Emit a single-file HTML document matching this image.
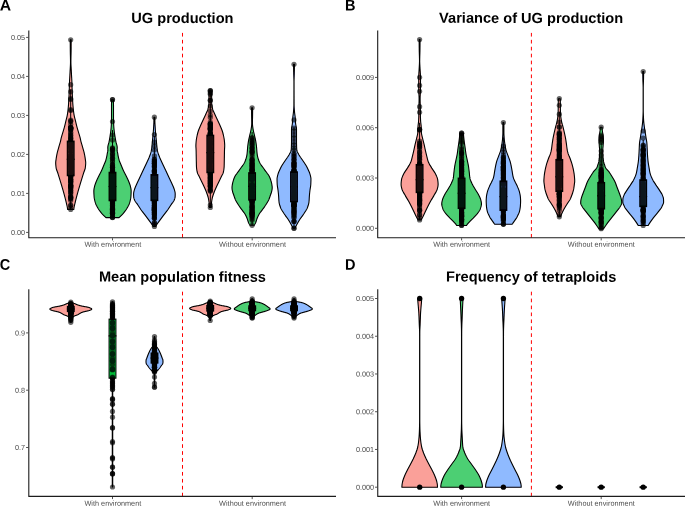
<!DOCTYPE html>
<html lang="en">
<head>
<meta charset="utf-8">
<title>Figure</title>
<style>
html,body{margin:0;padding:0;background:#fff;}
body{width:685px;height:506px;overflow:hidden;}
svg{display:block;}
.lab{font-family:"Liberation Sans",Arial,Helvetica,sans-serif;font-weight:bold;font-size:15.3px;fill:#000;}
.ttl{font-family:"Liberation Sans",Arial,Helvetica,sans-serif;font-weight:bold;font-size:14.6px;fill:#000;}
.xl{font-family:"Liberation Sans",Arial,Helvetica,sans-serif;font-size:7.3px;fill:#4D4D4D;}
.tk{font-family:"Liberation Sans",Arial,Helvetica,sans-serif;font-size:7.25px;fill:#4D4D4D;}
</style>
</head>
<body>
<svg width="685" height="506" viewBox="0 0 685 506">
<defs><filter id="soft" x="-5%" y="-5%" width="110%" height="110%"><feGaussianBlur stdDeviation="0.32"/></filter></defs>
<rect width="685" height="506" fill="#fff"/>
<g filter="url(#soft)">
<line x1="182.5" x2="182.5" y1="32.9" y2="237.7" stroke="#FF0000" stroke-width="1" stroke-dasharray="3.67,3.263" />
<path d="M70.25,39.8 L70.25,40.3 L70.25,40.8 L70.25,41.3 L70.25,41.8 L70.25,42.3 L70.26,42.8 L70.26,43.3 L70.26,43.8 L70.26,44.3 L70.26,44.8 L70.27,45.3 L70.27,45.8 L70.27,46.3 L70.28,46.8 L70.28,47.3 L70.28,47.8 L70.29,48.3 L70.29,48.8 L70.29,49.3 L70.3,49.8 L70.3,50.3 L70.31,50.8 L70.31,51.3 L70.32,51.8 L70.33,52.3 L70.34,52.8 L70.35,53.3 L70.36,53.8 L70.37,54.3 L70.38,54.8 L70.39,55.3 L70.41,55.8 L70.42,56.3 L70.43,56.8 L70.44,57.3 L70.45,57.8 L70.46,58.3 L70.47,58.8 L70.48,59.3 L70.48,59.8 L70.49,60.3 L70.5,60.8 L70.5,61.3 L70.5,61.8 L70.5,62.3 L70.49,62.8 L70.48,63.3 L70.47,63.8 L70.45,64.3 L70.44,64.8 L70.41,65.3 L70.39,65.8 L70.36,66.3 L70.33,66.8 L70.31,67.3 L70.28,67.8 L70.25,68.3 L70.22,68.8 L70.19,69.3 L70.16,69.8 L70.13,70.3 L70.1,70.8 L70.08,71.3 L70.06,71.8 L70.03,72.3 L70.01,72.8 L69.98,73.3 L69.96,73.8 L69.93,74.3 L69.9,74.8 L69.88,75.3 L69.85,75.8 L69.82,76.3 L69.79,76.8 L69.76,77.3 L69.73,77.8 L69.7,78.3 L69.67,78.8 L69.64,79.3 L69.61,79.8 L69.59,80.3 L69.56,80.8 L69.54,81.3 L69.52,81.8 L69.51,82.3 L69.49,82.8 L69.47,83.3 L69.46,83.8 L69.44,84.3 L69.42,84.8 L69.41,85.3 L69.39,85.8 L69.38,86.3 L69.36,86.8 L69.35,87.3 L69.33,87.8 L69.32,88.3 L69.3,88.8 L69.29,89.3 L69.27,89.8 L69.25,90.3 L69.24,90.8 L69.22,91.3 L69.2,91.8 L69.18,92.3 L69.15,92.8 L69.13,93.3 L69.11,93.8 L69.09,94.3 L69.07,94.8 L69.04,95.3 L69.02,95.8 L69,96.3 L68.97,96.8 L68.95,97.3 L68.92,97.8 L68.9,98.3 L68.87,98.8 L68.85,99.3 L68.82,99.8 L68.79,100.3 L68.76,100.8 L68.73,101.3 L68.7,101.8 L68.67,102.3 L68.64,102.8 L68.61,103.3 L68.57,103.8 L68.54,104.3 L68.5,104.8 L68.46,105.3 L68.42,105.8 L68.38,106.3 L68.33,106.8 L68.29,107.3 L68.24,107.8 L68.19,108.3 L68.14,108.8 L68.09,109.3 L68.03,109.8 L67.98,110.3 L67.92,110.8 L67.86,111.3 L67.79,111.8 L67.72,112.3 L67.65,112.8 L67.58,113.3 L67.5,113.8 L67.42,114.3 L67.33,114.8 L67.25,115.3 L67.15,115.8 L67.04,116.3 L66.93,116.8 L66.81,117.3 L66.69,117.8 L66.56,118.3 L66.43,118.8 L66.3,119.3 L66.17,119.8 L66.05,120.3 L65.92,120.8 L65.8,121.3 L65.69,121.8 L65.57,122.3 L65.45,122.8 L65.34,123.3 L65.22,123.8 L65.1,124.3 L64.98,124.8 L64.86,125.3 L64.73,125.8 L64.6,126.3 L64.47,126.8 L64.34,127.3 L64.2,127.8 L64.05,128.3 L63.9,128.8 L63.76,129.3 L63.61,129.8 L63.46,130.3 L63.31,130.8 L63.16,131.3 L63.01,131.8 L62.86,132.3 L62.71,132.8 L62.56,133.3 L62.4,133.8 L62.25,134.3 L62.1,134.8 L61.95,135.3 L61.8,135.8 L61.65,136.3 L61.51,136.8 L61.38,137.3 L61.25,137.8 L61.12,138.3 L61.01,138.8 L60.91,139.3 L60.81,139.8 L60.71,140.3 L60.6,140.8 L60.48,141.3 L60.35,141.8 L60.21,142.3 L60.06,142.8 L59.92,143.3 L59.76,143.8 L59.61,144.3 L59.46,144.8 L59.31,145.3 L59.16,145.8 L59.01,146.3 L58.87,146.8 L58.74,147.3 L58.6,147.8 L58.47,148.3 L58.32,148.8 L58.18,149.3 L58.03,149.8 L57.88,150.3 L57.74,150.8 L57.6,151.3 L57.47,151.8 L57.35,152.3 L57.23,152.8 L57.12,153.3 L57.02,153.8 L56.91,154.3 L56.81,154.8 L56.71,155.3 L56.62,155.8 L56.53,156.3 L56.44,156.8 L56.36,157.3 L56.29,157.8 L56.21,158.3 L56.14,158.8 L56.07,159.3 L56,159.8 L55.93,160.3 L55.86,160.8 L55.8,161.3 L55.75,161.8 L55.72,162.3 L55.7,162.8 L55.7,163.3 L55.72,163.8 L55.74,164.3 L55.78,164.8 L55.82,165.3 L55.87,165.8 L55.92,166.3 L55.98,166.8 L56.05,167.3 L56.11,167.8 L56.2,168.3 L56.32,168.8 L56.46,169.3 L56.61,169.8 L56.79,170.3 L56.97,170.8 L57.16,171.3 L57.35,171.8 L57.54,172.3 L57.73,172.8 L57.9,173.3 L58.06,173.8 L58.22,174.3 L58.38,174.8 L58.53,175.3 L58.69,175.8 L58.84,176.3 L59,176.8 L59.15,177.3 L59.31,177.8 L59.46,178.3 L59.62,178.8 L59.77,179.3 L59.92,179.8 L60.08,180.3 L60.23,180.8 L60.38,181.3 L60.53,181.8 L60.69,182.3 L60.84,182.8 L60.99,183.3 L61.14,183.8 L61.29,184.3 L61.44,184.8 L61.59,185.3 L61.74,185.8 L61.89,186.3 L62.04,186.8 L62.18,187.3 L62.33,187.8 L62.48,188.3 L62.63,188.8 L62.77,189.3 L62.92,189.8 L63.06,190.3 L63.2,190.8 L63.34,191.3 L63.48,191.8 L63.62,192.3 L63.76,192.8 L63.89,193.3 L64.03,193.8 L64.16,194.3 L64.3,194.8 L64.43,195.3 L64.56,195.8 L64.7,196.3 L64.83,196.8 L64.96,197.3 L65.09,197.8 L65.22,198.3 L65.34,198.8 L65.47,199.3 L65.6,199.8 L65.72,200.3 L65.85,200.8 L65.97,201.3 L66.09,201.8 L66.2,202.3 L66.32,202.8 L66.44,203.3 L66.56,203.8 L66.68,204.3 L66.8,204.8 L66.92,205.3 L67.04,205.8 L67.15,206.3 L67.25,206.8 L67.34,207.3 L67.42,207.8 L67.49,208.3 L67.54,208.8 L67.59,209.3 L67.6,209.5 L73.8,209.5 L73.81,209.3 L73.86,208.8 L73.91,208.3 L73.98,207.8 L74.06,207.3 L74.15,206.8 L74.25,206.3 L74.36,205.8 L74.48,205.3 L74.6,204.8 L74.72,204.3 L74.84,203.8 L74.96,203.3 L75.08,202.8 L75.2,202.3 L75.31,201.8 L75.43,201.3 L75.55,200.8 L75.68,200.3 L75.8,199.8 L75.93,199.3 L76.06,198.8 L76.18,198.3 L76.31,197.8 L76.44,197.3 L76.57,196.8 L76.7,196.3 L76.84,195.8 L76.97,195.3 L77.1,194.8 L77.24,194.3 L77.37,193.8 L77.51,193.3 L77.64,192.8 L77.78,192.3 L77.92,191.8 L78.06,191.3 L78.2,190.8 L78.34,190.3 L78.48,189.8 L78.63,189.3 L78.77,188.8 L78.92,188.3 L79.07,187.8 L79.22,187.3 L79.36,186.8 L79.51,186.3 L79.66,185.8 L79.81,185.3 L79.96,184.8 L80.11,184.3 L80.26,183.8 L80.41,183.3 L80.56,182.8 L80.71,182.3 L80.87,181.8 L81.02,181.3 L81.17,180.8 L81.32,180.3 L81.48,179.8 L81.63,179.3 L81.78,178.8 L81.94,178.3 L82.09,177.8 L82.25,177.3 L82.4,176.8 L82.56,176.3 L82.71,175.8 L82.87,175.3 L83.02,174.8 L83.18,174.3 L83.34,173.8 L83.5,173.3 L83.67,172.8 L83.86,172.3 L84.05,171.8 L84.24,171.3 L84.43,170.8 L84.61,170.3 L84.79,169.8 L84.94,169.3 L85.08,168.8 L85.2,168.3 L85.29,167.8 L85.35,167.3 L85.42,166.8 L85.48,166.3 L85.53,165.8 L85.58,165.3 L85.62,164.8 L85.66,164.3 L85.68,163.8 L85.7,163.3 L85.7,162.8 L85.68,162.3 L85.65,161.8 L85.6,161.3 L85.54,160.8 L85.47,160.3 L85.4,159.8 L85.33,159.3 L85.26,158.8 L85.19,158.3 L85.11,157.8 L85.04,157.3 L84.96,156.8 L84.87,156.3 L84.78,155.8 L84.69,155.3 L84.59,154.8 L84.49,154.3 L84.38,153.8 L84.28,153.3 L84.17,152.8 L84.05,152.3 L83.93,151.8 L83.8,151.3 L83.66,150.8 L83.52,150.3 L83.37,149.8 L83.22,149.3 L83.08,148.8 L82.93,148.3 L82.8,147.8 L82.66,147.3 L82.53,146.8 L82.39,146.3 L82.24,145.8 L82.09,145.3 L81.94,144.8 L81.79,144.3 L81.64,143.8 L81.48,143.3 L81.34,142.8 L81.19,142.3 L81.05,141.8 L80.92,141.3 L80.8,140.8 L80.69,140.3 L80.59,139.8 L80.49,139.3 L80.39,138.8 L80.28,138.3 L80.15,137.8 L80.02,137.3 L79.89,136.8 L79.75,136.3 L79.6,135.8 L79.45,135.3 L79.3,134.8 L79.15,134.3 L79,133.8 L78.84,133.3 L78.69,132.8 L78.54,132.3 L78.39,131.8 L78.24,131.3 L78.09,130.8 L77.94,130.3 L77.79,129.8 L77.64,129.3 L77.5,128.8 L77.35,128.3 L77.2,127.8 L77.06,127.3 L76.93,126.8 L76.8,126.3 L76.67,125.8 L76.54,125.3 L76.42,124.8 L76.3,124.3 L76.18,123.8 L76.06,123.3 L75.95,122.8 L75.83,122.3 L75.71,121.8 L75.6,121.3 L75.48,120.8 L75.35,120.3 L75.23,119.8 L75.1,119.3 L74.97,118.8 L74.84,118.3 L74.71,117.8 L74.59,117.3 L74.47,116.8 L74.36,116.3 L74.25,115.8 L74.15,115.3 L74.07,114.8 L73.98,114.3 L73.9,113.8 L73.82,113.3 L73.75,112.8 L73.68,112.3 L73.61,111.8 L73.54,111.3 L73.48,110.8 L73.42,110.3 L73.37,109.8 L73.31,109.3 L73.26,108.8 L73.21,108.3 L73.16,107.8 L73.11,107.3 L73.07,106.8 L73.02,106.3 L72.98,105.8 L72.94,105.3 L72.9,104.8 L72.86,104.3 L72.83,103.8 L72.79,103.3 L72.76,102.8 L72.73,102.3 L72.7,101.8 L72.67,101.3 L72.64,100.8 L72.61,100.3 L72.58,99.8 L72.55,99.3 L72.53,98.8 L72.5,98.3 L72.48,97.8 L72.45,97.3 L72.43,96.8 L72.4,96.3 L72.38,95.8 L72.36,95.3 L72.33,94.8 L72.31,94.3 L72.29,93.8 L72.27,93.3 L72.25,92.8 L72.22,92.3 L72.2,91.8 L72.18,91.3 L72.16,90.8 L72.15,90.3 L72.13,89.8 L72.11,89.3 L72.1,88.8 L72.08,88.3 L72.07,87.8 L72.05,87.3 L72.04,86.8 L72.02,86.3 L72.01,85.8 L71.99,85.3 L71.98,84.8 L71.96,84.3 L71.94,83.8 L71.93,83.3 L71.91,82.8 L71.89,82.3 L71.88,81.8 L71.86,81.3 L71.84,80.8 L71.81,80.3 L71.79,79.8 L71.76,79.3 L71.73,78.8 L71.7,78.3 L71.67,77.8 L71.64,77.3 L71.61,76.8 L71.58,76.3 L71.55,75.8 L71.52,75.3 L71.5,74.8 L71.47,74.3 L71.44,73.8 L71.42,73.3 L71.39,72.8 L71.37,72.3 L71.34,71.8 L71.32,71.3 L71.3,70.8 L71.27,70.3 L71.24,69.8 L71.21,69.3 L71.18,68.8 L71.15,68.3 L71.12,67.8 L71.09,67.3 L71.07,66.8 L71.04,66.3 L71.01,65.8 L70.99,65.3 L70.96,64.8 L70.95,64.3 L70.93,63.8 L70.92,63.3 L70.91,62.8 L70.9,62.3 L70.9,61.8 L70.9,61.3 L70.9,60.8 L70.91,60.3 L70.92,59.8 L70.92,59.3 L70.93,58.8 L70.94,58.3 L70.95,57.8 L70.96,57.3 L70.97,56.8 L70.98,56.3 L70.99,55.8 L71.01,55.3 L71.02,54.8 L71.03,54.3 L71.04,53.8 L71.05,53.3 L71.06,52.8 L71.07,52.3 L71.08,51.8 L71.09,51.3 L71.09,50.8 L71.1,50.3 L71.1,49.8 L71.11,49.3 L71.11,48.8 L71.11,48.3 L71.12,47.8 L71.12,47.3 L71.12,46.8 L71.13,46.3 L71.13,45.8 L71.13,45.3 L71.14,44.8 L71.14,44.3 L71.14,43.8 L71.14,43.3 L71.14,42.8 L71.15,42.3 L71.15,41.8 L71.15,41.3 L71.15,40.8 L71.15,40.3 L71.15,39.8Z" fill="#F8766D" fill-opacity="0.7" stroke="#000" stroke-width="1.1" stroke-linejoin="round"/>
<line x1="70.7" x2="70.7" y1="89.6" y2="209.5" stroke="#000" stroke-width="1.0"/>
<rect x="67.6" y="141.4" width="6.2" height="34" fill="#F8766D" fill-opacity="0.7" stroke="#000" stroke-width="1.7"/>
<line x1="66.75" x2="74.65" y1="159.3" y2="159.3" stroke="#000" stroke-width="1.2"/>
<g fill="#000" fill-opacity="0.6">
<circle cx="70.7" cy="39.8" r="2.6"/><circle cx="70.7" cy="209.5" r="2.6"/><circle cx="70.7" cy="84.7" r="2.6"/><circle cx="70.7" cy="91.7" r="2.6"/><circle cx="70.7" cy="98.5" r="2.6"/><circle cx="70.7" cy="99.5" r="2.6"/><circle cx="70.7" cy="109.5" r="2.6"/><circle cx="70.7" cy="110.5" r="2.6"/><circle cx="70.7" cy="120" r="2.6"/><circle cx="70.7" cy="121" r="2.6"/><circle cx="70.7" cy="121.5" r="2.6"/><circle cx="70.7" cy="138.82" r="2.6"/><circle cx="70.7" cy="186.71" r="2.6"/><circle cx="70.7" cy="179.51" r="2.6"/><circle cx="70.7" cy="148.13" r="2.6"/><circle cx="70.7" cy="162.68" r="2.6"/><circle cx="70.7" cy="160.09" r="2.6"/><circle cx="70.7" cy="171.71" r="2.6"/><circle cx="70.7" cy="181.5" r="2.6"/><circle cx="70.7" cy="135.13" r="2.6"/><circle cx="70.7" cy="127.91" r="2.6"/><circle cx="70.7" cy="185.6" r="2.6"/><circle cx="70.7" cy="159.13" r="2.6"/><circle cx="70.7" cy="179.4" r="2.6"/><circle cx="70.7" cy="124.28" r="2.6"/><circle cx="70.7" cy="159.85" r="2.6"/><circle cx="70.7" cy="176.39" r="2.6"/><circle cx="70.7" cy="146.28" r="2.6"/><circle cx="70.7" cy="198.4" r="2.6"/><circle cx="70.7" cy="192.49" r="2.6"/><circle cx="70.7" cy="128.2" r="2.6"/><circle cx="70.7" cy="127.54" r="2.6"/><circle cx="70.7" cy="165.26" r="2.6"/><circle cx="70.7" cy="197.47" r="2.6"/><circle cx="70.7" cy="156.12" r="2.6"/><circle cx="70.7" cy="145.4" r="2.6"/><circle cx="70.7" cy="158.52" r="2.6"/><circle cx="70.7" cy="128" r="2.6"/><circle cx="70.7" cy="145.77" r="2.6"/><circle cx="70.7" cy="159.42" r="2.6"/><circle cx="70.7" cy="162.7" r="2.6"/><circle cx="70.7" cy="146.59" r="2.6"/><circle cx="70.7" cy="146.44" r="2.6"/><circle cx="70.7" cy="145.56" r="2.6"/><circle cx="70.7" cy="160.66" r="2.6"/><circle cx="70.7" cy="150.46" r="2.6"/><circle cx="70.7" cy="127.02" r="2.6"/><circle cx="70.7" cy="185.77" r="2.6"/><circle cx="70.7" cy="166.11" r="2.6"/><circle cx="70.7" cy="171.13" r="2.6"/><circle cx="70.7" cy="143.07" r="2.6"/><circle cx="70.7" cy="207.54" r="2.6"/><circle cx="70.7" cy="187.94" r="2.6"/><circle cx="70.7" cy="137.64" r="2.6"/><circle cx="70.7" cy="153.18" r="2.6"/><circle cx="70.7" cy="176.38" r="2.6"/><circle cx="70.7" cy="175.66" r="2.6"/><circle cx="70.7" cy="197.08" r="2.6"/><circle cx="70.7" cy="158.52" r="2.6"/><circle cx="70.7" cy="185.07" r="2.6"/><circle cx="70.7" cy="172.91" r="2.6"/><circle cx="70.7" cy="151.34" r="2.6"/><circle cx="70.7" cy="167.89" r="2.6"/><circle cx="70.7" cy="190.32" r="2.6"/><circle cx="70.7" cy="186.59" r="2.6"/><circle cx="70.7" cy="163.23" r="2.6"/><circle cx="70.7" cy="167.97" r="2.6"/><circle cx="70.7" cy="128.69" r="2.6"/><circle cx="70.7" cy="147.28" r="2.6"/><circle cx="70.7" cy="182.22" r="2.6"/><circle cx="70.7" cy="158.06" r="2.6"/><circle cx="70.7" cy="142.05" r="2.6"/><circle cx="70.7" cy="165.67" r="2.6"/><circle cx="70.7" cy="175.1" r="2.6"/><circle cx="70.7" cy="173.18" r="2.6"/><circle cx="70.7" cy="155.73" r="2.6"/><circle cx="70.7" cy="159.49" r="2.6"/><circle cx="70.7" cy="163.4" r="2.6"/><circle cx="70.7" cy="180.67" r="2.6"/><circle cx="70.7" cy="164.11" r="2.6"/><circle cx="70.7" cy="156.83" r="2.6"/><circle cx="70.7" cy="162.36" r="2.6"/><circle cx="70.7" cy="128.07" r="2.6"/><circle cx="70.7" cy="129.78" r="2.6"/><circle cx="70.7" cy="175.12" r="2.6"/><circle cx="70.7" cy="205.31" r="2.6"/><circle cx="70.7" cy="168.21" r="2.6"/><circle cx="70.7" cy="156.85" r="2.6"/><circle cx="70.7" cy="141.84" r="2.6"/><circle cx="70.7" cy="163.06" r="2.6"/><circle cx="70.7" cy="205.07" r="2.6"/><circle cx="70.7" cy="128.4" r="2.6"/><circle cx="70.7" cy="130.06" r="2.6"/><circle cx="70.7" cy="132.28" r="2.6"/><circle cx="70.7" cy="133.56" r="2.6"/><circle cx="70.7" cy="135.74" r="2.6"/><circle cx="70.7" cy="138.08" r="2.6"/><circle cx="70.7" cy="139.6" r="2.6"/><circle cx="70.7" cy="141.38" r="2.6"/><circle cx="70.7" cy="143.09" r="2.6"/><circle cx="70.7" cy="145.27" r="2.6"/><circle cx="70.7" cy="147.58" r="2.6"/><circle cx="70.7" cy="148.53" r="2.6"/><circle cx="70.7" cy="151.21" r="2.6"/><circle cx="70.7" cy="153.15" r="2.6"/><circle cx="70.7" cy="155.11" r="2.6"/><circle cx="70.7" cy="156.87" r="2.6"/><circle cx="70.7" cy="158.83" r="2.6"/><circle cx="70.7" cy="160.44" r="2.6"/><circle cx="70.7" cy="162.39" r="2.6"/><circle cx="70.7" cy="164.15" r="2.6"/><circle cx="70.7" cy="165.68" r="2.6"/><circle cx="70.7" cy="168.39" r="2.6"/><circle cx="70.7" cy="169.99" r="2.6"/><circle cx="70.7" cy="171.52" r="2.6"/><circle cx="70.7" cy="173.73" r="2.6"/><circle cx="70.7" cy="175.61" r="2.6"/><circle cx="70.7" cy="177.38" r="2.6"/><circle cx="70.7" cy="179.27" r="2.6"/><circle cx="70.7" cy="181.36" r="2.6"/><circle cx="70.7" cy="183.35" r="2.6"/><circle cx="70.7" cy="185.24" r="2.6"/><circle cx="70.7" cy="186.98" r="2.6"/><circle cx="70.7" cy="188.45" r="2.6"/><circle cx="70.7" cy="190.55" r="2.6"/><circle cx="70.7" cy="192.4" r="2.6"/><circle cx="70.7" cy="194.71" r="2.6"/><circle cx="70.7" cy="196.89" r="2.6"/><circle cx="70.7" cy="198.72" r="2.6"/><circle cx="70.7" cy="200.62" r="2.6"/>
</g>
<rect x="67.75" y="142.2" width="5.9" height="32.4" fill="#F8766D" fill-opacity="0.12"/>
<path d="M111.6,99.7 L111.59,100.2 L111.58,100.7 L111.57,101.2 L111.56,101.7 L111.55,102.2 L111.54,102.7 L111.53,103.2 L111.52,103.7 L111.52,104.2 L111.51,104.7 L111.51,105.2 L111.5,105.7 L111.5,106.2 L111.5,106.7 L111.5,107.2 L111.5,107.7 L111.5,108.2 L111.5,108.7 L111.5,109.2 L111.5,109.7 L111.5,110.2 L111.5,110.7 L111.5,111.2 L111.5,111.7 L111.5,112.2 L111.5,112.7 L111.5,113.2 L111.5,113.7 L111.5,114.2 L111.5,114.7 L111.5,115.2 L111.5,115.7 L111.5,116.2 L111.5,116.7 L111.5,117.2 L111.5,117.7 L111.5,118.2 L111.5,118.7 L111.5,119.2 L111.49,119.7 L111.48,120.2 L111.47,120.7 L111.45,121.2 L111.44,121.7 L111.42,122.2 L111.4,122.7 L111.38,123.2 L111.36,123.7 L111.34,124.2 L111.31,124.7 L111.29,125.2 L111.26,125.7 L111.23,126.2 L111.2,126.7 L111.16,127.2 L111.12,127.7 L111.07,128.2 L111.03,128.7 L110.98,129.2 L110.93,129.7 L110.88,130.2 L110.83,130.7 L110.77,131.2 L110.71,131.7 L110.65,132.2 L110.58,132.7 L110.51,133.2 L110.44,133.7 L110.37,134.2 L110.3,134.7 L110.22,135.2 L110.15,135.7 L110.07,136.2 L109.99,136.7 L109.91,137.2 L109.83,137.7 L109.74,138.2 L109.66,138.7 L109.57,139.2 L109.48,139.7 L109.39,140.2 L109.29,140.7 L109.2,141.2 L109.1,141.7 L108.99,142.2 L108.87,142.7 L108.73,143.2 L108.58,143.7 L108.44,144.2 L108.29,144.7 L108.16,145.2 L108.04,145.7 L107.94,146.2 L107.86,146.7 L107.81,147.2 L107.8,147.7 L107.82,148.2 L107.84,148.7 L107.87,149.2 L107.9,149.7 L107.9,150.2 L107.85,150.7 L107.78,151.2 L107.67,151.7 L107.56,152.2 L107.44,152.7 L107.34,153.2 L107.25,153.7 L107.17,154.2 L107.09,154.7 L107.01,155.2 L106.92,155.7 L106.82,156.2 L106.72,156.7 L106.61,157.2 L106.5,157.7 L106.38,158.2 L106.26,158.7 L106.13,159.2 L105.99,159.7 L105.84,160.2 L105.67,160.7 L105.49,161.2 L105.3,161.7 L105.1,162.2 L104.89,162.7 L104.67,163.2 L104.45,163.7 L104.24,164.2 L104.02,164.7 L103.82,165.2 L103.61,165.7 L103.41,166.2 L103.21,166.7 L103,167.2 L102.8,167.7 L102.59,168.2 L102.38,168.7 L102.17,169.2 L101.95,169.7 L101.73,170.2 L101.5,170.7 L101.26,171.2 L101.02,171.7 L100.77,172.2 L100.51,172.7 L100.24,173.2 L99.98,173.7 L99.72,174.2 L99.46,174.7 L99.2,175.2 L98.95,175.7 L98.7,176.2 L98.46,176.7 L98.21,177.2 L97.97,177.7 L97.73,178.2 L97.49,178.7 L97.25,179.2 L97.02,179.7 L96.79,180.2 L96.58,180.7 L96.37,181.2 L96.17,181.7 L95.97,182.2 L95.78,182.7 L95.59,183.2 L95.4,183.7 L95.23,184.2 L95.06,184.7 L94.91,185.2 L94.77,185.7 L94.65,186.2 L94.53,186.7 L94.41,187.2 L94.3,187.7 L94.18,188.2 L94.08,188.7 L94,189.2 L93.93,189.7 L93.88,190.2 L93.85,190.7 L93.85,191.2 L93.86,191.7 L93.87,192.2 L93.88,192.7 L93.9,193.2 L93.92,193.7 L93.94,194.2 L93.97,194.7 L94,195.2 L94.03,195.7 L94.07,196.2 L94.1,196.7 L94.14,197.2 L94.2,197.7 L94.27,198.2 L94.35,198.7 L94.45,199.2 L94.55,199.7 L94.66,200.2 L94.79,200.7 L94.91,201.2 L95.05,201.7 L95.19,202.2 L95.33,202.7 L95.49,203.2 L95.68,203.7 L95.89,204.2 L96.12,204.7 L96.36,205.2 L96.62,205.7 L96.88,206.2 L97.16,206.7 L97.43,207.2 L97.71,207.7 L98,208.2 L98.3,208.7 L98.62,209.2 L98.94,209.7 L99.28,210.2 L99.63,210.7 L99.98,211.2 L100.36,211.7 L100.74,212.2 L101.13,212.7 L101.54,213.2 L101.95,213.7 L102.39,214.2 L102.86,214.7 L103.34,215.2 L103.85,215.7 L104.37,216.2 L104.9,216.7 L105.45,217.2 L105.9,217.6 L119.1,217.6 L119.55,217.2 L120.1,216.7 L120.63,216.2 L121.15,215.7 L121.66,215.2 L122.14,214.7 L122.61,214.2 L123.05,213.7 L123.46,213.2 L123.87,212.7 L124.26,212.2 L124.64,211.7 L125.02,211.2 L125.37,210.7 L125.72,210.2 L126.06,209.7 L126.38,209.2 L126.7,208.7 L127,208.2 L127.29,207.7 L127.57,207.2 L127.84,206.7 L128.12,206.2 L128.38,205.7 L128.64,205.2 L128.88,204.7 L129.11,204.2 L129.32,203.7 L129.51,203.2 L129.67,202.7 L129.81,202.2 L129.95,201.7 L130.09,201.2 L130.21,200.7 L130.34,200.2 L130.45,199.7 L130.55,199.2 L130.65,198.7 L130.73,198.2 L130.8,197.7 L130.86,197.2 L130.9,196.7 L130.93,196.2 L130.97,195.7 L131,195.2 L131.03,194.7 L131.06,194.2 L131.08,193.7 L131.1,193.2 L131.12,192.7 L131.13,192.2 L131.14,191.7 L131.15,191.2 L131.15,190.7 L131.12,190.2 L131.07,189.7 L131,189.2 L130.92,188.7 L130.82,188.2 L130.7,187.7 L130.59,187.2 L130.47,186.7 L130.35,186.2 L130.23,185.7 L130.09,185.2 L129.94,184.7 L129.77,184.2 L129.6,183.7 L129.41,183.2 L129.22,182.7 L129.03,182.2 L128.83,181.7 L128.63,181.2 L128.42,180.7 L128.21,180.2 L127.98,179.7 L127.75,179.2 L127.51,178.7 L127.27,178.2 L127.03,177.7 L126.79,177.2 L126.54,176.7 L126.3,176.2 L126.05,175.7 L125.8,175.2 L125.54,174.7 L125.28,174.2 L125.02,173.7 L124.76,173.2 L124.49,172.7 L124.23,172.2 L123.98,171.7 L123.74,171.2 L123.5,170.7 L123.27,170.2 L123.05,169.7 L122.83,169.2 L122.62,168.7 L122.41,168.2 L122.2,167.7 L122,167.2 L121.79,166.7 L121.59,166.2 L121.39,165.7 L121.18,165.2 L120.98,164.7 L120.76,164.2 L120.55,163.7 L120.33,163.2 L120.11,162.7 L119.9,162.2 L119.7,161.7 L119.51,161.2 L119.33,160.7 L119.16,160.2 L119.01,159.7 L118.87,159.2 L118.74,158.7 L118.62,158.2 L118.5,157.7 L118.39,157.2 L118.28,156.7 L118.18,156.2 L118.08,155.7 L117.99,155.2 L117.91,154.7 L117.83,154.2 L117.75,153.7 L117.66,153.2 L117.56,152.7 L117.44,152.2 L117.33,151.7 L117.22,151.2 L117.15,150.7 L117.1,150.2 L117.1,149.7 L117.13,149.2 L117.16,148.7 L117.18,148.2 L117.2,147.7 L117.19,147.2 L117.14,146.7 L117.06,146.2 L116.96,145.7 L116.84,145.2 L116.71,144.7 L116.56,144.2 L116.42,143.7 L116.27,143.2 L116.13,142.7 L116.01,142.2 L115.9,141.7 L115.8,141.2 L115.71,140.7 L115.61,140.2 L115.52,139.7 L115.43,139.2 L115.34,138.7 L115.26,138.2 L115.17,137.7 L115.09,137.2 L115.01,136.7 L114.93,136.2 L114.85,135.7 L114.78,135.2 L114.7,134.7 L114.63,134.2 L114.56,133.7 L114.49,133.2 L114.42,132.7 L114.35,132.2 L114.29,131.7 L114.23,131.2 L114.17,130.7 L114.12,130.2 L114.07,129.7 L114.02,129.2 L113.97,128.7 L113.93,128.2 L113.88,127.7 L113.84,127.2 L113.8,126.7 L113.77,126.2 L113.74,125.7 L113.71,125.2 L113.69,124.7 L113.66,124.2 L113.64,123.7 L113.62,123.2 L113.6,122.7 L113.58,122.2 L113.56,121.7 L113.55,121.2 L113.53,120.7 L113.52,120.2 L113.51,119.7 L113.5,119.2 L113.5,118.7 L113.5,118.2 L113.5,117.7 L113.5,117.2 L113.5,116.7 L113.5,116.2 L113.5,115.7 L113.5,115.2 L113.5,114.7 L113.5,114.2 L113.5,113.7 L113.5,113.2 L113.5,112.7 L113.5,112.2 L113.5,111.7 L113.5,111.2 L113.5,110.7 L113.5,110.2 L113.5,109.7 L113.5,109.2 L113.5,108.7 L113.5,108.2 L113.5,107.7 L113.5,107.2 L113.5,106.7 L113.5,106.2 L113.5,105.7 L113.49,105.2 L113.49,104.7 L113.48,104.2 L113.48,103.7 L113.47,103.2 L113.46,102.7 L113.45,102.2 L113.44,101.7 L113.43,101.2 L113.42,100.7 L113.41,100.2 L113.4,99.7Z" fill="#00BA38" fill-opacity="0.7" stroke="#000" stroke-width="1.1" stroke-linejoin="round"/>
<line x1="112.5" x2="112.5" y1="130.1" y2="217.6" stroke="#000" stroke-width="1.0"/>
<rect x="109.4" y="172.6" width="6.2" height="27.8" fill="#00BA38" fill-opacity="0.7" stroke="#000" stroke-width="1.7"/>
<line x1="108.55" x2="116.45" y1="186.5" y2="186.5" stroke="#000" stroke-width="1.2"/>
<g fill="#000" fill-opacity="0.6">
<circle cx="112.5" cy="99.7" r="2.6"/><circle cx="112.5" cy="217.6" r="2.6"/><circle cx="112.5" cy="99.7" r="2.6"/><circle cx="112.5" cy="121.6" r="2.6"/><circle cx="112.5" cy="135" r="2.6"/><circle cx="112.5" cy="140" r="2.6"/><circle cx="112.5" cy="213.15" r="2.6"/><circle cx="112.5" cy="212.5" r="2.6"/><circle cx="112.5" cy="154.02" r="2.6"/><circle cx="112.5" cy="158.48" r="2.6"/><circle cx="112.5" cy="205.26" r="2.6"/><circle cx="112.5" cy="200.03" r="2.6"/><circle cx="112.5" cy="196.75" r="2.6"/><circle cx="112.5" cy="178.26" r="2.6"/><circle cx="112.5" cy="193.64" r="2.6"/><circle cx="112.5" cy="193.68" r="2.6"/><circle cx="112.5" cy="192.44" r="2.6"/><circle cx="112.5" cy="167.07" r="2.6"/><circle cx="112.5" cy="185.04" r="2.6"/><circle cx="112.5" cy="183.1" r="2.6"/><circle cx="112.5" cy="199.38" r="2.6"/><circle cx="112.5" cy="216.93" r="2.6"/><circle cx="112.5" cy="212.62" r="2.6"/><circle cx="112.5" cy="190.66" r="2.6"/><circle cx="112.5" cy="185.76" r="2.6"/><circle cx="112.5" cy="175.73" r="2.6"/><circle cx="112.5" cy="150.26" r="2.6"/><circle cx="112.5" cy="148.6" r="2.6"/><circle cx="112.5" cy="186.77" r="2.6"/><circle cx="112.5" cy="178.89" r="2.6"/><circle cx="112.5" cy="182.37" r="2.6"/><circle cx="112.5" cy="208.6" r="2.6"/><circle cx="112.5" cy="189.77" r="2.6"/><circle cx="112.5" cy="191.44" r="2.6"/><circle cx="112.5" cy="173.51" r="2.6"/><circle cx="112.5" cy="147.91" r="2.6"/><circle cx="112.5" cy="179.28" r="2.6"/><circle cx="112.5" cy="164.9" r="2.6"/><circle cx="112.5" cy="189.01" r="2.6"/><circle cx="112.5" cy="217.42" r="2.6"/><circle cx="112.5" cy="196.98" r="2.6"/><circle cx="112.5" cy="169.2" r="2.6"/><circle cx="112.5" cy="208.71" r="2.6"/><circle cx="112.5" cy="203.16" r="2.6"/><circle cx="112.5" cy="199.95" r="2.6"/><circle cx="112.5" cy="209.55" r="2.6"/><circle cx="112.5" cy="201.4" r="2.6"/><circle cx="112.5" cy="202.79" r="2.6"/><circle cx="112.5" cy="180.93" r="2.6"/><circle cx="112.5" cy="215.4" r="2.6"/><circle cx="112.5" cy="213.64" r="2.6"/><circle cx="112.5" cy="167.33" r="2.6"/><circle cx="112.5" cy="200.94" r="2.6"/><circle cx="112.5" cy="198.99" r="2.6"/><circle cx="112.5" cy="186.6" r="2.6"/><circle cx="112.5" cy="189.99" r="2.6"/><circle cx="112.5" cy="188.02" r="2.6"/><circle cx="112.5" cy="210.8" r="2.6"/><circle cx="112.5" cy="188.55" r="2.6"/><circle cx="112.5" cy="205.04" r="2.6"/><circle cx="112.5" cy="180.93" r="2.6"/><circle cx="112.5" cy="208.04" r="2.6"/><circle cx="112.5" cy="209.1" r="2.6"/><circle cx="112.5" cy="186.58" r="2.6"/><circle cx="112.5" cy="191.79" r="2.6"/><circle cx="112.5" cy="210.48" r="2.6"/><circle cx="112.5" cy="199.42" r="2.6"/><circle cx="112.5" cy="187.85" r="2.6"/><circle cx="112.5" cy="172.45" r="2.6"/><circle cx="112.5" cy="179.25" r="2.6"/><circle cx="112.5" cy="198.21" r="2.6"/><circle cx="112.5" cy="167.79" r="2.6"/><circle cx="112.5" cy="209.64" r="2.6"/><circle cx="112.5" cy="175.73" r="2.6"/><circle cx="112.5" cy="209.87" r="2.6"/><circle cx="112.5" cy="178.35" r="2.6"/><circle cx="112.5" cy="213.26" r="2.6"/><circle cx="112.5" cy="198.54" r="2.6"/><circle cx="112.5" cy="188.72" r="2.6"/><circle cx="112.5" cy="189.38" r="2.6"/><circle cx="112.5" cy="195.85" r="2.6"/><circle cx="112.5" cy="192.77" r="2.6"/><circle cx="112.5" cy="178.49" r="2.6"/><circle cx="112.5" cy="171.36" r="2.6"/><circle cx="112.5" cy="189.09" r="2.6"/><circle cx="112.5" cy="211.46" r="2.6"/><circle cx="112.5" cy="149.22" r="2.6"/><circle cx="112.5" cy="150.57" r="2.6"/><circle cx="112.5" cy="153.22" r="2.6"/><circle cx="112.5" cy="155.03" r="2.6"/><circle cx="112.5" cy="157.11" r="2.6"/><circle cx="112.5" cy="158.29" r="2.6"/><circle cx="112.5" cy="160.74" r="2.6"/><circle cx="112.5" cy="161.96" r="2.6"/><circle cx="112.5" cy="164.45" r="2.6"/><circle cx="112.5" cy="165.97" r="2.6"/><circle cx="112.5" cy="167.83" r="2.6"/><circle cx="112.5" cy="170.37" r="2.6"/><circle cx="112.5" cy="171.51" r="2.6"/><circle cx="112.5" cy="173.82" r="2.6"/><circle cx="112.5" cy="176.05" r="2.6"/><circle cx="112.5" cy="177.34" r="2.6"/><circle cx="112.5" cy="179.21" r="2.6"/><circle cx="112.5" cy="181.78" r="2.6"/><circle cx="112.5" cy="183.22" r="2.6"/><circle cx="112.5" cy="185.42" r="2.6"/><circle cx="112.5" cy="186.63" r="2.6"/><circle cx="112.5" cy="188.86" r="2.6"/><circle cx="112.5" cy="190.57" r="2.6"/><circle cx="112.5" cy="192.97" r="2.6"/><circle cx="112.5" cy="194.28" r="2.6"/><circle cx="112.5" cy="197.05" r="2.6"/><circle cx="112.5" cy="198.02" r="2.6"/><circle cx="112.5" cy="200.63" r="2.6"/><circle cx="112.5" cy="201.82" r="2.6"/><circle cx="112.5" cy="203.95" r="2.6"/><circle cx="112.5" cy="206.41" r="2.6"/><circle cx="112.5" cy="207.66" r="2.6"/><circle cx="112.5" cy="209.58" r="2.6"/><circle cx="112.5" cy="211.99" r="2.6"/><circle cx="112.5" cy="213.58" r="2.6"/>
</g>
<rect x="109.55" y="173.4" width="5.9" height="26.2" fill="#00BA38" fill-opacity="0.12"/>
<path d="M153.95,117.2 L153.95,117.7 L153.95,118.2 L153.94,118.7 L153.94,119.2 L153.93,119.7 L153.92,120.2 L153.92,120.7 L153.91,121.2 L153.9,121.7 L153.89,122.2 L153.87,122.7 L153.85,123.2 L153.83,123.7 L153.8,124.2 L153.77,124.7 L153.74,125.2 L153.71,125.7 L153.68,126.2 L153.65,126.7 L153.62,127.2 L153.59,127.7 L153.56,128.2 L153.53,128.7 L153.5,129.2 L153.47,129.7 L153.43,130.2 L153.4,130.7 L153.37,131.2 L153.33,131.7 L153.29,132.2 L153.26,132.7 L153.22,133.2 L153.17,133.7 L153.13,134.2 L153.08,134.7 L153.03,135.2 L152.98,135.7 L152.92,136.2 L152.87,136.7 L152.81,137.2 L152.76,137.7 L152.7,138.2 L152.65,138.7 L152.6,139.2 L152.55,139.7 L152.5,140.2 L152.46,140.7 L152.41,141.2 L152.37,141.7 L152.32,142.2 L152.28,142.7 L152.23,143.2 L152.18,143.7 L152.13,144.2 L152.08,144.7 L152.03,145.2 L151.98,145.7 L151.92,146.2 L151.87,146.7 L151.82,147.2 L151.76,147.7 L151.7,148.2 L151.64,148.7 L151.57,149.2 L151.5,149.7 L151.42,150.2 L151.34,150.7 L151.24,151.2 L151.13,151.7 L151,152.2 L150.85,152.7 L150.69,153.2 L150.53,153.7 L150.35,154.2 L150.16,154.7 L149.97,155.2 L149.78,155.7 L149.59,156.2 L149.4,156.7 L149.21,157.2 L149,157.7 L148.79,158.2 L148.57,158.7 L148.35,159.2 L148.12,159.7 L147.89,160.2 L147.65,160.7 L147.42,161.2 L147.19,161.7 L146.96,162.2 L146.73,162.7 L146.49,163.2 L146.26,163.7 L146.02,164.2 L145.79,164.7 L145.55,165.2 L145.31,165.7 L145.07,166.2 L144.83,166.7 L144.59,167.2 L144.36,167.7 L144.12,168.2 L143.89,168.7 L143.65,169.2 L143.41,169.7 L143.17,170.2 L142.94,170.7 L142.7,171.2 L142.47,171.7 L142.23,172.2 L142,172.7 L141.76,173.2 L141.53,173.7 L141.3,174.2 L141.07,174.7 L140.84,175.2 L140.61,175.7 L140.37,176.2 L140.14,176.7 L139.91,177.2 L139.68,177.7 L139.45,178.2 L139.21,178.7 L138.97,179.2 L138.73,179.7 L138.49,180.2 L138.25,180.7 L138.01,181.2 L137.77,181.7 L137.53,182.2 L137.3,182.7 L137.07,183.2 L136.85,183.7 L136.63,184.2 L136.4,184.7 L136.17,185.2 L135.95,185.7 L135.72,186.2 L135.51,186.7 L135.3,187.2 L135.1,187.7 L134.92,188.2 L134.75,188.7 L134.6,189.2 L134.46,189.7 L134.31,190.2 L134.17,190.7 L134.03,191.2 L133.9,191.7 L133.79,192.2 L133.7,192.7 L133.64,193.2 L133.6,193.7 L133.6,194.2 L133.61,194.7 L133.62,195.2 L133.64,195.7 L133.66,196.2 L133.68,196.7 L133.72,197.2 L133.8,197.7 L133.93,198.2 L134.09,198.7 L134.28,199.2 L134.48,199.7 L134.68,200.2 L134.92,200.7 L135.2,201.2 L135.52,201.7 L135.85,202.2 L136.21,202.7 L136.58,203.2 L136.95,203.7 L137.32,204.2 L137.69,204.7 L138.03,205.2 L138.36,205.7 L138.69,206.2 L139.02,206.7 L139.35,207.2 L139.67,207.7 L140,208.2 L140.33,208.7 L140.67,209.2 L141,209.7 L141.35,210.2 L141.7,210.7 L142.06,211.2 L142.43,211.7 L142.8,212.2 L143.18,212.7 L143.57,213.2 L143.96,213.7 L144.34,214.2 L144.73,214.7 L145.12,215.2 L145.5,215.7 L145.87,216.2 L146.25,216.7 L146.62,217.2 L146.99,217.7 L147.36,218.2 L147.73,218.7 L148.1,219.2 L148.47,219.7 L148.84,220.2 L149.21,220.7 L149.58,221.2 L149.95,221.7 L150.33,222.2 L150.71,222.7 L151.09,223.2 L151.46,223.7 L151.81,224.2 L152.12,224.7 L152.42,225.2 L152.7,225.7 L152.95,226.2 L153.1,226.5 L155.7,226.5 L155.85,226.2 L156.1,225.7 L156.38,225.2 L156.68,224.7 L156.99,224.2 L157.34,223.7 L157.71,223.2 L158.09,222.7 L158.47,222.2 L158.85,221.7 L159.22,221.2 L159.59,220.7 L159.96,220.2 L160.33,219.7 L160.7,219.2 L161.07,218.7 L161.44,218.2 L161.81,217.7 L162.18,217.2 L162.55,216.7 L162.93,216.2 L163.3,215.7 L163.68,215.2 L164.07,214.7 L164.46,214.2 L164.84,213.7 L165.23,213.2 L165.62,212.7 L166,212.2 L166.37,211.7 L166.74,211.2 L167.1,210.7 L167.45,210.2 L167.8,209.7 L168.13,209.2 L168.47,208.7 L168.8,208.2 L169.13,207.7 L169.45,207.2 L169.78,206.7 L170.11,206.2 L170.44,205.7 L170.77,205.2 L171.11,204.7 L171.48,204.2 L171.85,203.7 L172.22,203.2 L172.59,202.7 L172.95,202.2 L173.28,201.7 L173.6,201.2 L173.88,200.7 L174.12,200.2 L174.32,199.7 L174.52,199.2 L174.71,198.7 L174.87,198.2 L175,197.7 L175.08,197.2 L175.12,196.7 L175.14,196.2 L175.16,195.7 L175.18,195.2 L175.19,194.7 L175.2,194.2 L175.2,193.7 L175.16,193.2 L175.1,192.7 L175.01,192.2 L174.9,191.7 L174.77,191.2 L174.63,190.7 L174.49,190.2 L174.34,189.7 L174.2,189.2 L174.05,188.7 L173.88,188.2 L173.7,187.7 L173.5,187.2 L173.29,186.7 L173.08,186.2 L172.85,185.7 L172.63,185.2 L172.4,184.7 L172.17,184.2 L171.95,183.7 L171.73,183.2 L171.5,182.7 L171.27,182.2 L171.03,181.7 L170.79,181.2 L170.55,180.7 L170.31,180.2 L170.07,179.7 L169.83,179.2 L169.59,178.7 L169.35,178.2 L169.12,177.7 L168.89,177.2 L168.66,176.7 L168.43,176.2 L168.19,175.7 L167.96,175.2 L167.73,174.7 L167.5,174.2 L167.27,173.7 L167.04,173.2 L166.8,172.7 L166.57,172.2 L166.33,171.7 L166.1,171.2 L165.86,170.7 L165.63,170.2 L165.39,169.7 L165.15,169.2 L164.91,168.7 L164.68,168.2 L164.44,167.7 L164.21,167.2 L163.97,166.7 L163.73,166.2 L163.49,165.7 L163.25,165.2 L163.01,164.7 L162.78,164.2 L162.54,163.7 L162.31,163.2 L162.07,162.7 L161.84,162.2 L161.61,161.7 L161.38,161.2 L161.15,160.7 L160.91,160.2 L160.68,159.7 L160.45,159.2 L160.23,158.7 L160.01,158.2 L159.8,157.7 L159.59,157.2 L159.4,156.7 L159.21,156.2 L159.02,155.7 L158.83,155.2 L158.64,154.7 L158.45,154.2 L158.27,153.7 L158.11,153.2 L157.95,152.7 L157.8,152.2 L157.67,151.7 L157.56,151.2 L157.46,150.7 L157.38,150.2 L157.3,149.7 L157.23,149.2 L157.16,148.7 L157.1,148.2 L157.04,147.7 L156.98,147.2 L156.93,146.7 L156.88,146.2 L156.82,145.7 L156.77,145.2 L156.72,144.7 L156.67,144.2 L156.62,143.7 L156.57,143.2 L156.52,142.7 L156.48,142.2 L156.43,141.7 L156.39,141.2 L156.34,140.7 L156.3,140.2 L156.25,139.7 L156.2,139.2 L156.15,138.7 L156.1,138.2 L156.04,137.7 L155.99,137.2 L155.93,136.7 L155.88,136.2 L155.82,135.7 L155.77,135.2 L155.72,134.7 L155.67,134.2 L155.63,133.7 L155.58,133.2 L155.54,132.7 L155.51,132.2 L155.47,131.7 L155.43,131.2 L155.4,130.7 L155.37,130.2 L155.33,129.7 L155.3,129.2 L155.27,128.7 L155.24,128.2 L155.21,127.7 L155.18,127.2 L155.15,126.7 L155.12,126.2 L155.09,125.7 L155.06,125.2 L155.03,124.7 L155,124.2 L154.97,123.7 L154.95,123.2 L154.93,122.7 L154.91,122.2 L154.9,121.7 L154.89,121.2 L154.88,120.7 L154.88,120.2 L154.87,119.7 L154.86,119.2 L154.86,118.7 L154.85,118.2 L154.85,117.7 L154.85,117.2Z" fill="#619CFF" fill-opacity="0.7" stroke="#000" stroke-width="1.1" stroke-linejoin="round"/>
<line x1="154.4" x2="154.4" y1="136" y2="226.5" stroke="#000" stroke-width="1.0"/>
<rect x="151.3" y="174.9" width="6.2" height="25.4" fill="#619CFF" fill-opacity="0.7" stroke="#000" stroke-width="1.7"/>
<line x1="150.45" x2="158.35" y1="187.6" y2="187.6" stroke="#000" stroke-width="1.2"/>
<g fill="#000" fill-opacity="0.6">
<circle cx="154.4" cy="117.2" r="2.6"/><circle cx="154.4" cy="226.5" r="2.6"/><circle cx="154.4" cy="134.5" r="2.6"/><circle cx="154.4" cy="142.1" r="2.6"/><circle cx="154.4" cy="146" r="2.6"/><circle cx="154.4" cy="150" r="2.6"/><circle cx="154.4" cy="177.56" r="2.6"/><circle cx="154.4" cy="193.19" r="2.6"/><circle cx="154.4" cy="185" r="2.6"/><circle cx="154.4" cy="195.85" r="2.6"/><circle cx="154.4" cy="196.82" r="2.6"/><circle cx="154.4" cy="163.55" r="2.6"/><circle cx="154.4" cy="155.9" r="2.6"/><circle cx="154.4" cy="207.55" r="2.6"/><circle cx="154.4" cy="178.88" r="2.6"/><circle cx="154.4" cy="177.33" r="2.6"/><circle cx="154.4" cy="224.34" r="2.6"/><circle cx="154.4" cy="189.84" r="2.6"/><circle cx="154.4" cy="207.49" r="2.6"/><circle cx="154.4" cy="190.12" r="2.6"/><circle cx="154.4" cy="197.42" r="2.6"/><circle cx="154.4" cy="171.46" r="2.6"/><circle cx="154.4" cy="197.23" r="2.6"/><circle cx="154.4" cy="209.55" r="2.6"/><circle cx="154.4" cy="192.25" r="2.6"/><circle cx="154.4" cy="202.2" r="2.6"/><circle cx="154.4" cy="198.88" r="2.6"/><circle cx="154.4" cy="163.38" r="2.6"/><circle cx="154.4" cy="203.06" r="2.6"/><circle cx="154.4" cy="195.28" r="2.6"/><circle cx="154.4" cy="181.32" r="2.6"/><circle cx="154.4" cy="159" r="2.6"/><circle cx="154.4" cy="209.38" r="2.6"/><circle cx="154.4" cy="189.96" r="2.6"/><circle cx="154.4" cy="201.1" r="2.6"/><circle cx="154.4" cy="210.31" r="2.6"/><circle cx="154.4" cy="200.87" r="2.6"/><circle cx="154.4" cy="213.64" r="2.6"/><circle cx="154.4" cy="186.25" r="2.6"/><circle cx="154.4" cy="205.37" r="2.6"/><circle cx="154.4" cy="188.65" r="2.6"/><circle cx="154.4" cy="214.98" r="2.6"/><circle cx="154.4" cy="210.31" r="2.6"/><circle cx="154.4" cy="166.88" r="2.6"/><circle cx="154.4" cy="170.29" r="2.6"/><circle cx="154.4" cy="176.21" r="2.6"/><circle cx="154.4" cy="218.37" r="2.6"/><circle cx="154.4" cy="188.25" r="2.6"/><circle cx="154.4" cy="196.86" r="2.6"/><circle cx="154.4" cy="181.31" r="2.6"/><circle cx="154.4" cy="191.53" r="2.6"/><circle cx="154.4" cy="185.8" r="2.6"/><circle cx="154.4" cy="184.01" r="2.6"/><circle cx="154.4" cy="195.01" r="2.6"/><circle cx="154.4" cy="194.97" r="2.6"/><circle cx="154.4" cy="212.22" r="2.6"/><circle cx="154.4" cy="199.37" r="2.6"/><circle cx="154.4" cy="214.35" r="2.6"/><circle cx="154.4" cy="208.77" r="2.6"/><circle cx="154.4" cy="222.9" r="2.6"/><circle cx="154.4" cy="198.87" r="2.6"/><circle cx="154.4" cy="172.42" r="2.6"/><circle cx="154.4" cy="209.05" r="2.6"/><circle cx="154.4" cy="218.26" r="2.6"/><circle cx="154.4" cy="212.26" r="2.6"/><circle cx="154.4" cy="194.3" r="2.6"/><circle cx="154.4" cy="200.86" r="2.6"/><circle cx="154.4" cy="175.82" r="2.6"/><circle cx="154.4" cy="207.19" r="2.6"/><circle cx="154.4" cy="194.5" r="2.6"/><circle cx="154.4" cy="180.39" r="2.6"/><circle cx="154.4" cy="163.31" r="2.6"/><circle cx="154.4" cy="208.61" r="2.6"/><circle cx="154.4" cy="222.6" r="2.6"/><circle cx="154.4" cy="166.01" r="2.6"/><circle cx="154.4" cy="205.36" r="2.6"/><circle cx="154.4" cy="187.01" r="2.6"/><circle cx="154.4" cy="171.47" r="2.6"/><circle cx="154.4" cy="180.91" r="2.6"/><circle cx="154.4" cy="203.61" r="2.6"/><circle cx="154.4" cy="209.88" r="2.6"/><circle cx="154.4" cy="160.91" r="2.6"/><circle cx="154.4" cy="196.32" r="2.6"/><circle cx="154.4" cy="161.01" r="2.6"/><circle cx="154.4" cy="201.08" r="2.6"/><circle cx="154.4" cy="182.95" r="2.6"/><circle cx="154.4" cy="159.23" r="2.6"/><circle cx="154.4" cy="161.23" r="2.6"/><circle cx="154.4" cy="162.65" r="2.6"/><circle cx="154.4" cy="165.04" r="2.6"/><circle cx="154.4" cy="166.26" r="2.6"/><circle cx="154.4" cy="167.92" r="2.6"/><circle cx="154.4" cy="170.35" r="2.6"/><circle cx="154.4" cy="171.68" r="2.6"/><circle cx="154.4" cy="173.74" r="2.6"/><circle cx="154.4" cy="175.85" r="2.6"/><circle cx="154.4" cy="177.96" r="2.6"/><circle cx="154.4" cy="179.4" r="2.6"/><circle cx="154.4" cy="181.19" r="2.6"/><circle cx="154.4" cy="183.91" r="2.6"/><circle cx="154.4" cy="185.26" r="2.6"/><circle cx="154.4" cy="187.81" r="2.6"/><circle cx="154.4" cy="189.64" r="2.6"/><circle cx="154.4" cy="191.02" r="2.6"/><circle cx="154.4" cy="193.01" r="2.6"/><circle cx="154.4" cy="194.97" r="2.6"/><circle cx="154.4" cy="196.99" r="2.6"/><circle cx="154.4" cy="198.84" r="2.6"/><circle cx="154.4" cy="200.71" r="2.6"/><circle cx="154.4" cy="202.67" r="2.6"/><circle cx="154.4" cy="204.89" r="2.6"/><circle cx="154.4" cy="206.35" r="2.6"/><circle cx="154.4" cy="208.18" r="2.6"/><circle cx="154.4" cy="210.37" r="2.6"/><circle cx="154.4" cy="211.78" r="2.6"/><circle cx="154.4" cy="213.75" r="2.6"/><circle cx="154.4" cy="216.32" r="2.6"/><circle cx="154.4" cy="217.77" r="2.6"/>
</g>
<rect x="151.45" y="175.7" width="5.9" height="23.8" fill="#619CFF" fill-opacity="0.12"/>
<path d="M209.4,90.5 L209.35,91 L209.29,91.5 L209.24,92 L209.19,92.5 L209.14,93 L209.1,93.5 L209.06,94 L209.02,94.5 L209,95 L208.97,95.5 L208.96,96 L208.95,96.5 L208.95,97 L208.95,97.5 L208.95,98 L208.95,98.5 L208.95,99 L208.95,99.5 L208.95,100 L208.95,100.5 L208.95,101 L208.95,101.5 L208.95,102 L208.95,102.5 L208.94,103 L208.91,103.5 L208.87,104 L208.82,104.5 L208.75,105 L208.67,105.5 L208.59,106 L208.49,106.5 L208.39,107 L208.29,107.5 L208.18,108 L208.08,108.5 L207.95,109 L207.8,109.5 L207.63,110 L207.44,110.5 L207.24,111 L207.02,111.5 L206.8,112 L206.57,112.5 L206.34,113 L206.11,113.5 L205.89,114 L205.67,114.5 L205.45,115 L205.22,115.5 L204.99,116 L204.76,116.5 L204.52,117 L204.28,117.5 L204.04,118 L203.81,118.5 L203.57,119 L203.33,119.5 L203.1,120 L202.87,120.5 L202.64,121 L202.4,121.5 L202.17,122 L201.93,122.5 L201.7,123 L201.47,123.5 L201.24,124 L201.01,124.5 L200.79,125 L200.57,125.5 L200.36,126 L200.14,126.5 L199.93,127 L199.71,127.5 L199.49,128 L199.28,128.5 L199.08,129 L198.87,129.5 L198.68,130 L198.5,130.5 L198.32,131 L198.16,131.5 L198.01,132 L197.87,132.5 L197.73,133 L197.6,133.5 L197.48,134 L197.36,134.5 L197.24,135 L197.13,135.5 L197.02,136 L196.92,136.5 L196.82,137 L196.72,137.5 L196.62,138 L196.53,138.5 L196.44,139 L196.36,139.5 L196.3,140 L196.25,140.5 L196.2,141 L196.15,141.5 L196.1,142 L196.06,142.5 L196.02,143 L195.98,143.5 L195.95,144 L195.93,144.5 L195.91,145 L195.9,145.5 L195.9,146 L195.91,146.5 L195.93,147 L195.96,147.5 L195.99,148 L196.02,148.5 L196.05,149 L196.08,149.5 L196.1,150 L196.11,150.5 L196.13,151 L196.14,151.5 L196.15,152 L196.16,152.5 L196.16,153 L196.17,153.5 L196.18,154 L196.19,154.5 L196.2,155 L196.21,155.5 L196.22,156 L196.23,156.5 L196.24,157 L196.25,157.5 L196.26,158 L196.27,158.5 L196.28,159 L196.29,159.5 L196.3,160 L196.31,160.5 L196.32,161 L196.33,161.5 L196.34,162 L196.35,162.5 L196.36,163 L196.37,163.5 L196.38,164 L196.39,164.5 L196.4,165 L196.42,165.5 L196.43,166 L196.45,166.5 L196.48,167 L196.52,167.5 L196.56,168 L196.61,168.5 L196.67,169 L196.73,169.5 L196.8,170 L196.88,170.5 L196.97,171 L197.08,171.5 L197.21,172 L197.35,172.5 L197.5,173 L197.68,173.5 L197.9,174 L198.15,174.5 L198.42,175 L198.69,175.5 L198.95,176 L199.2,176.5 L199.44,177 L199.68,177.5 L199.91,178 L200.15,178.5 L200.39,179 L200.63,179.5 L200.87,180 L201.11,180.5 L201.35,181 L201.59,181.5 L201.83,182 L202.08,182.5 L202.33,183 L202.57,183.5 L202.82,184 L203.06,184.5 L203.31,185 L203.54,185.5 L203.78,186 L204.01,186.5 L204.24,187 L204.46,187.5 L204.69,188 L204.91,188.5 L205.13,189 L205.35,189.5 L205.57,190 L205.78,190.5 L205.99,191 L206.19,191.5 L206.38,192 L206.56,192.5 L206.74,193 L206.92,193.5 L207.1,194 L207.28,194.5 L207.45,195 L207.61,195.5 L207.77,196 L207.92,196.5 L208.07,197 L208.2,197.5 L208.31,198 L208.42,198.5 L208.52,199 L208.61,199.5 L208.7,200 L208.78,200.5 L208.86,201 L208.93,201.5 L208.99,202 L209.05,202.5 L209.1,203 L209.15,203.5 L209.19,204 L209.23,204.5 L209.27,205 L209.31,205.5 L209.34,206 L209.36,206.5 L209.38,207 L209.4,207.5 L211.2,207.5 L211.22,207 L211.24,206.5 L211.26,206 L211.29,205.5 L211.33,205 L211.37,204.5 L211.41,204 L211.45,203.5 L211.5,203 L211.55,202.5 L211.61,202 L211.67,201.5 L211.74,201 L211.82,200.5 L211.9,200 L211.99,199.5 L212.08,199 L212.18,198.5 L212.29,198 L212.4,197.5 L212.53,197 L212.68,196.5 L212.83,196 L212.99,195.5 L213.15,195 L213.32,194.5 L213.5,194 L213.68,193.5 L213.86,193 L214.04,192.5 L214.22,192 L214.41,191.5 L214.61,191 L214.82,190.5 L215.03,190 L215.25,189.5 L215.47,189 L215.69,188.5 L215.91,188 L216.14,187.5 L216.36,187 L216.59,186.5 L216.82,186 L217.06,185.5 L217.29,185 L217.54,184.5 L217.78,184 L218.03,183.5 L218.27,183 L218.52,182.5 L218.77,182 L219.01,181.5 L219.25,181 L219.49,180.5 L219.73,180 L219.97,179.5 L220.21,179 L220.45,178.5 L220.69,178 L220.92,177.5 L221.16,177 L221.4,176.5 L221.65,176 L221.91,175.5 L222.18,175 L222.45,174.5 L222.7,174 L222.92,173.5 L223.1,173 L223.25,172.5 L223.39,172 L223.52,171.5 L223.63,171 L223.72,170.5 L223.8,170 L223.87,169.5 L223.93,169 L223.99,168.5 L224.04,168 L224.08,167.5 L224.12,167 L224.15,166.5 L224.17,166 L224.18,165.5 L224.2,165 L224.21,164.5 L224.22,164 L224.23,163.5 L224.24,163 L224.25,162.5 L224.26,162 L224.27,161.5 L224.28,161 L224.29,160.5 L224.3,160 L224.31,159.5 L224.32,159 L224.33,158.5 L224.34,158 L224.35,157.5 L224.36,157 L224.37,156.5 L224.38,156 L224.39,155.5 L224.4,155 L224.41,154.5 L224.42,154 L224.43,153.5 L224.44,153 L224.44,152.5 L224.45,152 L224.46,151.5 L224.47,151 L224.49,150.5 L224.5,150 L224.52,149.5 L224.55,149 L224.58,148.5 L224.61,148 L224.64,147.5 L224.67,147 L224.69,146.5 L224.7,146 L224.7,145.5 L224.69,145 L224.67,144.5 L224.65,144 L224.62,143.5 L224.58,143 L224.54,142.5 L224.5,142 L224.45,141.5 L224.4,141 L224.35,140.5 L224.3,140 L224.24,139.5 L224.16,139 L224.07,138.5 L223.98,138 L223.88,137.5 L223.78,137 L223.68,136.5 L223.58,136 L223.47,135.5 L223.36,135 L223.24,134.5 L223.12,134 L223,133.5 L222.87,133 L222.73,132.5 L222.59,132 L222.44,131.5 L222.28,131 L222.1,130.5 L221.92,130 L221.73,129.5 L221.52,129 L221.32,128.5 L221.11,128 L220.89,127.5 L220.67,127 L220.46,126.5 L220.24,126 L220.03,125.5 L219.81,125 L219.59,124.5 L219.36,124 L219.13,123.5 L218.9,123 L218.67,122.5 L218.43,122 L218.2,121.5 L217.96,121 L217.73,120.5 L217.5,120 L217.27,119.5 L217.03,119 L216.79,118.5 L216.56,118 L216.32,117.5 L216.08,117 L215.84,116.5 L215.61,116 L215.38,115.5 L215.15,115 L214.93,114.5 L214.71,114 L214.49,113.5 L214.26,113 L214.03,112.5 L213.8,112 L213.58,111.5 L213.36,111 L213.16,110.5 L212.97,110 L212.8,109.5 L212.65,109 L212.52,108.5 L212.42,108 L212.31,107.5 L212.21,107 L212.11,106.5 L212.01,106 L211.93,105.5 L211.85,105 L211.78,104.5 L211.73,104 L211.69,103.5 L211.66,103 L211.65,102.5 L211.65,102 L211.65,101.5 L211.65,101 L211.65,100.5 L211.65,100 L211.65,99.5 L211.65,99 L211.65,98.5 L211.65,98 L211.65,97.5 L211.65,97 L211.65,96.5 L211.64,96 L211.63,95.5 L211.6,95 L211.58,94.5 L211.54,94 L211.5,93.5 L211.46,93 L211.41,92.5 L211.36,92 L211.31,91.5 L211.25,91 L211.2,90.5Z" fill="#F8766D" fill-opacity="0.7" stroke="#000" stroke-width="1.1" stroke-linejoin="round"/>
<line x1="210.3" x2="210.3" y1="90.5" y2="207.5" stroke="#000" stroke-width="1.0"/>
<rect x="207.2" y="135.5" width="6.2" height="36.9" fill="#F8766D" fill-opacity="0.7" stroke="#000" stroke-width="1.7"/>
<line x1="206.35" x2="214.25" y1="152.6" y2="152.6" stroke="#000" stroke-width="1.2"/>
<g fill="#000" fill-opacity="0.6">
<circle cx="210.3" cy="90.5" r="2.6"/><circle cx="210.3" cy="207.5" r="2.6"/><circle cx="210.3" cy="90.5" r="2.6"/><circle cx="210.3" cy="91.5" r="2.6"/><circle cx="210.3" cy="93" r="2.6"/><circle cx="210.3" cy="94.3" r="2.6"/><circle cx="210.3" cy="100.2" r="2.6"/><circle cx="210.3" cy="100.6" r="2.6"/><circle cx="210.3" cy="106" r="2.6"/><circle cx="210.3" cy="111" r="2.6"/><circle cx="210.3" cy="115" r="2.6"/><circle cx="210.3" cy="117.5" r="2.6"/><circle cx="210.3" cy="138.25" r="2.6"/><circle cx="210.3" cy="129.01" r="2.6"/><circle cx="210.3" cy="148.16" r="2.6"/><circle cx="210.3" cy="132.83" r="2.6"/><circle cx="210.3" cy="125.97" r="2.6"/><circle cx="210.3" cy="148.5" r="2.6"/><circle cx="210.3" cy="184.32" r="2.6"/><circle cx="210.3" cy="173.84" r="2.6"/><circle cx="210.3" cy="171.43" r="2.6"/><circle cx="210.3" cy="137.34" r="2.6"/><circle cx="210.3" cy="156.9" r="2.6"/><circle cx="210.3" cy="140.82" r="2.6"/><circle cx="210.3" cy="134.06" r="2.6"/><circle cx="210.3" cy="129.25" r="2.6"/><circle cx="210.3" cy="136.85" r="2.6"/><circle cx="210.3" cy="185.51" r="2.6"/><circle cx="210.3" cy="175.94" r="2.6"/><circle cx="210.3" cy="174.28" r="2.6"/><circle cx="210.3" cy="173.84" r="2.6"/><circle cx="210.3" cy="135.46" r="2.6"/><circle cx="210.3" cy="142.88" r="2.6"/><circle cx="210.3" cy="162.58" r="2.6"/><circle cx="210.3" cy="169.25" r="2.6"/><circle cx="210.3" cy="178.03" r="2.6"/><circle cx="210.3" cy="180.3" r="2.6"/><circle cx="210.3" cy="127.69" r="2.6"/><circle cx="210.3" cy="161.25" r="2.6"/><circle cx="210.3" cy="165.41" r="2.6"/><circle cx="210.3" cy="154.98" r="2.6"/><circle cx="210.3" cy="134.41" r="2.6"/><circle cx="210.3" cy="152.97" r="2.6"/><circle cx="210.3" cy="127.91" r="2.6"/><circle cx="210.3" cy="186.48" r="2.6"/><circle cx="210.3" cy="178.97" r="2.6"/><circle cx="210.3" cy="157.59" r="2.6"/><circle cx="210.3" cy="142.28" r="2.6"/><circle cx="210.3" cy="183.27" r="2.6"/><circle cx="210.3" cy="159.14" r="2.6"/><circle cx="210.3" cy="180.52" r="2.6"/><circle cx="210.3" cy="177.47" r="2.6"/><circle cx="210.3" cy="155.13" r="2.6"/><circle cx="210.3" cy="149.26" r="2.6"/><circle cx="210.3" cy="160.81" r="2.6"/><circle cx="210.3" cy="150.32" r="2.6"/><circle cx="210.3" cy="133.28" r="2.6"/><circle cx="210.3" cy="142.58" r="2.6"/><circle cx="210.3" cy="174.71" r="2.6"/><circle cx="210.3" cy="123.8" r="2.6"/><circle cx="210.3" cy="124.1" r="2.6"/><circle cx="210.3" cy="162.54" r="2.6"/><circle cx="210.3" cy="141.05" r="2.6"/><circle cx="210.3" cy="156.78" r="2.6"/><circle cx="210.3" cy="152.82" r="2.6"/><circle cx="210.3" cy="144.9" r="2.6"/><circle cx="210.3" cy="204.99" r="2.6"/><circle cx="210.3" cy="135.61" r="2.6"/><circle cx="210.3" cy="149.19" r="2.6"/><circle cx="210.3" cy="136.08" r="2.6"/><circle cx="210.3" cy="162.94" r="2.6"/><circle cx="210.3" cy="140.79" r="2.6"/><circle cx="210.3" cy="145.69" r="2.6"/><circle cx="210.3" cy="170.23" r="2.6"/><circle cx="210.3" cy="143.54" r="2.6"/><circle cx="210.3" cy="158.27" r="2.6"/><circle cx="210.3" cy="182.76" r="2.6"/><circle cx="210.3" cy="128.84" r="2.6"/><circle cx="210.3" cy="125.53" r="2.6"/><circle cx="210.3" cy="137.79" r="2.6"/><circle cx="210.3" cy="171.43" r="2.6"/><circle cx="210.3" cy="161.85" r="2.6"/><circle cx="210.3" cy="138.34" r="2.6"/><circle cx="210.3" cy="144.18" r="2.6"/><circle cx="210.3" cy="134.39" r="2.6"/><circle cx="210.3" cy="152.06" r="2.6"/><circle cx="210.3" cy="123.76" r="2.6"/><circle cx="210.3" cy="167.03" r="2.6"/><circle cx="210.3" cy="181.87" r="2.6"/><circle cx="210.3" cy="189.66" r="2.6"/><circle cx="210.3" cy="169.44" r="2.6"/><circle cx="210.3" cy="190.62" r="2.6"/><circle cx="210.3" cy="121.98" r="2.6"/><circle cx="210.3" cy="124.15" r="2.6"/><circle cx="210.3" cy="126.72" r="2.6"/><circle cx="210.3" cy="128.43" r="2.6"/><circle cx="210.3" cy="129.97" r="2.6"/><circle cx="210.3" cy="132.4" r="2.6"/><circle cx="210.3" cy="133.98" r="2.6"/><circle cx="210.3" cy="136.08" r="2.6"/><circle cx="210.3" cy="137.45" r="2.6"/><circle cx="210.3" cy="139.25" r="2.6"/><circle cx="210.3" cy="141.4" r="2.6"/><circle cx="210.3" cy="142.99" r="2.6"/><circle cx="210.3" cy="145.14" r="2.6"/><circle cx="210.3" cy="147.62" r="2.6"/><circle cx="210.3" cy="148.89" r="2.6"/><circle cx="210.3" cy="150.47" r="2.6"/><circle cx="210.3" cy="152.4" r="2.6"/><circle cx="210.3" cy="154.43" r="2.6"/><circle cx="210.3" cy="156.94" r="2.6"/><circle cx="210.3" cy="158.42" r="2.6"/><circle cx="210.3" cy="160.25" r="2.6"/><circle cx="210.3" cy="161.95" r="2.6"/><circle cx="210.3" cy="164.74" r="2.6"/><circle cx="210.3" cy="166.08" r="2.6"/><circle cx="210.3" cy="167.77" r="2.6"/><circle cx="210.3" cy="169.52" r="2.6"/><circle cx="210.3" cy="171.41" r="2.6"/><circle cx="210.3" cy="173.43" r="2.6"/><circle cx="210.3" cy="175.83" r="2.6"/><circle cx="210.3" cy="177.21" r="2.6"/><circle cx="210.3" cy="179" r="2.6"/><circle cx="210.3" cy="181.35" r="2.6"/><circle cx="210.3" cy="183.01" r="2.6"/><circle cx="210.3" cy="185.66" r="2.6"/><circle cx="210.3" cy="186.68" r="2.6"/><circle cx="210.3" cy="188.99" r="2.6"/><circle cx="210.3" cy="191.13" r="2.6"/>
</g>
<rect x="207.35" y="136.3" width="5.9" height="35.3" fill="#F8766D" fill-opacity="0.12"/>
<path d="M251.65,107.8 L251.64,108.3 L251.63,108.8 L251.62,109.3 L251.61,109.8 L251.61,110.3 L251.6,110.8 L251.6,111.3 L251.6,111.8 L251.6,112.3 L251.6,112.8 L251.61,113.3 L251.61,113.8 L251.62,114.3 L251.63,114.8 L251.63,115.3 L251.64,115.8 L251.65,116.3 L251.66,116.8 L251.67,117.3 L251.68,117.8 L251.69,118.3 L251.7,118.8 L251.71,119.3 L251.72,119.8 L251.72,120.3 L251.73,120.8 L251.74,121.3 L251.74,121.8 L251.75,122.3 L251.75,122.8 L251.75,123.3 L251.74,123.8 L251.73,124.3 L251.69,124.8 L251.65,125.3 L251.6,125.8 L251.53,126.3 L251.47,126.8 L251.39,127.3 L251.32,127.8 L251.24,128.3 L251.16,128.8 L251.08,129.3 L251,129.8 L250.91,130.3 L250.8,130.8 L250.69,131.3 L250.58,131.8 L250.45,132.3 L250.33,132.8 L250.21,133.3 L250.08,133.8 L249.96,134.3 L249.84,134.8 L249.73,135.3 L249.62,135.8 L249.5,136.3 L249.38,136.8 L249.26,137.3 L249.15,137.8 L249.03,138.3 L248.92,138.8 L248.81,139.3 L248.71,139.8 L248.61,140.3 L248.52,140.8 L248.43,141.3 L248.35,141.8 L248.27,142.3 L248.2,142.8 L248.12,143.3 L248.05,143.8 L247.99,144.3 L247.92,144.8 L247.86,145.3 L247.8,145.8 L247.74,146.3 L247.69,146.8 L247.64,147.3 L247.6,147.8 L247.55,148.3 L247.51,148.8 L247.48,149.3 L247.44,149.8 L247.4,150.3 L247.36,150.8 L247.32,151.3 L247.28,151.8 L247.23,152.3 L247.18,152.8 L247.13,153.3 L247.07,153.8 L247,154.3 L246.93,154.8 L246.85,155.3 L246.75,155.8 L246.64,156.3 L246.53,156.8 L246.4,157.3 L246.27,157.8 L246.13,158.3 L245.98,158.8 L245.83,159.3 L245.66,159.8 L245.49,160.3 L245.3,160.8 L245.1,161.3 L244.89,161.8 L244.66,162.3 L244.41,162.8 L244.14,163.3 L243.85,163.8 L243.52,164.3 L243.18,164.8 L242.82,165.3 L242.45,165.8 L242.08,166.3 L241.73,166.8 L241.38,167.3 L241.02,167.8 L240.66,168.3 L240.3,168.8 L239.94,169.3 L239.58,169.8 L239.21,170.3 L238.84,170.8 L238.47,171.3 L238.1,171.8 L237.74,172.3 L237.38,172.8 L237.02,173.3 L236.64,173.8 L236.27,174.3 L235.91,174.8 L235.58,175.3 L235.27,175.8 L235,176.3 L234.76,176.8 L234.53,177.3 L234.31,177.8 L234.11,178.3 L233.91,178.8 L233.73,179.3 L233.55,179.8 L233.39,180.3 L233.23,180.8 L233.09,181.3 L232.94,181.8 L232.81,182.3 L232.68,182.8 L232.57,183.3 L232.47,183.8 L232.38,184.3 L232.3,184.8 L232.23,185.3 L232.15,185.8 L232.09,186.3 L232.04,186.8 L232.01,187.3 L232,187.8 L232.02,188.3 L232.06,188.8 L232.13,189.3 L232.21,189.8 L232.31,190.3 L232.42,190.8 L232.54,191.3 L232.66,191.8 L232.78,192.3 L232.91,192.8 L233.07,193.3 L233.25,193.8 L233.44,194.3 L233.63,194.8 L233.8,195.3 L233.97,195.8 L234.14,196.3 L234.31,196.8 L234.47,197.3 L234.65,197.8 L234.83,198.3 L235.02,198.8 L235.22,199.3 L235.44,199.8 L235.68,200.3 L235.93,200.8 L236.2,201.3 L236.48,201.8 L236.77,202.3 L237.07,202.8 L237.38,203.3 L237.7,203.8 L238.02,204.3 L238.34,204.8 L238.66,205.3 L239,205.8 L239.35,206.3 L239.71,206.8 L240.08,207.3 L240.45,207.8 L240.82,208.3 L241.19,208.8 L241.56,209.3 L241.92,209.8 L242.29,210.3 L242.67,210.8 L243.05,211.3 L243.43,211.8 L243.8,212.3 L244.16,212.8 L244.5,213.3 L244.82,213.8 L245.11,214.3 L245.39,214.8 L245.65,215.3 L245.91,215.8 L246.15,216.3 L246.38,216.8 L246.61,217.3 L246.83,217.8 L247.04,218.3 L247.24,218.8 L247.43,219.3 L247.59,219.8 L247.75,220.3 L247.9,220.8 L248.05,221.3 L248.21,221.8 L248.39,222.3 L248.58,222.8 L248.8,223.3 L249.07,223.8 L249.38,224.3 L249.73,224.8 L250.1,225.3 L250.1,225.3 L254.1,225.3 L254.1,225.3 L254.47,224.8 L254.82,224.3 L255.13,223.8 L255.4,223.3 L255.62,222.8 L255.81,222.3 L255.99,221.8 L256.15,221.3 L256.3,220.8 L256.45,220.3 L256.61,219.8 L256.77,219.3 L256.96,218.8 L257.16,218.3 L257.37,217.8 L257.59,217.3 L257.82,216.8 L258.05,216.3 L258.29,215.8 L258.55,215.3 L258.81,214.8 L259.09,214.3 L259.38,213.8 L259.7,213.3 L260.04,212.8 L260.4,212.3 L260.77,211.8 L261.15,211.3 L261.53,210.8 L261.91,210.3 L262.28,209.8 L262.64,209.3 L263.01,208.8 L263.38,208.3 L263.75,207.8 L264.12,207.3 L264.49,206.8 L264.85,206.3 L265.2,205.8 L265.54,205.3 L265.86,204.8 L266.18,204.3 L266.5,203.8 L266.82,203.3 L267.13,202.8 L267.43,202.3 L267.72,201.8 L268,201.3 L268.27,200.8 L268.52,200.3 L268.76,199.8 L268.98,199.3 L269.18,198.8 L269.37,198.3 L269.55,197.8 L269.73,197.3 L269.89,196.8 L270.06,196.3 L270.23,195.8 L270.4,195.3 L270.57,194.8 L270.76,194.3 L270.95,193.8 L271.13,193.3 L271.29,192.8 L271.42,192.3 L271.54,191.8 L271.66,191.3 L271.78,190.8 L271.89,190.3 L271.99,189.8 L272.07,189.3 L272.14,188.8 L272.18,188.3 L272.2,187.8 L272.19,187.3 L272.16,186.8 L272.11,186.3 L272.05,185.8 L271.97,185.3 L271.9,184.8 L271.82,184.3 L271.73,183.8 L271.63,183.3 L271.52,182.8 L271.39,182.3 L271.26,181.8 L271.11,181.3 L270.97,180.8 L270.81,180.3 L270.65,179.8 L270.47,179.3 L270.29,178.8 L270.09,178.3 L269.89,177.8 L269.67,177.3 L269.44,176.8 L269.2,176.3 L268.93,175.8 L268.62,175.3 L268.29,174.8 L267.93,174.3 L267.56,173.8 L267.18,173.3 L266.82,172.8 L266.46,172.3 L266.1,171.8 L265.73,171.3 L265.36,170.8 L264.99,170.3 L264.62,169.8 L264.26,169.3 L263.9,168.8 L263.54,168.3 L263.18,167.8 L262.82,167.3 L262.47,166.8 L262.12,166.3 L261.75,165.8 L261.38,165.3 L261.02,164.8 L260.68,164.3 L260.35,163.8 L260.06,163.3 L259.79,162.8 L259.54,162.3 L259.31,161.8 L259.1,161.3 L258.9,160.8 L258.71,160.3 L258.54,159.8 L258.37,159.3 L258.22,158.8 L258.07,158.3 L257.93,157.8 L257.8,157.3 L257.67,156.8 L257.56,156.3 L257.45,155.8 L257.35,155.3 L257.27,154.8 L257.2,154.3 L257.13,153.8 L257.07,153.3 L257.02,152.8 L256.97,152.3 L256.92,151.8 L256.88,151.3 L256.84,150.8 L256.8,150.3 L256.76,149.8 L256.72,149.3 L256.69,148.8 L256.65,148.3 L256.6,147.8 L256.56,147.3 L256.51,146.8 L256.46,146.3 L256.4,145.8 L256.34,145.3 L256.28,144.8 L256.21,144.3 L256.15,143.8 L256.08,143.3 L256,142.8 L255.93,142.3 L255.85,141.8 L255.77,141.3 L255.68,140.8 L255.59,140.3 L255.49,139.8 L255.39,139.3 L255.28,138.8 L255.17,138.3 L255.05,137.8 L254.94,137.3 L254.82,136.8 L254.7,136.3 L254.58,135.8 L254.47,135.3 L254.36,134.8 L254.24,134.3 L254.12,133.8 L253.99,133.3 L253.87,132.8 L253.75,132.3 L253.62,131.8 L253.51,131.3 L253.4,130.8 L253.29,130.3 L253.2,129.8 L253.12,129.3 L253.04,128.8 L252.96,128.3 L252.88,127.8 L252.81,127.3 L252.73,126.8 L252.67,126.3 L252.6,125.8 L252.55,125.3 L252.51,124.8 L252.47,124.3 L252.46,123.8 L252.45,123.3 L252.45,122.8 L252.45,122.3 L252.46,121.8 L252.46,121.3 L252.47,120.8 L252.48,120.3 L252.48,119.8 L252.49,119.3 L252.5,118.8 L252.51,118.3 L252.52,117.8 L252.53,117.3 L252.54,116.8 L252.55,116.3 L252.56,115.8 L252.57,115.3 L252.57,114.8 L252.58,114.3 L252.59,113.8 L252.59,113.3 L252.6,112.8 L252.6,112.3 L252.6,111.8 L252.6,111.3 L252.6,110.8 L252.59,110.3 L252.59,109.8 L252.58,109.3 L252.57,108.8 L252.56,108.3 L252.55,107.8Z" fill="#00BA38" fill-opacity="0.7" stroke="#000" stroke-width="1.1" stroke-linejoin="round"/>
<line x1="252.1" x2="252.1" y1="132" y2="225.3" stroke="#000" stroke-width="1.0"/>
<rect x="249" y="173" width="6.2" height="26.8" fill="#00BA38" fill-opacity="0.7" stroke="#000" stroke-width="1.7"/>
<line x1="248.15" x2="256.05" y1="186.4" y2="186.4" stroke="#000" stroke-width="1.2"/>
<g fill="#000" fill-opacity="0.6">
<circle cx="252.1" cy="107.8" r="2.6"/><circle cx="252.1" cy="225.3" r="2.6"/><circle cx="252.1" cy="192.21" r="2.6"/><circle cx="252.1" cy="198.44" r="2.6"/><circle cx="252.1" cy="201.54" r="2.6"/><circle cx="252.1" cy="213.59" r="2.6"/><circle cx="252.1" cy="198.34" r="2.6"/><circle cx="252.1" cy="211.24" r="2.6"/><circle cx="252.1" cy="144.79" r="2.6"/><circle cx="252.1" cy="184.62" r="2.6"/><circle cx="252.1" cy="213.71" r="2.6"/><circle cx="252.1" cy="193.51" r="2.6"/><circle cx="252.1" cy="209.16" r="2.6"/><circle cx="252.1" cy="160.62" r="2.6"/><circle cx="252.1" cy="184.78" r="2.6"/><circle cx="252.1" cy="172.87" r="2.6"/><circle cx="252.1" cy="188.37" r="2.6"/><circle cx="252.1" cy="189.81" r="2.6"/><circle cx="252.1" cy="140.88" r="2.6"/><circle cx="252.1" cy="170.83" r="2.6"/><circle cx="252.1" cy="174.9" r="2.6"/><circle cx="252.1" cy="210.63" r="2.6"/><circle cx="252.1" cy="199.8" r="2.6"/><circle cx="252.1" cy="166.1" r="2.6"/><circle cx="252.1" cy="201.66" r="2.6"/><circle cx="252.1" cy="163.9" r="2.6"/><circle cx="252.1" cy="191.94" r="2.6"/><circle cx="252.1" cy="162.44" r="2.6"/><circle cx="252.1" cy="137.56" r="2.6"/><circle cx="252.1" cy="206.7" r="2.6"/><circle cx="252.1" cy="170.3" r="2.6"/><circle cx="252.1" cy="170.74" r="2.6"/><circle cx="252.1" cy="220.32" r="2.6"/><circle cx="252.1" cy="206.78" r="2.6"/><circle cx="252.1" cy="175.48" r="2.6"/><circle cx="252.1" cy="216.35" r="2.6"/><circle cx="252.1" cy="188.15" r="2.6"/><circle cx="252.1" cy="195" r="2.6"/><circle cx="252.1" cy="169.95" r="2.6"/><circle cx="252.1" cy="213.41" r="2.6"/><circle cx="252.1" cy="195.67" r="2.6"/><circle cx="252.1" cy="217.21" r="2.6"/><circle cx="252.1" cy="208.53" r="2.6"/><circle cx="252.1" cy="176.02" r="2.6"/><circle cx="252.1" cy="179.39" r="2.6"/><circle cx="252.1" cy="166.7" r="2.6"/><circle cx="252.1" cy="164.68" r="2.6"/><circle cx="252.1" cy="152.4" r="2.6"/><circle cx="252.1" cy="176.16" r="2.6"/><circle cx="252.1" cy="191.23" r="2.6"/><circle cx="252.1" cy="138.08" r="2.6"/><circle cx="252.1" cy="195" r="2.6"/><circle cx="252.1" cy="178.16" r="2.6"/><circle cx="252.1" cy="176.64" r="2.6"/><circle cx="252.1" cy="203" r="2.6"/><circle cx="252.1" cy="185.35" r="2.6"/><circle cx="252.1" cy="176.97" r="2.6"/><circle cx="252.1" cy="185.37" r="2.6"/><circle cx="252.1" cy="196.42" r="2.6"/><circle cx="252.1" cy="150.77" r="2.6"/><circle cx="252.1" cy="218.79" r="2.6"/><circle cx="252.1" cy="143.35" r="2.6"/><circle cx="252.1" cy="198.89" r="2.6"/><circle cx="252.1" cy="204.77" r="2.6"/><circle cx="252.1" cy="142.17" r="2.6"/><circle cx="252.1" cy="201.09" r="2.6"/><circle cx="252.1" cy="179.65" r="2.6"/><circle cx="252.1" cy="190.04" r="2.6"/><circle cx="252.1" cy="139.78" r="2.6"/><circle cx="252.1" cy="148.66" r="2.6"/><circle cx="252.1" cy="168.03" r="2.6"/><circle cx="252.1" cy="215.37" r="2.6"/><circle cx="252.1" cy="169.31" r="2.6"/><circle cx="252.1" cy="199.23" r="2.6"/><circle cx="252.1" cy="212.04" r="2.6"/><circle cx="252.1" cy="213.54" r="2.6"/><circle cx="252.1" cy="178.51" r="2.6"/><circle cx="252.1" cy="179.06" r="2.6"/><circle cx="252.1" cy="187.46" r="2.6"/><circle cx="252.1" cy="200.37" r="2.6"/><circle cx="252.1" cy="159.87" r="2.6"/><circle cx="252.1" cy="198.81" r="2.6"/><circle cx="252.1" cy="145.31" r="2.6"/><circle cx="252.1" cy="147.28" r="2.6"/><circle cx="252.1" cy="148.35" r="2.6"/><circle cx="252.1" cy="151.16" r="2.6"/><circle cx="252.1" cy="152.21" r="2.6"/><circle cx="252.1" cy="154.36" r="2.6"/><circle cx="252.1" cy="156.53" r="2.6"/><circle cx="252.1" cy="158.73" r="2.6"/><circle cx="252.1" cy="160.06" r="2.6"/><circle cx="252.1" cy="162.54" r="2.6"/><circle cx="252.1" cy="164.06" r="2.6"/><circle cx="252.1" cy="165.73" r="2.6"/><circle cx="252.1" cy="167.63" r="2.6"/><circle cx="252.1" cy="169.39" r="2.6"/><circle cx="252.1" cy="171.19" r="2.6"/><circle cx="252.1" cy="173.17" r="2.6"/><circle cx="252.1" cy="175.61" r="2.6"/><circle cx="252.1" cy="177.81" r="2.6"/><circle cx="252.1" cy="178.88" r="2.6"/><circle cx="252.1" cy="180.66" r="2.6"/><circle cx="252.1" cy="183.5" r="2.6"/><circle cx="252.1" cy="184.95" r="2.6"/><circle cx="252.1" cy="186.72" r="2.6"/><circle cx="252.1" cy="188.45" r="2.6"/><circle cx="252.1" cy="190.71" r="2.6"/><circle cx="252.1" cy="192.84" r="2.6"/><circle cx="252.1" cy="194.37" r="2.6"/><circle cx="252.1" cy="196.24" r="2.6"/><circle cx="252.1" cy="197.77" r="2.6"/><circle cx="252.1" cy="200.53" r="2.6"/><circle cx="252.1" cy="201.55" r="2.6"/><circle cx="252.1" cy="203.91" r="2.6"/><circle cx="252.1" cy="206.15" r="2.6"/><circle cx="252.1" cy="207.35" r="2.6"/><circle cx="252.1" cy="209.85" r="2.6"/><circle cx="252.1" cy="211.97" r="2.6"/><circle cx="252.1" cy="213.55" r="2.6"/><circle cx="252.1" cy="215.6" r="2.6"/>
</g>
<rect x="249.15" y="173.8" width="5.9" height="25.2" fill="#00BA38" fill-opacity="0.12"/>
<path d="M293.55,64.3 L293.56,64.8 L293.56,65.3 L293.57,65.8 L293.58,66.3 L293.58,66.8 L293.59,67.3 L293.6,67.8 L293.61,68.3 L293.62,68.8 L293.63,69.3 L293.64,69.8 L293.65,70.3 L293.65,70.8 L293.66,71.3 L293.67,71.8 L293.69,72.3 L293.7,72.8 L293.71,73.3 L293.72,73.8 L293.73,74.3 L293.75,74.8 L293.77,75.3 L293.79,75.8 L293.8,76.3 L293.82,76.8 L293.84,77.3 L293.86,77.8 L293.88,78.3 L293.89,78.8 L293.91,79.3 L293.92,79.8 L293.93,80.3 L293.94,80.8 L293.95,81.3 L293.95,81.8 L293.95,82.3 L293.95,82.8 L293.95,83.3 L293.95,83.8 L293.95,84.3 L293.95,84.8 L293.95,85.3 L293.95,85.8 L293.95,86.3 L293.95,86.8 L293.95,87.3 L293.95,87.8 L293.95,88.3 L293.95,88.8 L293.95,89.3 L293.95,89.8 L293.94,90.3 L293.94,90.8 L293.94,91.3 L293.94,91.8 L293.94,92.3 L293.94,92.8 L293.94,93.3 L293.94,93.8 L293.94,94.3 L293.94,94.8 L293.94,95.3 L293.93,95.8 L293.93,96.3 L293.93,96.8 L293.93,97.3 L293.93,97.8 L293.93,98.3 L293.93,98.8 L293.92,99.3 L293.92,99.8 L293.92,100.3 L293.92,100.8 L293.92,101.3 L293.91,101.8 L293.91,102.3 L293.91,102.8 L293.91,103.3 L293.91,103.8 L293.9,104.3 L293.9,104.8 L293.9,105.3 L293.89,105.8 L293.87,106.3 L293.85,106.8 L293.83,107.3 L293.8,107.8 L293.77,108.3 L293.73,108.8 L293.69,109.3 L293.65,109.8 L293.61,110.3 L293.57,110.8 L293.53,111.3 L293.49,111.8 L293.45,112.3 L293.39,112.8 L293.33,113.3 L293.26,113.8 L293.2,114.3 L293.13,114.8 L293.06,115.3 L292.99,115.8 L292.93,116.3 L292.87,116.8 L292.82,117.3 L292.77,117.8 L292.74,118.3 L292.7,118.8 L292.67,119.3 L292.64,119.8 L292.61,120.3 L292.59,120.8 L292.56,121.3 L292.53,121.8 L292.49,122.3 L292.45,122.8 L292.41,123.3 L292.35,123.8 L292.28,124.3 L292.19,124.8 L292.09,125.3 L291.99,125.8 L291.88,126.3 L291.78,126.8 L291.69,127.3 L291.61,127.8 L291.55,128.3 L291.51,128.8 L291.5,129.3 L291.5,129.8 L291.5,130.3 L291.5,130.8 L291.5,131.3 L291.5,131.8 L291.5,132.3 L291.5,132.8 L291.5,133.3 L291.5,133.8 L291.5,134.3 L291.5,134.8 L291.5,135.3 L291.5,135.8 L291.5,136.3 L291.5,136.8 L291.5,137.3 L291.5,137.8 L291.5,138.3 L291.5,138.8 L291.5,139.3 L291.5,139.8 L291.5,140.3 L291.5,140.8 L291.5,141.3 L291.5,141.8 L291.49,142.3 L291.49,142.8 L291.48,143.3 L291.47,143.8 L291.46,144.3 L291.45,144.8 L291.44,145.3 L291.42,145.8 L291.41,146.3 L291.4,146.8 L291.38,147.3 L291.36,147.8 L291.33,148.3 L291.3,148.8 L291.26,149.3 L291.22,149.8 L291.16,150.3 L291.04,150.8 L290.87,151.3 L290.66,151.8 L290.42,152.3 L290.17,152.8 L289.9,153.3 L289.65,153.8 L289.39,154.3 L289.12,154.8 L288.82,155.3 L288.51,155.8 L288.19,156.3 L287.86,156.8 L287.54,157.3 L287.19,157.8 L286.84,158.3 L286.48,158.8 L286.12,159.3 L285.77,159.8 L285.42,160.3 L285.08,160.8 L284.74,161.3 L284.4,161.8 L284.06,162.3 L283.73,162.8 L283.4,163.3 L283.07,163.8 L282.74,164.3 L282.42,164.8 L282.1,165.3 L281.79,165.8 L281.51,166.3 L281.23,166.8 L280.98,167.3 L280.73,167.8 L280.49,168.3 L280.25,168.8 L280.02,169.3 L279.79,169.8 L279.56,170.3 L279.33,170.8 L279.1,171.3 L278.88,171.8 L278.67,172.3 L278.47,172.8 L278.29,173.3 L278.12,173.8 L277.96,174.3 L277.8,174.8 L277.66,175.3 L277.54,175.8 L277.44,176.3 L277.33,176.8 L277.23,177.3 L277.14,177.8 L277.08,178.3 L277.05,178.8 L277.05,179.3 L277.06,179.8 L277.06,180.3 L277.07,180.8 L277.09,181.3 L277.1,181.8 L277.12,182.3 L277.14,182.8 L277.16,183.3 L277.18,183.8 L277.2,184.3 L277.24,184.8 L277.29,185.3 L277.35,185.8 L277.42,186.3 L277.5,186.8 L277.58,187.3 L277.67,187.8 L277.75,188.3 L277.83,188.8 L277.91,189.3 L277.98,189.8 L278.04,190.3 L278.09,190.8 L278.15,191.3 L278.21,191.8 L278.26,192.3 L278.32,192.8 L278.37,193.3 L278.42,193.8 L278.47,194.3 L278.51,194.8 L278.56,195.3 L278.6,195.8 L278.64,196.3 L278.67,196.8 L278.7,197.3 L278.73,197.8 L278.76,198.3 L278.78,198.8 L278.81,199.3 L278.84,199.8 L278.88,200.3 L278.91,200.8 L278.96,201.3 L279.01,201.8 L279.08,202.3 L279.16,202.8 L279.26,203.3 L279.37,203.8 L279.49,204.3 L279.62,204.8 L279.77,205.3 L279.92,205.8 L280.09,206.3 L280.25,206.8 L280.43,207.3 L280.61,207.8 L280.82,208.3 L281.06,208.8 L281.32,209.3 L281.61,209.8 L281.9,210.3 L282.21,210.8 L282.53,211.3 L282.86,211.8 L283.19,212.3 L283.51,212.8 L283.84,213.3 L284.16,213.8 L284.5,214.3 L284.85,214.8 L285.21,215.3 L285.58,215.8 L285.95,216.3 L286.32,216.8 L286.68,217.3 L287.05,217.8 L287.4,218.3 L287.74,218.8 L288.06,219.3 L288.38,219.8 L288.69,220.3 L289,220.8 L289.31,221.3 L289.61,221.8 L289.9,222.3 L290.19,222.8 L290.47,223.3 L290.75,223.8 L291.03,224.3 L291.29,224.8 L291.56,225.3 L291.81,225.8 L292.06,226.3 L292.3,226.8 L292.54,227.3 L292.77,227.8 L293,228.3 L295,228.3 L295.23,227.8 L295.46,227.3 L295.7,226.8 L295.94,226.3 L296.19,225.8 L296.44,225.3 L296.71,224.8 L296.97,224.3 L297.25,223.8 L297.53,223.3 L297.81,222.8 L298.1,222.3 L298.39,221.8 L298.69,221.3 L299,220.8 L299.31,220.3 L299.62,219.8 L299.94,219.3 L300.26,218.8 L300.6,218.3 L300.95,217.8 L301.32,217.3 L301.68,216.8 L302.05,216.3 L302.42,215.8 L302.79,215.3 L303.15,214.8 L303.5,214.3 L303.84,213.8 L304.16,213.3 L304.49,212.8 L304.81,212.3 L305.14,211.8 L305.47,211.3 L305.79,210.8 L306.1,210.3 L306.39,209.8 L306.68,209.3 L306.94,208.8 L307.18,208.3 L307.39,207.8 L307.57,207.3 L307.75,206.8 L307.91,206.3 L308.08,205.8 L308.23,205.3 L308.38,204.8 L308.51,204.3 L308.63,203.8 L308.74,203.3 L308.84,202.8 L308.92,202.3 L308.99,201.8 L309.04,201.3 L309.09,200.8 L309.12,200.3 L309.16,199.8 L309.19,199.3 L309.22,198.8 L309.24,198.3 L309.27,197.8 L309.3,197.3 L309.33,196.8 L309.36,196.3 L309.4,195.8 L309.44,195.3 L309.49,194.8 L309.53,194.3 L309.58,193.8 L309.63,193.3 L309.68,192.8 L309.74,192.3 L309.79,191.8 L309.85,191.3 L309.91,190.8 L309.96,190.3 L310.02,189.8 L310.09,189.3 L310.17,188.8 L310.25,188.3 L310.33,187.8 L310.42,187.3 L310.5,186.8 L310.58,186.3 L310.65,185.8 L310.71,185.3 L310.76,184.8 L310.8,184.3 L310.82,183.8 L310.84,183.3 L310.86,182.8 L310.88,182.3 L310.9,181.8 L310.91,181.3 L310.93,180.8 L310.94,180.3 L310.94,179.8 L310.95,179.3 L310.95,178.8 L310.92,178.3 L310.86,177.8 L310.77,177.3 L310.67,176.8 L310.56,176.3 L310.46,175.8 L310.34,175.3 L310.2,174.8 L310.04,174.3 L309.88,173.8 L309.71,173.3 L309.53,172.8 L309.33,172.3 L309.12,171.8 L308.9,171.3 L308.67,170.8 L308.44,170.3 L308.21,169.8 L307.98,169.3 L307.75,168.8 L307.51,168.3 L307.27,167.8 L307.02,167.3 L306.77,166.8 L306.49,166.3 L306.21,165.8 L305.9,165.3 L305.58,164.8 L305.26,164.3 L304.93,163.8 L304.6,163.3 L304.27,162.8 L303.94,162.3 L303.6,161.8 L303.26,161.3 L302.92,160.8 L302.58,160.3 L302.23,159.8 L301.88,159.3 L301.52,158.8 L301.16,158.3 L300.81,157.8 L300.46,157.3 L300.14,156.8 L299.81,156.3 L299.49,155.8 L299.18,155.3 L298.88,154.8 L298.61,154.3 L298.35,153.8 L298.1,153.3 L297.83,152.8 L297.58,152.3 L297.34,151.8 L297.13,151.3 L296.96,150.8 L296.84,150.3 L296.78,149.8 L296.74,149.3 L296.7,148.8 L296.67,148.3 L296.64,147.8 L296.62,147.3 L296.6,146.8 L296.59,146.3 L296.58,145.8 L296.56,145.3 L296.55,144.8 L296.54,144.3 L296.53,143.8 L296.52,143.3 L296.51,142.8 L296.51,142.3 L296.5,141.8 L296.5,141.3 L296.5,140.8 L296.5,140.3 L296.5,139.8 L296.5,139.3 L296.5,138.8 L296.5,138.3 L296.5,137.8 L296.5,137.3 L296.5,136.8 L296.5,136.3 L296.5,135.8 L296.5,135.3 L296.5,134.8 L296.5,134.3 L296.5,133.8 L296.5,133.3 L296.5,132.8 L296.5,132.3 L296.5,131.8 L296.5,131.3 L296.5,130.8 L296.5,130.3 L296.5,129.8 L296.5,129.3 L296.49,128.8 L296.45,128.3 L296.39,127.8 L296.31,127.3 L296.22,126.8 L296.12,126.3 L296.01,125.8 L295.91,125.3 L295.81,124.8 L295.72,124.3 L295.65,123.8 L295.59,123.3 L295.55,122.8 L295.51,122.3 L295.47,121.8 L295.44,121.3 L295.41,120.8 L295.39,120.3 L295.36,119.8 L295.33,119.3 L295.3,118.8 L295.26,118.3 L295.23,117.8 L295.18,117.3 L295.13,116.8 L295.07,116.3 L295.01,115.8 L294.94,115.3 L294.87,114.8 L294.8,114.3 L294.74,113.8 L294.67,113.3 L294.61,112.8 L294.55,112.3 L294.51,111.8 L294.47,111.3 L294.43,110.8 L294.39,110.3 L294.35,109.8 L294.31,109.3 L294.27,108.8 L294.23,108.3 L294.2,107.8 L294.17,107.3 L294.15,106.8 L294.13,106.3 L294.11,105.8 L294.1,105.3 L294.1,104.8 L294.1,104.3 L294.09,103.8 L294.09,103.3 L294.09,102.8 L294.09,102.3 L294.09,101.8 L294.08,101.3 L294.08,100.8 L294.08,100.3 L294.08,99.8 L294.08,99.3 L294.07,98.8 L294.07,98.3 L294.07,97.8 L294.07,97.3 L294.07,96.8 L294.07,96.3 L294.07,95.8 L294.06,95.3 L294.06,94.8 L294.06,94.3 L294.06,93.8 L294.06,93.3 L294.06,92.8 L294.06,92.3 L294.06,91.8 L294.06,91.3 L294.06,90.8 L294.06,90.3 L294.05,89.8 L294.05,89.3 L294.05,88.8 L294.05,88.3 L294.05,87.8 L294.05,87.3 L294.05,86.8 L294.05,86.3 L294.05,85.8 L294.05,85.3 L294.05,84.8 L294.05,84.3 L294.05,83.8 L294.05,83.3 L294.05,82.8 L294.05,82.3 L294.05,81.8 L294.05,81.3 L294.06,80.8 L294.07,80.3 L294.08,79.8 L294.09,79.3 L294.11,78.8 L294.12,78.3 L294.14,77.8 L294.16,77.3 L294.18,76.8 L294.2,76.3 L294.21,75.8 L294.23,75.3 L294.25,74.8 L294.27,74.3 L294.28,73.8 L294.29,73.3 L294.3,72.8 L294.31,72.3 L294.33,71.8 L294.34,71.3 L294.35,70.8 L294.35,70.3 L294.36,69.8 L294.37,69.3 L294.38,68.8 L294.39,68.3 L294.4,67.8 L294.41,67.3 L294.42,66.8 L294.42,66.3 L294.43,65.8 L294.44,65.3 L294.44,64.8 L294.45,64.3Z" fill="#619CFF" fill-opacity="0.7" stroke="#000" stroke-width="1.1" stroke-linejoin="round"/>
<line x1="294" x2="294" y1="127.2" y2="228.3" stroke="#000" stroke-width="1.0"/>
<rect x="290.9" y="172.1" width="6.2" height="29.4" fill="#619CFF" fill-opacity="0.7" stroke="#000" stroke-width="1.7"/>
<line x1="290.05" x2="297.95" y1="186.8" y2="186.8" stroke="#000" stroke-width="1.2"/>
<g fill="#000" fill-opacity="0.6">
<circle cx="294" cy="64.3" r="2.6"/><circle cx="294" cy="228.3" r="2.6"/><circle cx="294" cy="119.9" r="2.6"/><circle cx="294" cy="128" r="2.6"/><circle cx="294" cy="131" r="2.6"/><circle cx="294" cy="135" r="2.6"/><circle cx="294" cy="138" r="2.6"/><circle cx="294" cy="142" r="2.6"/><circle cx="294" cy="145" r="2.6"/><circle cx="294" cy="148" r="2.6"/><circle cx="294" cy="204.65" r="2.6"/><circle cx="294" cy="206.48" r="2.6"/><circle cx="294" cy="186.6" r="2.6"/><circle cx="294" cy="174.52" r="2.6"/><circle cx="294" cy="150.11" r="2.6"/><circle cx="294" cy="196.77" r="2.6"/><circle cx="294" cy="185.8" r="2.6"/><circle cx="294" cy="202.57" r="2.6"/><circle cx="294" cy="180.57" r="2.6"/><circle cx="294" cy="203.21" r="2.6"/><circle cx="294" cy="175.14" r="2.6"/><circle cx="294" cy="205.19" r="2.6"/><circle cx="294" cy="200.76" r="2.6"/><circle cx="294" cy="182.76" r="2.6"/><circle cx="294" cy="189.57" r="2.6"/><circle cx="294" cy="197.91" r="2.6"/><circle cx="294" cy="170.48" r="2.6"/><circle cx="294" cy="190.43" r="2.6"/><circle cx="294" cy="205.39" r="2.6"/><circle cx="294" cy="174.74" r="2.6"/><circle cx="294" cy="205.28" r="2.6"/><circle cx="294" cy="198.13" r="2.6"/><circle cx="294" cy="207.97" r="2.6"/><circle cx="294" cy="178.56" r="2.6"/><circle cx="294" cy="163.39" r="2.6"/><circle cx="294" cy="205.08" r="2.6"/><circle cx="294" cy="205.37" r="2.6"/><circle cx="294" cy="184.44" r="2.6"/><circle cx="294" cy="163.44" r="2.6"/><circle cx="294" cy="170.74" r="2.6"/><circle cx="294" cy="195.13" r="2.6"/><circle cx="294" cy="176.16" r="2.6"/><circle cx="294" cy="217.15" r="2.6"/><circle cx="294" cy="192.43" r="2.6"/><circle cx="294" cy="170.97" r="2.6"/><circle cx="294" cy="196.33" r="2.6"/><circle cx="294" cy="179.89" r="2.6"/><circle cx="294" cy="215.09" r="2.6"/><circle cx="294" cy="212.91" r="2.6"/><circle cx="294" cy="188.24" r="2.6"/><circle cx="294" cy="195.7" r="2.6"/><circle cx="294" cy="198.85" r="2.6"/><circle cx="294" cy="205.42" r="2.6"/><circle cx="294" cy="220.84" r="2.6"/><circle cx="294" cy="156.28" r="2.6"/><circle cx="294" cy="179.94" r="2.6"/><circle cx="294" cy="193.2" r="2.6"/><circle cx="294" cy="176.88" r="2.6"/><circle cx="294" cy="192.47" r="2.6"/><circle cx="294" cy="163.09" r="2.6"/><circle cx="294" cy="210.53" r="2.6"/><circle cx="294" cy="188.83" r="2.6"/><circle cx="294" cy="165.29" r="2.6"/><circle cx="294" cy="196.77" r="2.6"/><circle cx="294" cy="177.31" r="2.6"/><circle cx="294" cy="170.68" r="2.6"/><circle cx="294" cy="186.53" r="2.6"/><circle cx="294" cy="166.85" r="2.6"/><circle cx="294" cy="171.52" r="2.6"/><circle cx="294" cy="209.45" r="2.6"/><circle cx="294" cy="198.87" r="2.6"/><circle cx="294" cy="153.35" r="2.6"/><circle cx="294" cy="203.69" r="2.6"/><circle cx="294" cy="154.29" r="2.6"/><circle cx="294" cy="178.42" r="2.6"/><circle cx="294" cy="212.48" r="2.6"/><circle cx="294" cy="194.27" r="2.6"/><circle cx="294" cy="176.98" r="2.6"/><circle cx="294" cy="180.8" r="2.6"/><circle cx="294" cy="181.43" r="2.6"/><circle cx="294" cy="166.03" r="2.6"/><circle cx="294" cy="228.19" r="2.6"/><circle cx="294" cy="159.6" r="2.6"/><circle cx="294" cy="183.24" r="2.6"/><circle cx="294" cy="201.76" r="2.6"/><circle cx="294" cy="181.89" r="2.6"/><circle cx="294" cy="221.73" r="2.6"/><circle cx="294" cy="173.6" r="2.6"/><circle cx="294" cy="221.39" r="2.6"/><circle cx="294" cy="211.48" r="2.6"/><circle cx="294" cy="156.69" r="2.6"/><circle cx="294" cy="158.81" r="2.6"/><circle cx="294" cy="160.27" r="2.6"/><circle cx="294" cy="162.55" r="2.6"/><circle cx="294" cy="164.41" r="2.6"/><circle cx="294" cy="166.03" r="2.6"/><circle cx="294" cy="167.89" r="2.6"/><circle cx="294" cy="170.02" r="2.6"/><circle cx="294" cy="171.63" r="2.6"/><circle cx="294" cy="173.2" r="2.6"/><circle cx="294" cy="175.76" r="2.6"/><circle cx="294" cy="177.18" r="2.6"/><circle cx="294" cy="179.31" r="2.6"/><circle cx="294" cy="181.5" r="2.6"/><circle cx="294" cy="182.79" r="2.6"/><circle cx="294" cy="184.54" r="2.6"/><circle cx="294" cy="186.54" r="2.6"/><circle cx="294" cy="188.91" r="2.6"/><circle cx="294" cy="190.58" r="2.6"/><circle cx="294" cy="192.37" r="2.6"/><circle cx="294" cy="194.47" r="2.6"/><circle cx="294" cy="196.85" r="2.6"/><circle cx="294" cy="198.07" r="2.6"/><circle cx="294" cy="200.13" r="2.6"/><circle cx="294" cy="202.5" r="2.6"/><circle cx="294" cy="204.13" r="2.6"/><circle cx="294" cy="205.69" r="2.6"/><circle cx="294" cy="207.79" r="2.6"/><circle cx="294" cy="209.7" r="2.6"/><circle cx="294" cy="211.26" r="2.6"/><circle cx="294" cy="213.4" r="2.6"/><circle cx="294" cy="215.22" r="2.6"/><circle cx="294" cy="217.62" r="2.6"/>
</g>
<rect x="291.05" y="172.9" width="5.9" height="27.8" fill="#619CFF" fill-opacity="0.12"/>
<path d="M28.8,30.4 V237.7 H336" fill="none" stroke="#1c1c1c" stroke-width="1.1" stroke-linejoin="round"/>
<line x1="26.1" x2="28.3" y1="232.4" y2="232.4" stroke="#333" stroke-width="0.85"/>
<line x1="26.1" x2="28.3" y1="193.4" y2="193.4" stroke="#333" stroke-width="0.85"/>
<line x1="26.1" x2="28.3" y1="154.4" y2="154.4" stroke="#333" stroke-width="0.85"/>
<line x1="26.1" x2="28.3" y1="115.4" y2="115.4" stroke="#333" stroke-width="0.85"/>
<line x1="26.1" x2="28.3" y1="76.4" y2="76.4" stroke="#333" stroke-width="0.85"/>
<line x1="26.1" x2="28.3" y1="37.4" y2="37.4" stroke="#333" stroke-width="0.85"/>
<line x1="112.5" x2="112.5" y1="238.2" y2="240.4" stroke="#333" stroke-width="0.85"/>
<line x1="252.2" x2="252.2" y1="238.2" y2="240.4" stroke="#333" stroke-width="0.85"/>
<line x1="531.4" x2="531.4" y1="32.9" y2="237.7" stroke="#FF0000" stroke-width="1" stroke-dasharray="3.67,3.263" />
<path d="M419.15,39.6 L419.15,40.1 L419.15,40.6 L419.16,41.1 L419.16,41.6 L419.16,42.1 L419.17,42.6 L419.17,43.1 L419.18,43.6 L419.18,44.1 L419.18,44.6 L419.19,45.1 L419.2,45.6 L419.2,46.1 L419.21,46.6 L419.21,47.1 L419.22,47.6 L419.23,48.1 L419.23,48.6 L419.24,49.1 L419.24,49.6 L419.25,50.1 L419.26,50.6 L419.27,51.1 L419.28,51.6 L419.29,52.1 L419.31,52.6 L419.32,53.1 L419.33,53.6 L419.35,54.1 L419.37,54.6 L419.38,55.1 L419.4,55.6 L419.41,56.1 L419.43,56.6 L419.44,57.1 L419.45,57.6 L419.46,58.1 L419.48,58.6 L419.48,59.1 L419.49,59.6 L419.5,60.1 L419.5,60.6 L419.5,61.1 L419.5,61.6 L419.49,62.1 L419.47,62.6 L419.46,63.1 L419.44,63.6 L419.41,64.1 L419.39,64.6 L419.36,65.1 L419.33,65.6 L419.31,66.1 L419.28,66.6 L419.25,67.1 L419.22,67.6 L419.19,68.1 L419.17,68.6 L419.14,69.1 L419.11,69.6 L419.07,70.1 L419.04,70.6 L419.01,71.1 L418.97,71.6 L418.94,72.1 L418.92,72.6 L418.89,73.1 L418.86,73.6 L418.83,74.1 L418.81,74.6 L418.78,75.1 L418.75,75.6 L418.73,76.1 L418.71,76.6 L418.7,77.1 L418.7,77.6 L418.7,78.1 L418.7,78.6 L418.7,79.1 L418.7,79.6 L418.7,80.1 L418.7,80.6 L418.7,81.1 L418.7,81.6 L418.7,82.1 L418.7,82.6 L418.7,83.1 L418.7,83.6 L418.7,84.1 L418.7,84.6 L418.7,85.1 L418.7,85.6 L418.7,86.1 L418.7,86.6 L418.71,87.1 L418.72,87.6 L418.72,88.1 L418.73,88.6 L418.74,89.1 L418.75,89.6 L418.77,90.1 L418.78,90.6 L418.79,91.1 L418.8,91.6 L418.82,92.1 L418.84,92.6 L418.86,93.1 L418.88,93.6 L418.91,94.1 L418.94,94.6 L418.96,95.1 L418.99,95.6 L419.02,96.1 L419.04,96.6 L419.06,97.1 L419.08,97.6 L419.09,98.1 L419.1,98.6 L419.1,99.1 L419.1,99.6 L419.09,100.1 L419.08,100.6 L419.07,101.1 L419.06,101.6 L419.05,102.1 L419.03,102.6 L419.02,103.1 L419,103.6 L418.99,104.1 L418.97,104.6 L418.95,105.1 L418.94,105.6 L418.92,106.1 L418.91,106.6 L418.9,107.1 L418.89,107.6 L418.87,108.1 L418.86,108.6 L418.85,109.1 L418.83,109.6 L418.82,110.1 L418.81,110.6 L418.81,111.1 L418.8,111.6 L418.8,112.1 L418.8,112.6 L418.8,113.1 L418.8,113.6 L418.8,114.1 L418.8,114.6 L418.8,115.1 L418.8,115.6 L418.79,116.1 L418.78,116.6 L418.77,117.1 L418.75,117.6 L418.73,118.1 L418.71,118.6 L418.69,119.1 L418.66,119.6 L418.64,120.1 L418.61,120.6 L418.58,121.1 L418.54,121.6 L418.5,122.1 L418.44,122.6 L418.38,123.1 L418.32,123.6 L418.26,124.1 L418.19,124.6 L418.14,125.1 L418.08,125.6 L418.04,126.1 L418.01,126.6 L417.98,127.1 L417.96,127.6 L417.94,128.1 L417.93,128.6 L417.92,129.1 L417.91,129.6 L417.89,130.1 L417.88,130.6 L417.86,131.1 L417.84,131.6 L417.82,132.1 L417.79,132.6 L417.75,133.1 L417.69,133.6 L417.6,134.1 L417.51,134.6 L417.4,135.1 L417.29,135.6 L417.16,136.1 L417.04,136.6 L416.91,137.1 L416.79,137.6 L416.67,138.1 L416.55,138.6 L416.44,139.1 L416.32,139.6 L416.19,140.1 L416.06,140.6 L415.93,141.1 L415.8,141.6 L415.67,142.1 L415.54,142.6 L415.42,143.1 L415.29,143.6 L415.17,144.1 L415.06,144.6 L414.95,145.1 L414.84,145.6 L414.73,146.1 L414.63,146.6 L414.52,147.1 L414.42,147.6 L414.31,148.1 L414.21,148.6 L414.1,149.1 L413.99,149.6 L413.88,150.1 L413.76,150.6 L413.65,151.1 L413.53,151.6 L413.42,152.1 L413.3,152.6 L413.18,153.1 L413.06,153.6 L412.94,154.1 L412.82,154.6 L412.7,155.1 L412.58,155.6 L412.45,156.1 L412.33,156.6 L412.21,157.1 L412.09,157.6 L411.97,158.1 L411.85,158.6 L411.73,159.1 L411.6,159.6 L411.46,160.1 L411.31,160.6 L411.16,161.1 L410.99,161.6 L410.8,162.1 L410.58,162.6 L410.34,163.1 L410.09,163.6 L409.81,164.1 L409.52,164.6 L409.23,165.1 L408.92,165.6 L408.61,166.1 L408.3,166.6 L408,167.1 L407.7,167.6 L407.4,168.1 L407.08,168.6 L406.75,169.1 L406.41,169.6 L406.06,170.1 L405.72,170.6 L405.38,171.1 L405.06,171.6 L404.74,172.1 L404.44,172.6 L404.16,173.1 L403.9,173.6 L403.65,174.1 L403.41,174.6 L403.16,175.1 L402.92,175.6 L402.68,176.1 L402.46,176.6 L402.24,177.1 L402.05,177.6 L401.88,178.1 L401.73,178.6 L401.61,179.1 L401.51,179.6 L401.45,180.1 L401.38,180.6 L401.32,181.1 L401.26,181.6 L401.22,182.1 L401.17,182.6 L401.14,183.1 L401.12,183.6 L401.1,184.1 L401.1,184.6 L401.13,185.1 L401.18,185.6 L401.25,186.1 L401.33,186.6 L401.44,187.1 L401.55,187.6 L401.67,188.1 L401.8,188.6 L401.93,189.1 L402.08,189.6 L402.27,190.1 L402.49,190.6 L402.73,191.1 L402.99,191.6 L403.27,192.1 L403.56,192.6 L403.86,193.1 L404.15,193.6 L404.45,194.1 L404.73,194.6 L405.01,195.1 L405.29,195.6 L405.58,196.1 L405.87,196.6 L406.17,197.1 L406.47,197.6 L406.77,198.1 L407.08,198.6 L407.38,199.1 L407.67,199.6 L407.96,200.1 L408.24,200.6 L408.52,201.1 L408.79,201.6 L409.06,202.1 L409.33,202.6 L409.6,203.1 L409.86,203.6 L410.12,204.1 L410.38,204.6 L410.64,205.1 L410.89,205.6 L411.15,206.1 L411.4,206.6 L411.65,207.1 L411.9,207.6 L412.14,208.1 L412.38,208.6 L412.62,209.1 L412.86,209.6 L413.1,210.1 L413.34,210.6 L413.58,211.1 L413.82,211.6 L414.06,212.1 L414.3,212.6 L414.53,213.1 L414.77,213.6 L415,214.1 L415.24,214.6 L415.47,215.1 L415.71,215.6 L415.95,216.1 L416.2,216.6 L416.45,217.1 L416.71,217.6 L416.97,218.1 L417.24,218.6 L417.51,219.1 L417.78,219.6 L418,220 L421.2,220 L421.42,219.6 L421.69,219.1 L421.96,218.6 L422.23,218.1 L422.49,217.6 L422.75,217.1 L423,216.6 L423.25,216.1 L423.49,215.6 L423.73,215.1 L423.96,214.6 L424.2,214.1 L424.43,213.6 L424.67,213.1 L424.9,212.6 L425.14,212.1 L425.38,211.6 L425.62,211.1 L425.86,210.6 L426.1,210.1 L426.34,209.6 L426.58,209.1 L426.82,208.6 L427.06,208.1 L427.3,207.6 L427.55,207.1 L427.8,206.6 L428.05,206.1 L428.31,205.6 L428.56,205.1 L428.82,204.6 L429.08,204.1 L429.34,203.6 L429.6,203.1 L429.87,202.6 L430.14,202.1 L430.41,201.6 L430.68,201.1 L430.96,200.6 L431.24,200.1 L431.53,199.6 L431.82,199.1 L432.12,198.6 L432.43,198.1 L432.73,197.6 L433.03,197.1 L433.33,196.6 L433.62,196.1 L433.91,195.6 L434.19,195.1 L434.47,194.6 L434.75,194.1 L435.05,193.6 L435.34,193.1 L435.64,192.6 L435.93,192.1 L436.21,191.6 L436.47,191.1 L436.71,190.6 L436.93,190.1 L437.12,189.6 L437.27,189.1 L437.4,188.6 L437.53,188.1 L437.65,187.6 L437.76,187.1 L437.87,186.6 L437.95,186.1 L438.02,185.6 L438.07,185.1 L438.1,184.6 L438.1,184.1 L438.08,183.6 L438.06,183.1 L438.03,182.6 L437.98,182.1 L437.94,181.6 L437.88,181.1 L437.82,180.6 L437.75,180.1 L437.69,179.6 L437.59,179.1 L437.47,178.6 L437.32,178.1 L437.15,177.6 L436.96,177.1 L436.74,176.6 L436.52,176.1 L436.28,175.6 L436.04,175.1 L435.79,174.6 L435.55,174.1 L435.3,173.6 L435.04,173.1 L434.76,172.6 L434.46,172.1 L434.14,171.6 L433.82,171.1 L433.48,170.6 L433.14,170.1 L432.79,169.6 L432.45,169.1 L432.12,168.6 L431.8,168.1 L431.5,167.6 L431.2,167.1 L430.9,166.6 L430.59,166.1 L430.28,165.6 L429.97,165.1 L429.68,164.6 L429.39,164.1 L429.11,163.6 L428.86,163.1 L428.62,162.6 L428.4,162.1 L428.21,161.6 L428.04,161.1 L427.89,160.6 L427.74,160.1 L427.6,159.6 L427.47,159.1 L427.35,158.6 L427.23,158.1 L427.11,157.6 L426.99,157.1 L426.87,156.6 L426.75,156.1 L426.62,155.6 L426.5,155.1 L426.38,154.6 L426.26,154.1 L426.14,153.6 L426.02,153.1 L425.9,152.6 L425.78,152.1 L425.67,151.6 L425.55,151.1 L425.44,150.6 L425.32,150.1 L425.21,149.6 L425.1,149.1 L424.99,148.6 L424.89,148.1 L424.78,147.6 L424.68,147.1 L424.57,146.6 L424.47,146.1 L424.36,145.6 L424.25,145.1 L424.14,144.6 L424.03,144.1 L423.91,143.6 L423.78,143.1 L423.66,142.6 L423.53,142.1 L423.4,141.6 L423.27,141.1 L423.14,140.6 L423.01,140.1 L422.88,139.6 L422.76,139.1 L422.65,138.6 L422.53,138.1 L422.41,137.6 L422.29,137.1 L422.16,136.6 L422.04,136.1 L421.91,135.6 L421.8,135.1 L421.69,134.6 L421.6,134.1 L421.51,133.6 L421.45,133.1 L421.41,132.6 L421.38,132.1 L421.36,131.6 L421.34,131.1 L421.32,130.6 L421.31,130.1 L421.29,129.6 L421.28,129.1 L421.27,128.6 L421.26,128.1 L421.24,127.6 L421.22,127.1 L421.19,126.6 L421.16,126.1 L421.12,125.6 L421.06,125.1 L421.01,124.6 L420.94,124.1 L420.88,123.6 L420.82,123.1 L420.76,122.6 L420.7,122.1 L420.66,121.6 L420.62,121.1 L420.59,120.6 L420.56,120.1 L420.54,119.6 L420.51,119.1 L420.49,118.6 L420.47,118.1 L420.45,117.6 L420.43,117.1 L420.42,116.6 L420.41,116.1 L420.4,115.6 L420.4,115.1 L420.4,114.6 L420.4,114.1 L420.4,113.6 L420.4,113.1 L420.4,112.6 L420.4,112.1 L420.4,111.6 L420.39,111.1 L420.39,110.6 L420.38,110.1 L420.37,109.6 L420.35,109.1 L420.34,108.6 L420.33,108.1 L420.31,107.6 L420.3,107.1 L420.29,106.6 L420.28,106.1 L420.26,105.6 L420.25,105.1 L420.23,104.6 L420.21,104.1 L420.2,103.6 L420.18,103.1 L420.17,102.6 L420.15,102.1 L420.14,101.6 L420.13,101.1 L420.12,100.6 L420.11,100.1 L420.1,99.6 L420.1,99.1 L420.1,98.6 L420.11,98.1 L420.12,97.6 L420.14,97.1 L420.16,96.6 L420.18,96.1 L420.21,95.6 L420.24,95.1 L420.26,94.6 L420.29,94.1 L420.32,93.6 L420.34,93.1 L420.36,92.6 L420.38,92.1 L420.4,91.6 L420.41,91.1 L420.42,90.6 L420.43,90.1 L420.45,89.6 L420.46,89.1 L420.47,88.6 L420.48,88.1 L420.48,87.6 L420.49,87.1 L420.5,86.6 L420.5,86.1 L420.5,85.6 L420.5,85.1 L420.5,84.6 L420.5,84.1 L420.5,83.6 L420.5,83.1 L420.5,82.6 L420.5,82.1 L420.5,81.6 L420.5,81.1 L420.5,80.6 L420.5,80.1 L420.5,79.6 L420.5,79.1 L420.5,78.6 L420.5,78.1 L420.5,77.6 L420.5,77.1 L420.49,76.6 L420.47,76.1 L420.45,75.6 L420.42,75.1 L420.39,74.6 L420.37,74.1 L420.34,73.6 L420.31,73.1 L420.28,72.6 L420.26,72.1 L420.23,71.6 L420.19,71.1 L420.16,70.6 L420.13,70.1 L420.09,69.6 L420.06,69.1 L420.03,68.6 L420.01,68.1 L419.98,67.6 L419.95,67.1 L419.92,66.6 L419.89,66.1 L419.87,65.6 L419.84,65.1 L419.81,64.6 L419.79,64.1 L419.76,63.6 L419.74,63.1 L419.73,62.6 L419.71,62.1 L419.7,61.6 L419.7,61.1 L419.7,60.6 L419.7,60.1 L419.71,59.6 L419.72,59.1 L419.72,58.6 L419.74,58.1 L419.75,57.6 L419.76,57.1 L419.77,56.6 L419.79,56.1 L419.8,55.6 L419.82,55.1 L419.83,54.6 L419.85,54.1 L419.87,53.6 L419.88,53.1 L419.89,52.6 L419.91,52.1 L419.92,51.6 L419.93,51.1 L419.94,50.6 L419.95,50.1 L419.96,49.6 L419.96,49.1 L419.97,48.6 L419.97,48.1 L419.98,47.6 L419.99,47.1 L419.99,46.6 L420,46.1 L420,45.6 L420.01,45.1 L420.02,44.6 L420.02,44.1 L420.02,43.6 L420.03,43.1 L420.03,42.6 L420.04,42.1 L420.04,41.6 L420.04,41.1 L420.05,40.6 L420.05,40.1 L420.05,39.6Z" fill="#F8766D" fill-opacity="0.7" stroke="#000" stroke-width="1.1" stroke-linejoin="round"/>
<line x1="419.6" x2="419.6" y1="122.75" y2="220" stroke="#000" stroke-width="1.0"/>
<rect x="416.5" y="164.8" width="6.2" height="27.5" fill="#F8766D" fill-opacity="0.7" stroke="#000" stroke-width="1.7"/>
<line x1="415.65" x2="423.55" y1="179.7" y2="179.7" stroke="#000" stroke-width="1.2"/>
<g fill="#000" fill-opacity="0.6">
<circle cx="419.6" cy="39.6" r="2.6"/><circle cx="419.6" cy="220" r="2.6"/><circle cx="419.6" cy="77.3" r="2.6"/><circle cx="419.6" cy="85.4" r="2.6"/><circle cx="419.6" cy="91.3" r="2.6"/><circle cx="419.6" cy="106.7" r="2.6"/><circle cx="419.6" cy="112.3" r="2.6"/><circle cx="419.6" cy="129.3" r="2.6"/><circle cx="419.6" cy="129.6" r="2.6"/><circle cx="419.6" cy="129.9" r="2.6"/><circle cx="419.6" cy="141" r="2.6"/><circle cx="419.6" cy="143" r="2.6"/><circle cx="419.6" cy="143.5" r="2.6"/><circle cx="419.6" cy="145" r="2.6"/><circle cx="419.6" cy="145.5" r="2.6"/><circle cx="419.6" cy="147" r="2.6"/><circle cx="419.6" cy="147.3" r="2.6"/><circle cx="419.6" cy="149.5" r="2.6"/><circle cx="419.6" cy="152" r="2.6"/><circle cx="419.6" cy="152.4" r="2.6"/><circle cx="419.6" cy="154" r="2.6"/><circle cx="419.6" cy="156" r="2.6"/><circle cx="419.6" cy="156.3" r="2.6"/><circle cx="419.6" cy="158" r="2.6"/><circle cx="419.6" cy="159.5" r="2.6"/><circle cx="419.6" cy="160" r="2.6"/><circle cx="419.6" cy="178.55" r="2.6"/><circle cx="419.6" cy="170.86" r="2.6"/><circle cx="419.6" cy="191.58" r="2.6"/><circle cx="419.6" cy="166.37" r="2.6"/><circle cx="419.6" cy="186.87" r="2.6"/><circle cx="419.6" cy="180.21" r="2.6"/><circle cx="419.6" cy="165.42" r="2.6"/><circle cx="419.6" cy="185.75" r="2.6"/><circle cx="419.6" cy="163.97" r="2.6"/><circle cx="419.6" cy="182.88" r="2.6"/><circle cx="419.6" cy="166.21" r="2.6"/><circle cx="419.6" cy="167.52" r="2.6"/><circle cx="419.6" cy="182.52" r="2.6"/><circle cx="419.6" cy="200.63" r="2.6"/><circle cx="419.6" cy="169.43" r="2.6"/><circle cx="419.6" cy="174.3" r="2.6"/><circle cx="419.6" cy="190.58" r="2.6"/><circle cx="419.6" cy="210.58" r="2.6"/><circle cx="419.6" cy="188.51" r="2.6"/><circle cx="419.6" cy="181.44" r="2.6"/><circle cx="419.6" cy="214.42" r="2.6"/><circle cx="419.6" cy="164.63" r="2.6"/><circle cx="419.6" cy="202.74" r="2.6"/><circle cx="419.6" cy="177.15" r="2.6"/><circle cx="419.6" cy="170.52" r="2.6"/><circle cx="419.6" cy="169.09" r="2.6"/><circle cx="419.6" cy="177.92" r="2.6"/><circle cx="419.6" cy="199.96" r="2.6"/><circle cx="419.6" cy="172.33" r="2.6"/><circle cx="419.6" cy="188.7" r="2.6"/><circle cx="419.6" cy="191.07" r="2.6"/><circle cx="419.6" cy="180.48" r="2.6"/><circle cx="419.6" cy="187.34" r="2.6"/><circle cx="419.6" cy="165.74" r="2.6"/><circle cx="419.6" cy="165.53" r="2.6"/><circle cx="419.6" cy="173.52" r="2.6"/><circle cx="419.6" cy="192.89" r="2.6"/><circle cx="419.6" cy="182.64" r="2.6"/><circle cx="419.6" cy="178.15" r="2.6"/><circle cx="419.6" cy="188.86" r="2.6"/><circle cx="419.6" cy="183.64" r="2.6"/><circle cx="419.6" cy="177.57" r="2.6"/><circle cx="419.6" cy="198.66" r="2.6"/><circle cx="419.6" cy="193.74" r="2.6"/><circle cx="419.6" cy="175.22" r="2.6"/><circle cx="419.6" cy="188.41" r="2.6"/><circle cx="419.6" cy="186.45" r="2.6"/><circle cx="419.6" cy="203.96" r="2.6"/><circle cx="419.6" cy="195.21" r="2.6"/><circle cx="419.6" cy="177.08" r="2.6"/><circle cx="419.6" cy="215.08" r="2.6"/><circle cx="419.6" cy="169.11" r="2.6"/><circle cx="419.6" cy="182.27" r="2.6"/><circle cx="419.6" cy="196.62" r="2.6"/><circle cx="419.6" cy="170.92" r="2.6"/><circle cx="419.6" cy="185.03" r="2.6"/><circle cx="419.6" cy="164.09" r="2.6"/><circle cx="419.6" cy="192.34" r="2.6"/><circle cx="419.6" cy="197.01" r="2.6"/><circle cx="419.6" cy="188.35" r="2.6"/><circle cx="419.6" cy="203.98" r="2.6"/><circle cx="419.6" cy="178.14" r="2.6"/><circle cx="419.6" cy="193.57" r="2.6"/><circle cx="419.6" cy="189.21" r="2.6"/><circle cx="419.6" cy="188.63" r="2.6"/><circle cx="419.6" cy="183.76" r="2.6"/><circle cx="419.6" cy="201.48" r="2.6"/><circle cx="419.6" cy="210.24" r="2.6"/><circle cx="419.6" cy="184.45" r="2.6"/><circle cx="419.6" cy="192.16" r="2.6"/><circle cx="419.6" cy="165.6" r="2.6"/><circle cx="419.6" cy="193.86" r="2.6"/><circle cx="419.6" cy="191.42" r="2.6"/><circle cx="419.6" cy="217.75" r="2.6"/><circle cx="419.6" cy="200.32" r="2.6"/><circle cx="419.6" cy="176.94" r="2.6"/><circle cx="419.6" cy="181.01" r="2.6"/><circle cx="419.6" cy="192.36" r="2.6"/><circle cx="419.6" cy="162.83" r="2.6"/><circle cx="419.6" cy="183.97" r="2.6"/><circle cx="419.6" cy="163.07" r="2.6"/><circle cx="419.6" cy="164.92" r="2.6"/><circle cx="419.6" cy="166.76" r="2.6"/><circle cx="419.6" cy="169.37" r="2.6"/><circle cx="419.6" cy="170.63" r="2.6"/><circle cx="419.6" cy="172.65" r="2.6"/><circle cx="419.6" cy="174.69" r="2.6"/><circle cx="419.6" cy="177.07" r="2.6"/><circle cx="419.6" cy="178.18" r="2.6"/><circle cx="419.6" cy="180.45" r="2.6"/><circle cx="419.6" cy="182.45" r="2.6"/><circle cx="419.6" cy="184.69" r="2.6"/><circle cx="419.6" cy="186.52" r="2.6"/><circle cx="419.6" cy="188.47" r="2.6"/><circle cx="419.6" cy="189.78" r="2.6"/><circle cx="419.6" cy="191.82" r="2.6"/><circle cx="419.6" cy="193.66" r="2.6"/><circle cx="419.6" cy="196.09" r="2.6"/><circle cx="419.6" cy="198.06" r="2.6"/><circle cx="419.6" cy="199.15" r="2.6"/><circle cx="419.6" cy="201.08" r="2.6"/><circle cx="419.6" cy="203.03" r="2.6"/><circle cx="419.6" cy="204.94" r="2.6"/><circle cx="419.6" cy="207.09" r="2.6"/><circle cx="419.6" cy="209.09" r="2.6"/><circle cx="419.6" cy="210.67" r="2.6"/>
</g>
<rect x="416.65" y="165.6" width="5.9" height="25.9" fill="#F8766D" fill-opacity="0.12"/>
<path d="M459.9,133.2 L459.85,133.7 L459.81,134.2 L459.76,134.7 L459.71,135.2 L459.66,135.7 L459.6,136.2 L459.55,136.7 L459.5,137.2 L459.44,137.7 L459.38,138.2 L459.32,138.7 L459.26,139.2 L459.2,139.7 L459.14,140.2 L459.08,140.7 L459.02,141.2 L458.95,141.7 L458.89,142.2 L458.82,142.7 L458.76,143.2 L458.69,143.7 L458.61,144.2 L458.54,144.7 L458.47,145.2 L458.4,145.7 L458.32,146.2 L458.25,146.7 L458.17,147.2 L458.1,147.7 L458.03,148.2 L457.96,148.7 L457.89,149.2 L457.82,149.7 L457.76,150.2 L457.7,150.7 L457.63,151.2 L457.57,151.7 L457.5,152.2 L457.43,152.7 L457.36,153.2 L457.28,153.7 L457.2,154.2 L457.11,154.7 L457.02,155.2 L456.92,155.7 L456.82,156.2 L456.72,156.7 L456.61,157.2 L456.5,157.7 L456.39,158.2 L456.28,158.7 L456.17,159.2 L456.06,159.7 L455.96,160.2 L455.85,160.7 L455.75,161.2 L455.64,161.7 L455.53,162.2 L455.42,162.7 L455.32,163.2 L455.21,163.7 L455.11,164.2 L455.01,164.7 L454.92,165.2 L454.83,165.7 L454.75,166.2 L454.67,166.7 L454.6,167.2 L454.52,167.7 L454.45,168.2 L454.38,168.7 L454.32,169.2 L454.25,169.7 L454.19,170.2 L454.12,170.7 L454.06,171.2 L454,171.7 L453.94,172.2 L453.89,172.7 L453.84,173.2 L453.79,173.7 L453.75,174.2 L453.7,174.7 L453.66,175.2 L453.61,175.7 L453.55,176.2 L453.49,176.7 L453.43,177.2 L453.35,177.7 L453.26,178.2 L453.15,178.7 L453.01,179.2 L452.84,179.7 L452.66,180.2 L452.46,180.7 L452.25,181.2 L452.03,181.7 L451.8,182.2 L451.57,182.7 L451.35,183.2 L451.12,183.7 L450.87,184.2 L450.61,184.7 L450.34,185.2 L450.07,185.7 L449.78,186.2 L449.49,186.7 L449.19,187.2 L448.89,187.7 L448.59,188.2 L448.3,188.7 L448,189.2 L447.7,189.7 L447.39,190.2 L447.07,190.7 L446.74,191.2 L446.41,191.7 L446.09,192.2 L445.78,192.7 L445.47,193.2 L445.18,193.7 L444.9,194.2 L444.65,194.7 L444.39,195.2 L444.14,195.7 L443.89,196.2 L443.64,196.7 L443.41,197.2 L443.19,197.7 L442.99,198.2 L442.8,198.7 L442.64,199.2 L442.5,199.7 L442.37,200.2 L442.25,200.7 L442.13,201.2 L442.02,201.7 L441.92,202.2 L441.84,202.7 L441.78,203.2 L441.75,203.7 L441.76,204.2 L441.79,204.7 L441.86,205.2 L441.96,205.7 L442.07,206.2 L442.21,206.7 L442.35,207.2 L442.51,207.7 L442.67,208.2 L442.83,208.7 L443.02,209.2 L443.25,209.7 L443.52,210.2 L443.81,210.7 L444.12,211.2 L444.45,211.7 L444.79,212.2 L445.15,212.7 L445.5,213.2 L445.87,213.7 L446.27,214.2 L446.69,214.7 L447.14,215.2 L447.6,215.7 L448.07,216.2 L448.55,216.7 L449.03,217.2 L449.51,217.7 L449.98,218.2 L450.48,218.7 L450.99,219.2 L451.51,219.7 L452.02,220.2 L452.53,220.7 L453.03,221.2 L453.5,221.7 L453.97,222.2 L454.45,222.7 L454.92,223.2 L455.38,223.7 L455.81,224.2 L456.2,224.7 L456.54,225.2 L456.7,225.5 L466.5,225.5 L466.66,225.2 L467,224.7 L467.39,224.2 L467.82,223.7 L468.28,223.2 L468.75,222.7 L469.23,222.2 L469.7,221.7 L470.17,221.2 L470.67,220.7 L471.18,220.2 L471.69,219.7 L472.21,219.2 L472.72,218.7 L473.22,218.2 L473.69,217.7 L474.17,217.2 L474.65,216.7 L475.13,216.2 L475.6,215.7 L476.06,215.2 L476.51,214.7 L476.93,214.2 L477.33,213.7 L477.7,213.2 L478.05,212.7 L478.41,212.2 L478.75,211.7 L479.08,211.2 L479.39,210.7 L479.68,210.2 L479.95,209.7 L480.18,209.2 L480.37,208.7 L480.53,208.2 L480.69,207.7 L480.85,207.2 L480.99,206.7 L481.13,206.2 L481.24,205.7 L481.34,205.2 L481.41,204.7 L481.44,204.2 L481.45,203.7 L481.42,203.2 L481.36,202.7 L481.28,202.2 L481.18,201.7 L481.07,201.2 L480.95,200.7 L480.83,200.2 L480.7,199.7 L480.56,199.2 L480.4,198.7 L480.21,198.2 L480.01,197.7 L479.79,197.2 L479.56,196.7 L479.31,196.2 L479.06,195.7 L478.81,195.2 L478.55,194.7 L478.3,194.2 L478.02,193.7 L477.73,193.2 L477.42,192.7 L477.11,192.2 L476.79,191.7 L476.46,191.2 L476.13,190.7 L475.81,190.2 L475.5,189.7 L475.2,189.2 L474.9,188.7 L474.61,188.2 L474.31,187.7 L474.01,187.2 L473.71,186.7 L473.42,186.2 L473.13,185.7 L472.86,185.2 L472.59,184.7 L472.33,184.2 L472.08,183.7 L471.85,183.2 L471.63,182.7 L471.4,182.2 L471.17,181.7 L470.95,181.2 L470.74,180.7 L470.54,180.2 L470.36,179.7 L470.19,179.2 L470.05,178.7 L469.94,178.2 L469.85,177.7 L469.77,177.2 L469.71,176.7 L469.65,176.2 L469.59,175.7 L469.54,175.2 L469.5,174.7 L469.45,174.2 L469.41,173.7 L469.36,173.2 L469.31,172.7 L469.26,172.2 L469.2,171.7 L469.14,171.2 L469.08,170.7 L469.01,170.2 L468.95,169.7 L468.88,169.2 L468.82,168.7 L468.75,168.2 L468.68,167.7 L468.6,167.2 L468.53,166.7 L468.45,166.2 L468.37,165.7 L468.28,165.2 L468.19,164.7 L468.09,164.2 L467.99,163.7 L467.88,163.2 L467.78,162.7 L467.67,162.2 L467.56,161.7 L467.45,161.2 L467.35,160.7 L467.24,160.2 L467.14,159.7 L467.03,159.2 L466.92,158.7 L466.81,158.2 L466.7,157.7 L466.59,157.2 L466.48,156.7 L466.38,156.2 L466.28,155.7 L466.18,155.2 L466.09,154.7 L466,154.2 L465.92,153.7 L465.84,153.2 L465.77,152.7 L465.7,152.2 L465.63,151.7 L465.57,151.2 L465.5,150.7 L465.44,150.2 L465.38,149.7 L465.31,149.2 L465.24,148.7 L465.17,148.2 L465.1,147.7 L465.03,147.2 L464.95,146.7 L464.88,146.2 L464.8,145.7 L464.73,145.2 L464.66,144.7 L464.59,144.2 L464.51,143.7 L464.44,143.2 L464.38,142.7 L464.31,142.2 L464.25,141.7 L464.18,141.2 L464.12,140.7 L464.06,140.2 L464,139.7 L463.94,139.2 L463.88,138.7 L463.82,138.2 L463.76,137.7 L463.7,137.2 L463.65,136.7 L463.6,136.2 L463.54,135.7 L463.49,135.2 L463.44,134.7 L463.39,134.2 L463.35,133.7 L463.3,133.2Z" fill="#00BA38" fill-opacity="0.7" stroke="#000" stroke-width="1.1" stroke-linejoin="round"/>
<line x1="461.6" x2="461.6" y1="133.2" y2="225.5" stroke="#000" stroke-width="1.0"/>
<rect x="458.5" y="178.4" width="6.2" height="29.8" fill="#00BA38" fill-opacity="0.7" stroke="#000" stroke-width="1.7"/>
<line x1="457.65" x2="465.55" y1="193.3" y2="193.3" stroke="#000" stroke-width="1.2"/>
<g fill="#000" fill-opacity="0.6">
<circle cx="461.6" cy="133.2" r="2.6"/><circle cx="461.6" cy="225.5" r="2.6"/><circle cx="461.6" cy="133.2" r="2.6"/><circle cx="461.6" cy="134" r="2.6"/><circle cx="461.6" cy="136" r="2.6"/><circle cx="461.6" cy="138" r="2.6"/><circle cx="461.6" cy="140" r="2.6"/><circle cx="461.6" cy="142" r="2.6"/><circle cx="461.6" cy="143" r="2.6"/><circle cx="461.6" cy="147" r="2.6"/><circle cx="461.6" cy="149" r="2.6"/><circle cx="461.6" cy="151" r="2.6"/><circle cx="461.6" cy="154" r="2.6"/><circle cx="461.6" cy="180.12" r="2.6"/><circle cx="461.6" cy="220.77" r="2.6"/><circle cx="461.6" cy="169.38" r="2.6"/><circle cx="461.6" cy="206.39" r="2.6"/><circle cx="461.6" cy="164.33" r="2.6"/><circle cx="461.6" cy="182.02" r="2.6"/><circle cx="461.6" cy="225.35" r="2.6"/><circle cx="461.6" cy="178.42" r="2.6"/><circle cx="461.6" cy="203.68" r="2.6"/><circle cx="461.6" cy="195.45" r="2.6"/><circle cx="461.6" cy="195.16" r="2.6"/><circle cx="461.6" cy="197.17" r="2.6"/><circle cx="461.6" cy="176.64" r="2.6"/><circle cx="461.6" cy="212.22" r="2.6"/><circle cx="461.6" cy="164.9" r="2.6"/><circle cx="461.6" cy="180.83" r="2.6"/><circle cx="461.6" cy="154.12" r="2.6"/><circle cx="461.6" cy="183.65" r="2.6"/><circle cx="461.6" cy="192.82" r="2.6"/><circle cx="461.6" cy="216.22" r="2.6"/><circle cx="461.6" cy="191.24" r="2.6"/><circle cx="461.6" cy="167.89" r="2.6"/><circle cx="461.6" cy="182.96" r="2.6"/><circle cx="461.6" cy="224.15" r="2.6"/><circle cx="461.6" cy="161.3" r="2.6"/><circle cx="461.6" cy="202.75" r="2.6"/><circle cx="461.6" cy="191.14" r="2.6"/><circle cx="461.6" cy="204.49" r="2.6"/><circle cx="461.6" cy="188.79" r="2.6"/><circle cx="461.6" cy="205.81" r="2.6"/><circle cx="461.6" cy="197.29" r="2.6"/><circle cx="461.6" cy="204.01" r="2.6"/><circle cx="461.6" cy="216.18" r="2.6"/><circle cx="461.6" cy="201.07" r="2.6"/><circle cx="461.6" cy="171.19" r="2.6"/><circle cx="461.6" cy="161.48" r="2.6"/><circle cx="461.6" cy="219.34" r="2.6"/><circle cx="461.6" cy="196.87" r="2.6"/><circle cx="461.6" cy="176.81" r="2.6"/><circle cx="461.6" cy="219.34" r="2.6"/><circle cx="461.6" cy="200.96" r="2.6"/><circle cx="461.6" cy="207.46" r="2.6"/><circle cx="461.6" cy="214.94" r="2.6"/><circle cx="461.6" cy="185.13" r="2.6"/><circle cx="461.6" cy="189.93" r="2.6"/><circle cx="461.6" cy="214.78" r="2.6"/><circle cx="461.6" cy="170.38" r="2.6"/><circle cx="461.6" cy="209.05" r="2.6"/><circle cx="461.6" cy="165.92" r="2.6"/><circle cx="461.6" cy="205.76" r="2.6"/><circle cx="461.6" cy="206.28" r="2.6"/><circle cx="461.6" cy="219.67" r="2.6"/><circle cx="461.6" cy="212.89" r="2.6"/><circle cx="461.6" cy="197.57" r="2.6"/><circle cx="461.6" cy="177.21" r="2.6"/><circle cx="461.6" cy="172.09" r="2.6"/><circle cx="461.6" cy="198.72" r="2.6"/><circle cx="461.6" cy="197.86" r="2.6"/><circle cx="461.6" cy="162.48" r="2.6"/><circle cx="461.6" cy="216.29" r="2.6"/><circle cx="461.6" cy="197.75" r="2.6"/><circle cx="461.6" cy="206.24" r="2.6"/><circle cx="461.6" cy="179.47" r="2.6"/><circle cx="461.6" cy="181.71" r="2.6"/><circle cx="461.6" cy="152.51" r="2.6"/><circle cx="461.6" cy="189.09" r="2.6"/><circle cx="461.6" cy="183.66" r="2.6"/><circle cx="461.6" cy="193.65" r="2.6"/><circle cx="461.6" cy="191.12" r="2.6"/><circle cx="461.6" cy="212.41" r="2.6"/><circle cx="461.6" cy="215.56" r="2.6"/><circle cx="461.6" cy="174.83" r="2.6"/><circle cx="461.6" cy="192.2" r="2.6"/><circle cx="461.6" cy="173.85" r="2.6"/><circle cx="461.6" cy="204.59" r="2.6"/><circle cx="461.6" cy="222.04" r="2.6"/><circle cx="461.6" cy="177.64" r="2.6"/><circle cx="461.6" cy="209.15" r="2.6"/><circle cx="461.6" cy="186.2" r="2.6"/><circle cx="461.6" cy="152.78" r="2.6"/><circle cx="461.6" cy="156.26" r="2.6"/><circle cx="461.6" cy="157.74" r="2.6"/><circle cx="461.6" cy="159.46" r="2.6"/><circle cx="461.6" cy="161.63" r="2.6"/><circle cx="461.6" cy="163.33" r="2.6"/><circle cx="461.6" cy="165.4" r="2.6"/><circle cx="461.6" cy="167.34" r="2.6"/><circle cx="461.6" cy="169.21" r="2.6"/><circle cx="461.6" cy="171.28" r="2.6"/><circle cx="461.6" cy="172.88" r="2.6"/><circle cx="461.6" cy="174.59" r="2.6"/><circle cx="461.6" cy="176.48" r="2.6"/><circle cx="461.6" cy="178.4" r="2.6"/><circle cx="461.6" cy="180.71" r="2.6"/><circle cx="461.6" cy="182.45" r="2.6"/><circle cx="461.6" cy="184.8" r="2.6"/><circle cx="461.6" cy="186.4" r="2.6"/><circle cx="461.6" cy="188.5" r="2.6"/><circle cx="461.6" cy="190.67" r="2.6"/><circle cx="461.6" cy="191.66" r="2.6"/><circle cx="461.6" cy="193.51" r="2.6"/><circle cx="461.6" cy="195.53" r="2.6"/><circle cx="461.6" cy="197.68" r="2.6"/><circle cx="461.6" cy="199.77" r="2.6"/><circle cx="461.6" cy="201.84" r="2.6"/><circle cx="461.6" cy="203.35" r="2.6"/><circle cx="461.6" cy="205.86" r="2.6"/><circle cx="461.6" cy="206.8" r="2.6"/><circle cx="461.6" cy="209.53" r="2.6"/><circle cx="461.6" cy="210.8" r="2.6"/><circle cx="461.6" cy="213.37" r="2.6"/><circle cx="461.6" cy="214.43" r="2.6"/><circle cx="461.6" cy="217.26" r="2.6"/><circle cx="461.6" cy="218.95" r="2.6"/><circle cx="461.6" cy="221.08" r="2.6"/>
</g>
<rect x="458.65" y="179.2" width="5.9" height="28.2" fill="#00BA38" fill-opacity="0.12"/>
<path d="M502.95,122.6 L502.94,123.1 L502.93,123.6 L502.92,124.1 L502.92,124.6 L502.91,125.1 L502.91,125.6 L502.9,126.1 L502.9,126.6 L502.9,127.1 L502.9,127.6 L502.9,128.1 L502.9,128.6 L502.9,129.1 L502.9,129.6 L502.9,130.1 L502.9,130.6 L502.9,131.1 L502.9,131.6 L502.9,132.1 L502.9,132.6 L502.9,133.1 L502.88,133.6 L502.87,134.1 L502.85,134.6 L502.82,135.1 L502.79,135.6 L502.76,136.1 L502.73,136.6 L502.69,137.1 L502.66,137.6 L502.62,138.1 L502.59,138.6 L502.54,139.1 L502.5,139.6 L502.45,140.1 L502.39,140.6 L502.33,141.1 L502.27,141.6 L502.2,142.1 L502.13,142.6 L502.06,143.1 L501.99,143.6 L501.91,144.1 L501.84,144.6 L501.76,145.1 L501.68,145.6 L501.6,146.1 L501.51,146.6 L501.42,147.1 L501.33,147.6 L501.23,148.1 L501.12,148.6 L501.01,149.1 L500.9,149.6 L500.77,150.1 L500.64,150.6 L500.49,151.1 L500.32,151.6 L500.15,152.1 L499.96,152.6 L499.77,153.1 L499.58,153.6 L499.38,154.1 L499.19,154.6 L499,155.1 L498.81,155.6 L498.63,156.1 L498.44,156.6 L498.25,157.1 L498.06,157.6 L497.86,158.1 L497.67,158.6 L497.47,159.1 L497.29,159.6 L497.11,160.1 L496.94,160.6 L496.78,161.1 L496.63,161.6 L496.49,162.1 L496.36,162.6 L496.24,163.1 L496.12,163.6 L496.01,164.1 L495.9,164.6 L495.8,165.1 L495.69,165.6 L495.59,166.1 L495.49,166.6 L495.4,167.1 L495.3,167.6 L495.21,168.1 L495.11,168.6 L495.03,169.1 L494.94,169.6 L494.85,170.1 L494.77,170.6 L494.68,171.1 L494.6,171.6 L494.52,172.1 L494.44,172.6 L494.37,173.1 L494.29,173.6 L494.21,174.1 L494.12,174.6 L494.04,175.1 L493.94,175.6 L493.84,176.1 L493.73,176.6 L493.6,177.1 L493.47,177.6 L493.32,178.1 L493.15,178.6 L492.96,179.1 L492.75,179.6 L492.53,180.1 L492.3,180.6 L492.07,181.1 L491.84,181.6 L491.61,182.1 L491.37,182.6 L491.11,183.1 L490.85,183.6 L490.59,184.1 L490.32,184.6 L490.07,185.1 L489.82,185.6 L489.58,186.1 L489.36,186.6 L489.14,187.1 L488.92,187.6 L488.71,188.1 L488.5,188.6 L488.3,189.1 L488.11,189.6 L487.92,190.1 L487.75,190.6 L487.59,191.1 L487.45,191.6 L487.32,192.1 L487.2,192.6 L487.08,193.1 L486.97,193.6 L486.86,194.1 L486.76,194.6 L486.66,195.1 L486.58,195.6 L486.51,196.1 L486.45,196.6 L486.4,197.1 L486.36,197.6 L486.32,198.1 L486.29,198.6 L486.26,199.1 L486.23,199.6 L486.21,200.1 L486.2,200.6 L486.2,201.1 L486.2,201.6 L486.22,202.1 L486.23,202.6 L486.25,203.1 L486.28,203.6 L486.3,204.1 L486.33,204.6 L486.37,205.1 L486.4,205.6 L486.44,206.1 L486.48,206.6 L486.54,207.1 L486.6,207.6 L486.68,208.1 L486.75,208.6 L486.84,209.1 L486.93,209.6 L487.03,210.1 L487.14,210.6 L487.25,211.1 L487.38,211.6 L487.53,212.1 L487.7,212.6 L487.89,213.1 L488.1,213.6 L488.32,214.1 L488.55,214.6 L488.79,215.1 L489.04,215.6 L489.29,216.1 L489.55,216.6 L489.81,217.1 L490.1,217.6 L490.41,218.1 L490.74,218.6 L491.08,219.1 L491.43,219.6 L491.79,220.1 L492.14,220.6 L492.49,221.1 L492.84,221.6 L493.18,222.1 L493.53,222.6 L493.89,223.1 L494.24,223.6 L494.61,224.1 L494.75,224.3 L512.05,224.3 L512.19,224.1 L512.56,223.6 L512.91,223.1 L513.27,222.6 L513.62,222.1 L513.96,221.6 L514.31,221.1 L514.66,220.6 L515.01,220.1 L515.37,219.6 L515.72,219.1 L516.06,218.6 L516.39,218.1 L516.7,217.6 L516.99,217.1 L517.25,216.6 L517.51,216.1 L517.76,215.6 L518.01,215.1 L518.25,214.6 L518.48,214.1 L518.7,213.6 L518.91,213.1 L519.1,212.6 L519.27,212.1 L519.42,211.6 L519.55,211.1 L519.66,210.6 L519.77,210.1 L519.87,209.6 L519.96,209.1 L520.05,208.6 L520.12,208.1 L520.2,207.6 L520.26,207.1 L520.32,206.6 L520.36,206.1 L520.4,205.6 L520.43,205.1 L520.47,204.6 L520.5,204.1 L520.52,203.6 L520.55,203.1 L520.57,202.6 L520.58,202.1 L520.6,201.6 L520.6,201.1 L520.6,200.6 L520.59,200.1 L520.57,199.6 L520.54,199.1 L520.51,198.6 L520.48,198.1 L520.44,197.6 L520.4,197.1 L520.35,196.6 L520.29,196.1 L520.22,195.6 L520.14,195.1 L520.04,194.6 L519.94,194.1 L519.83,193.6 L519.72,193.1 L519.6,192.6 L519.48,192.1 L519.35,191.6 L519.21,191.1 L519.05,190.6 L518.88,190.1 L518.69,189.6 L518.5,189.1 L518.3,188.6 L518.09,188.1 L517.88,187.6 L517.66,187.1 L517.44,186.6 L517.22,186.1 L516.98,185.6 L516.73,185.1 L516.48,184.6 L516.21,184.1 L515.95,183.6 L515.69,183.1 L515.43,182.6 L515.19,182.1 L514.96,181.6 L514.73,181.1 L514.5,180.6 L514.27,180.1 L514.05,179.6 L513.84,179.1 L513.65,178.6 L513.48,178.1 L513.33,177.6 L513.2,177.1 L513.07,176.6 L512.96,176.1 L512.86,175.6 L512.76,175.1 L512.68,174.6 L512.59,174.1 L512.51,173.6 L512.43,173.1 L512.36,172.6 L512.28,172.1 L512.2,171.6 L512.12,171.1 L512.03,170.6 L511.95,170.1 L511.86,169.6 L511.77,169.1 L511.69,168.6 L511.59,168.1 L511.5,167.6 L511.4,167.1 L511.31,166.6 L511.21,166.1 L511.11,165.6 L511,165.1 L510.9,164.6 L510.79,164.1 L510.68,163.6 L510.56,163.1 L510.44,162.6 L510.31,162.1 L510.17,161.6 L510.02,161.1 L509.86,160.6 L509.69,160.1 L509.51,159.6 L509.33,159.1 L509.13,158.6 L508.94,158.1 L508.74,157.6 L508.55,157.1 L508.36,156.6 L508.17,156.1 L507.99,155.6 L507.8,155.1 L507.61,154.6 L507.42,154.1 L507.22,153.6 L507.03,153.1 L506.84,152.6 L506.65,152.1 L506.48,151.6 L506.31,151.1 L506.16,150.6 L506.03,150.1 L505.9,149.6 L505.79,149.1 L505.68,148.6 L505.57,148.1 L505.47,147.6 L505.38,147.1 L505.29,146.6 L505.2,146.1 L505.12,145.6 L505.04,145.1 L504.96,144.6 L504.89,144.1 L504.81,143.6 L504.74,143.1 L504.67,142.6 L504.6,142.1 L504.53,141.6 L504.47,141.1 L504.41,140.6 L504.35,140.1 L504.3,139.6 L504.26,139.1 L504.21,138.6 L504.18,138.1 L504.14,137.6 L504.11,137.1 L504.07,136.6 L504.04,136.1 L504.01,135.6 L503.98,135.1 L503.95,134.6 L503.93,134.1 L503.92,133.6 L503.9,133.1 L503.9,132.6 L503.9,132.1 L503.9,131.6 L503.9,131.1 L503.9,130.6 L503.9,130.1 L503.9,129.6 L503.9,129.1 L503.9,128.6 L503.9,128.1 L503.9,127.6 L503.9,127.1 L503.9,126.6 L503.9,126.1 L503.89,125.6 L503.89,125.1 L503.88,124.6 L503.88,124.1 L503.87,123.6 L503.86,123.1 L503.85,122.6Z" fill="#619CFF" fill-opacity="0.7" stroke="#000" stroke-width="1.1" stroke-linejoin="round"/>
<line x1="503.4" x2="503.4" y1="137.3" y2="224.3" stroke="#000" stroke-width="1.0"/>
<rect x="500.3" y="181.3" width="6.2" height="28.8" fill="#619CFF" fill-opacity="0.7" stroke="#000" stroke-width="1.7"/>
<line x1="499.45" x2="507.35" y1="196.6" y2="196.6" stroke="#000" stroke-width="1.2"/>
<g fill="#000" fill-opacity="0.6">
<circle cx="503.4" cy="122.6" r="2.6"/><circle cx="503.4" cy="224.3" r="2.6"/><circle cx="503.4" cy="146" r="2.6"/><circle cx="503.4" cy="149" r="2.6"/><circle cx="503.4" cy="152" r="2.6"/><circle cx="503.4" cy="155" r="2.6"/><circle cx="503.4" cy="194.26" r="2.6"/><circle cx="503.4" cy="189.5" r="2.6"/><circle cx="503.4" cy="172.29" r="2.6"/><circle cx="503.4" cy="214.79" r="2.6"/><circle cx="503.4" cy="157.07" r="2.6"/><circle cx="503.4" cy="196.27" r="2.6"/><circle cx="503.4" cy="216.67" r="2.6"/><circle cx="503.4" cy="166.48" r="2.6"/><circle cx="503.4" cy="198.83" r="2.6"/><circle cx="503.4" cy="201.91" r="2.6"/><circle cx="503.4" cy="161.9" r="2.6"/><circle cx="503.4" cy="189.81" r="2.6"/><circle cx="503.4" cy="206.22" r="2.6"/><circle cx="503.4" cy="193.69" r="2.6"/><circle cx="503.4" cy="207.3" r="2.6"/><circle cx="503.4" cy="174.04" r="2.6"/><circle cx="503.4" cy="180.89" r="2.6"/><circle cx="503.4" cy="169.6" r="2.6"/><circle cx="503.4" cy="196.44" r="2.6"/><circle cx="503.4" cy="218.3" r="2.6"/><circle cx="503.4" cy="200.62" r="2.6"/><circle cx="503.4" cy="209.81" r="2.6"/><circle cx="503.4" cy="190.07" r="2.6"/><circle cx="503.4" cy="208.37" r="2.6"/><circle cx="503.4" cy="168.66" r="2.6"/><circle cx="503.4" cy="184.6" r="2.6"/><circle cx="503.4" cy="204.76" r="2.6"/><circle cx="503.4" cy="207.34" r="2.6"/><circle cx="503.4" cy="192.11" r="2.6"/><circle cx="503.4" cy="167.21" r="2.6"/><circle cx="503.4" cy="182.96" r="2.6"/><circle cx="503.4" cy="178.67" r="2.6"/><circle cx="503.4" cy="183.95" r="2.6"/><circle cx="503.4" cy="211.65" r="2.6"/><circle cx="503.4" cy="177.8" r="2.6"/><circle cx="503.4" cy="215.95" r="2.6"/><circle cx="503.4" cy="215.54" r="2.6"/><circle cx="503.4" cy="163.57" r="2.6"/><circle cx="503.4" cy="189.8" r="2.6"/><circle cx="503.4" cy="195.71" r="2.6"/><circle cx="503.4" cy="159.63" r="2.6"/><circle cx="503.4" cy="192.27" r="2.6"/><circle cx="503.4" cy="217.18" r="2.6"/><circle cx="503.4" cy="169.71" r="2.6"/><circle cx="503.4" cy="200.93" r="2.6"/><circle cx="503.4" cy="170.62" r="2.6"/><circle cx="503.4" cy="200.04" r="2.6"/><circle cx="503.4" cy="216.49" r="2.6"/><circle cx="503.4" cy="178.1" r="2.6"/><circle cx="503.4" cy="157.37" r="2.6"/><circle cx="503.4" cy="166.76" r="2.6"/><circle cx="503.4" cy="198.11" r="2.6"/><circle cx="503.4" cy="158.78" r="2.6"/><circle cx="503.4" cy="166.91" r="2.6"/><circle cx="503.4" cy="195.97" r="2.6"/><circle cx="503.4" cy="218.11" r="2.6"/><circle cx="503.4" cy="192.03" r="2.6"/><circle cx="503.4" cy="190.86" r="2.6"/><circle cx="503.4" cy="203" r="2.6"/><circle cx="503.4" cy="167.81" r="2.6"/><circle cx="503.4" cy="200.09" r="2.6"/><circle cx="503.4" cy="175.44" r="2.6"/><circle cx="503.4" cy="201.53" r="2.6"/><circle cx="503.4" cy="220.73" r="2.6"/><circle cx="503.4" cy="163.49" r="2.6"/><circle cx="503.4" cy="198.87" r="2.6"/><circle cx="503.4" cy="201.4" r="2.6"/><circle cx="503.4" cy="173.31" r="2.6"/><circle cx="503.4" cy="183.07" r="2.6"/><circle cx="503.4" cy="223.81" r="2.6"/><circle cx="503.4" cy="224.1" r="2.6"/><circle cx="503.4" cy="170.63" r="2.6"/><circle cx="503.4" cy="206.32" r="2.6"/><circle cx="503.4" cy="220.18" r="2.6"/><circle cx="503.4" cy="180.79" r="2.6"/><circle cx="503.4" cy="201.64" r="2.6"/><circle cx="503.4" cy="162.16" r="2.6"/><circle cx="503.4" cy="189.09" r="2.6"/><circle cx="503.4" cy="204.76" r="2.6"/><circle cx="503.4" cy="200.61" r="2.6"/><circle cx="503.4" cy="160.79" r="2.6"/><circle cx="503.4" cy="162" r="2.6"/><circle cx="503.4" cy="164.16" r="2.6"/><circle cx="503.4" cy="166.58" r="2.6"/><circle cx="503.4" cy="168.2" r="2.6"/><circle cx="503.4" cy="169.96" r="2.6"/><circle cx="503.4" cy="171.81" r="2.6"/><circle cx="503.4" cy="174.3" r="2.6"/><circle cx="503.4" cy="175.79" r="2.6"/><circle cx="503.4" cy="177.13" r="2.6"/><circle cx="503.4" cy="179.81" r="2.6"/><circle cx="503.4" cy="181.24" r="2.6"/><circle cx="503.4" cy="183.25" r="2.6"/><circle cx="503.4" cy="184.93" r="2.6"/><circle cx="503.4" cy="187.06" r="2.6"/><circle cx="503.4" cy="188.84" r="2.6"/><circle cx="503.4" cy="190.5" r="2.6"/><circle cx="503.4" cy="192.94" r="2.6"/><circle cx="503.4" cy="194.32" r="2.6"/><circle cx="503.4" cy="196.9" r="2.6"/><circle cx="503.4" cy="198.04" r="2.6"/><circle cx="503.4" cy="200.69" r="2.6"/><circle cx="503.4" cy="202.62" r="2.6"/><circle cx="503.4" cy="204.21" r="2.6"/><circle cx="503.4" cy="206.32" r="2.6"/><circle cx="503.4" cy="207.76" r="2.6"/><circle cx="503.4" cy="210.15" r="2.6"/><circle cx="503.4" cy="211.74" r="2.6"/><circle cx="503.4" cy="213.44" r="2.6"/><circle cx="503.4" cy="216.08" r="2.6"/><circle cx="503.4" cy="217.41" r="2.6"/><circle cx="503.4" cy="219.29" r="2.6"/>
</g>
<rect x="500.45" y="182.1" width="5.9" height="27.2" fill="#619CFF" fill-opacity="0.12"/>
<path d="M558.4,98.7 L558.38,99.2 L558.35,99.7 L558.33,100.2 L558.32,100.7 L558.3,101.2 L558.29,101.7 L558.28,102.2 L558.28,102.7 L558.27,103.2 L558.26,103.7 L558.26,104.2 L558.26,104.7 L558.25,105.2 L558.25,105.7 L558.24,106.2 L558.24,106.7 L558.23,107.2 L558.23,107.7 L558.22,108.2 L558.21,108.7 L558.21,109.2 L558.2,109.7 L558.18,110.2 L558.17,110.7 L558.16,111.2 L558.14,111.7 L558.12,112.2 L558.1,112.7 L558.08,113.2 L558.05,113.7 L558.02,114.2 L557.99,114.7 L557.96,115.2 L557.93,115.7 L557.88,116.2 L557.83,116.7 L557.77,117.2 L557.7,117.7 L557.63,118.2 L557.55,118.7 L557.46,119.2 L557.38,119.7 L557.29,120.2 L557.19,120.7 L557.1,121.2 L557,121.7 L556.89,122.2 L556.77,122.7 L556.64,123.2 L556.5,123.7 L556.37,124.2 L556.22,124.7 L556.08,125.2 L555.94,125.7 L555.81,126.2 L555.68,126.7 L555.55,127.2 L555.43,127.7 L555.3,128.2 L555.18,128.7 L555.06,129.2 L554.94,129.7 L554.82,130.2 L554.7,130.7 L554.59,131.2 L554.47,131.7 L554.36,132.2 L554.24,132.7 L554.13,133.2 L554.02,133.7 L553.91,134.2 L553.8,134.7 L553.7,135.2 L553.59,135.7 L553.48,136.2 L553.38,136.7 L553.28,137.2 L553.18,137.7 L553.09,138.2 L553,138.7 L552.91,139.2 L552.83,139.7 L552.75,140.2 L552.67,140.7 L552.59,141.2 L552.52,141.7 L552.45,142.2 L552.37,142.7 L552.3,143.2 L552.23,143.7 L552.16,144.2 L552.09,144.7 L552.02,145.2 L551.95,145.7 L551.89,146.2 L551.83,146.7 L551.77,147.2 L551.7,147.7 L551.64,148.2 L551.57,148.7 L551.5,149.2 L551.42,149.7 L551.34,150.2 L551.24,150.7 L551.13,151.2 L551.01,151.7 L550.87,152.2 L550.73,152.7 L550.58,153.2 L550.41,153.7 L550.22,154.2 L550.03,154.7 L549.82,155.2 L549.62,155.7 L549.4,156.2 L549.19,156.7 L548.98,157.2 L548.78,157.7 L548.58,158.2 L548.4,158.7 L548.22,159.2 L548.05,159.7 L547.87,160.2 L547.7,160.7 L547.53,161.2 L547.36,161.7 L547.19,162.2 L547.03,162.7 L546.88,163.2 L546.73,163.7 L546.58,164.2 L546.45,164.7 L546.31,165.2 L546.18,165.7 L546.05,166.2 L545.92,166.7 L545.8,167.2 L545.68,167.7 L545.56,168.2 L545.45,168.7 L545.34,169.2 L545.24,169.7 L545.14,170.2 L545.04,170.7 L544.95,171.2 L544.86,171.7 L544.77,172.2 L544.68,172.7 L544.6,173.2 L544.51,173.7 L544.44,174.2 L544.37,174.7 L544.31,175.2 L544.25,175.7 L544.2,176.2 L544.15,176.7 L544.11,177.2 L544.07,177.7 L544.02,178.2 L543.99,178.7 L543.95,179.2 L543.93,179.7 L543.91,180.2 L543.9,180.7 L543.9,181.2 L543.93,181.7 L543.96,182.2 L544.02,182.7 L544.08,183.2 L544.15,183.7 L544.22,184.2 L544.29,184.7 L544.36,185.2 L544.42,185.7 L544.49,186.2 L544.55,186.7 L544.62,187.2 L544.69,187.7 L544.76,188.2 L544.85,188.7 L544.94,189.2 L545.05,189.7 L545.17,190.2 L545.3,190.7 L545.44,191.2 L545.59,191.7 L545.74,192.2 L545.9,192.7 L546.07,193.2 L546.25,193.7 L546.43,194.2 L546.61,194.7 L546.8,195.2 L546.99,195.7 L547.17,196.2 L547.36,196.7 L547.56,197.2 L547.76,197.7 L547.97,198.2 L548.2,198.7 L548.45,199.2 L548.73,199.7 L549.04,200.2 L549.36,200.7 L549.7,201.2 L550.04,201.7 L550.38,202.2 L550.71,202.7 L551.03,203.2 L551.35,203.7 L551.67,204.2 L551.99,204.7 L552.31,205.2 L552.62,205.7 L552.92,206.2 L553.22,206.7 L553.52,207.2 L553.82,207.7 L554.11,208.2 L554.39,208.7 L554.67,209.2 L554.94,209.7 L555.2,210.2 L555.46,210.7 L555.7,211.2 L555.94,211.7 L556.18,212.2 L556.41,212.7 L556.64,213.2 L556.88,213.7 L557.11,214.2 L557.34,214.7 L557.57,215.2 L557.8,215.7 L558.03,216.2 L558.25,216.7 L558.3,216.8 L560.3,216.8 L560.35,216.7 L560.57,216.2 L560.8,215.7 L561.03,215.2 L561.26,214.7 L561.49,214.2 L561.72,213.7 L561.96,213.2 L562.19,212.7 L562.42,212.2 L562.66,211.7 L562.9,211.2 L563.14,210.7 L563.4,210.2 L563.66,209.7 L563.93,209.2 L564.21,208.7 L564.49,208.2 L564.78,207.7 L565.08,207.2 L565.38,206.7 L565.68,206.2 L565.98,205.7 L566.29,205.2 L566.61,204.7 L566.93,204.2 L567.25,203.7 L567.57,203.2 L567.89,202.7 L568.22,202.2 L568.56,201.7 L568.9,201.2 L569.24,200.7 L569.56,200.2 L569.87,199.7 L570.15,199.2 L570.4,198.7 L570.63,198.2 L570.84,197.7 L571.04,197.2 L571.24,196.7 L571.43,196.2 L571.61,195.7 L571.8,195.2 L571.99,194.7 L572.17,194.2 L572.35,193.7 L572.53,193.2 L572.7,192.7 L572.86,192.2 L573.01,191.7 L573.16,191.2 L573.3,190.7 L573.43,190.2 L573.55,189.7 L573.66,189.2 L573.75,188.7 L573.84,188.2 L573.91,187.7 L573.98,187.2 L574.05,186.7 L574.11,186.2 L574.18,185.7 L574.24,185.2 L574.31,184.7 L574.38,184.2 L574.45,183.7 L574.52,183.2 L574.58,182.7 L574.64,182.2 L574.67,181.7 L574.7,181.2 L574.7,180.7 L574.69,180.2 L574.67,179.7 L574.65,179.2 L574.61,178.7 L574.58,178.2 L574.53,177.7 L574.49,177.2 L574.45,176.7 L574.4,176.2 L574.35,175.7 L574.29,175.2 L574.23,174.7 L574.16,174.2 L574.09,173.7 L574,173.2 L573.92,172.7 L573.83,172.2 L573.74,171.7 L573.65,171.2 L573.56,170.7 L573.46,170.2 L573.36,169.7 L573.26,169.2 L573.15,168.7 L573.04,168.2 L572.92,167.7 L572.8,167.2 L572.68,166.7 L572.55,166.2 L572.42,165.7 L572.29,165.2 L572.15,164.7 L572.02,164.2 L571.87,163.7 L571.72,163.2 L571.57,162.7 L571.41,162.2 L571.24,161.7 L571.07,161.2 L570.9,160.7 L570.73,160.2 L570.55,159.7 L570.38,159.2 L570.2,158.7 L570.02,158.2 L569.82,157.7 L569.62,157.2 L569.41,156.7 L569.2,156.2 L568.98,155.7 L568.78,155.2 L568.57,154.7 L568.38,154.2 L568.19,153.7 L568.02,153.2 L567.87,152.7 L567.73,152.2 L567.59,151.7 L567.47,151.2 L567.36,150.7 L567.26,150.2 L567.18,149.7 L567.1,149.2 L567.03,148.7 L566.96,148.2 L566.9,147.7 L566.83,147.2 L566.77,146.7 L566.71,146.2 L566.65,145.7 L566.58,145.2 L566.51,144.7 L566.44,144.2 L566.37,143.7 L566.3,143.2 L566.23,142.7 L566.15,142.2 L566.08,141.7 L566.01,141.2 L565.93,140.7 L565.85,140.2 L565.77,139.7 L565.69,139.2 L565.6,138.7 L565.51,138.2 L565.42,137.7 L565.32,137.2 L565.22,136.7 L565.12,136.2 L565.01,135.7 L564.9,135.2 L564.8,134.7 L564.69,134.2 L564.58,133.7 L564.47,133.2 L564.36,132.7 L564.24,132.2 L564.13,131.7 L564.01,131.2 L563.9,130.7 L563.78,130.2 L563.66,129.7 L563.54,129.2 L563.42,128.7 L563.3,128.2 L563.17,127.7 L563.05,127.2 L562.92,126.7 L562.79,126.2 L562.66,125.7 L562.52,125.2 L562.38,124.7 L562.23,124.2 L562.1,123.7 L561.96,123.2 L561.83,122.7 L561.71,122.2 L561.6,121.7 L561.5,121.2 L561.41,120.7 L561.31,120.2 L561.22,119.7 L561.14,119.2 L561.05,118.7 L560.97,118.2 L560.9,117.7 L560.83,117.2 L560.77,116.7 L560.72,116.2 L560.67,115.7 L560.64,115.2 L560.61,114.7 L560.58,114.2 L560.55,113.7 L560.52,113.2 L560.5,112.7 L560.48,112.2 L560.46,111.7 L560.44,111.2 L560.43,110.7 L560.42,110.2 L560.4,109.7 L560.39,109.2 L560.39,108.7 L560.38,108.2 L560.37,107.7 L560.37,107.2 L560.36,106.7 L560.36,106.2 L560.35,105.7 L560.35,105.2 L560.34,104.7 L560.34,104.2 L560.34,103.7 L560.33,103.2 L560.32,102.7 L560.32,102.2 L560.31,101.7 L560.3,101.2 L560.28,100.7 L560.27,100.2 L560.25,99.7 L560.22,99.2 L560.2,98.7Z" fill="#F8766D" fill-opacity="0.7" stroke="#000" stroke-width="1.1" stroke-linejoin="round"/>
<line x1="559.3" x2="559.3" y1="111.9" y2="216.8" stroke="#000" stroke-width="1.0"/>
<rect x="556.2" y="159.8" width="6.2" height="31.4" fill="#F8766D" fill-opacity="0.7" stroke="#000" stroke-width="1.7"/>
<line x1="555.35" x2="563.25" y1="176.8" y2="176.8" stroke="#000" stroke-width="1.2"/>
<g fill="#000" fill-opacity="0.6">
<circle cx="559.3" cy="98.7" r="2.6"/><circle cx="559.3" cy="216.8" r="2.6"/><circle cx="559.3" cy="105.3" r="2.6"/><circle cx="559.3" cy="114.2" r="2.6"/><circle cx="559.3" cy="122" r="2.6"/><circle cx="559.3" cy="179.11" r="2.6"/><circle cx="559.3" cy="170.69" r="2.6"/><circle cx="559.3" cy="179.49" r="2.6"/><circle cx="559.3" cy="154.43" r="2.6"/><circle cx="559.3" cy="193.65" r="2.6"/><circle cx="559.3" cy="194.35" r="2.6"/><circle cx="559.3" cy="183.82" r="2.6"/><circle cx="559.3" cy="149.65" r="2.6"/><circle cx="559.3" cy="176.18" r="2.6"/><circle cx="559.3" cy="164.12" r="2.6"/><circle cx="559.3" cy="158.31" r="2.6"/><circle cx="559.3" cy="205.57" r="2.6"/><circle cx="559.3" cy="214.73" r="2.6"/><circle cx="559.3" cy="134.67" r="2.6"/><circle cx="559.3" cy="196.96" r="2.6"/><circle cx="559.3" cy="180.93" r="2.6"/><circle cx="559.3" cy="167.71" r="2.6"/><circle cx="559.3" cy="160.94" r="2.6"/><circle cx="559.3" cy="185.08" r="2.6"/><circle cx="559.3" cy="172.4" r="2.6"/><circle cx="559.3" cy="185.72" r="2.6"/><circle cx="559.3" cy="184.31" r="2.6"/><circle cx="559.3" cy="146.52" r="2.6"/><circle cx="559.3" cy="190.69" r="2.6"/><circle cx="559.3" cy="210.48" r="2.6"/><circle cx="559.3" cy="207.99" r="2.6"/><circle cx="559.3" cy="181.51" r="2.6"/><circle cx="559.3" cy="134.63" r="2.6"/><circle cx="559.3" cy="126.96" r="2.6"/><circle cx="559.3" cy="146.63" r="2.6"/><circle cx="559.3" cy="204.12" r="2.6"/><circle cx="559.3" cy="162.36" r="2.6"/><circle cx="559.3" cy="166.71" r="2.6"/><circle cx="559.3" cy="199.95" r="2.6"/><circle cx="559.3" cy="163.18" r="2.6"/><circle cx="559.3" cy="177.82" r="2.6"/><circle cx="559.3" cy="171.13" r="2.6"/><circle cx="559.3" cy="137.76" r="2.6"/><circle cx="559.3" cy="179.86" r="2.6"/><circle cx="559.3" cy="195.78" r="2.6"/><circle cx="559.3" cy="149.22" r="2.6"/><circle cx="559.3" cy="156.12" r="2.6"/><circle cx="559.3" cy="169.7" r="2.6"/><circle cx="559.3" cy="133.42" r="2.6"/><circle cx="559.3" cy="174.77" r="2.6"/><circle cx="559.3" cy="193.96" r="2.6"/><circle cx="559.3" cy="184.08" r="2.6"/><circle cx="559.3" cy="176.92" r="2.6"/><circle cx="559.3" cy="196.59" r="2.6"/><circle cx="559.3" cy="148.46" r="2.6"/><circle cx="559.3" cy="178.87" r="2.6"/><circle cx="559.3" cy="167.23" r="2.6"/><circle cx="559.3" cy="180.82" r="2.6"/><circle cx="559.3" cy="144.1" r="2.6"/><circle cx="559.3" cy="191.18" r="2.6"/><circle cx="559.3" cy="142.04" r="2.6"/><circle cx="559.3" cy="150.33" r="2.6"/><circle cx="559.3" cy="193.25" r="2.6"/><circle cx="559.3" cy="204.92" r="2.6"/><circle cx="559.3" cy="170.96" r="2.6"/><circle cx="559.3" cy="169.78" r="2.6"/><circle cx="559.3" cy="157.93" r="2.6"/><circle cx="559.3" cy="160.26" r="2.6"/><circle cx="559.3" cy="181.73" r="2.6"/><circle cx="559.3" cy="151.64" r="2.6"/><circle cx="559.3" cy="144.9" r="2.6"/><circle cx="559.3" cy="172.33" r="2.6"/><circle cx="559.3" cy="150.17" r="2.6"/><circle cx="559.3" cy="183.54" r="2.6"/><circle cx="559.3" cy="194.17" r="2.6"/><circle cx="559.3" cy="191.31" r="2.6"/><circle cx="559.3" cy="173.8" r="2.6"/><circle cx="559.3" cy="165.47" r="2.6"/><circle cx="559.3" cy="171.05" r="2.6"/><circle cx="559.3" cy="127.18" r="2.6"/><circle cx="559.3" cy="187.31" r="2.6"/><circle cx="559.3" cy="164.39" r="2.6"/><circle cx="559.3" cy="163.54" r="2.6"/><circle cx="559.3" cy="139.84" r="2.6"/><circle cx="559.3" cy="171.87" r="2.6"/><circle cx="559.3" cy="132.31" r="2.6"/><circle cx="559.3" cy="134.01" r="2.6"/><circle cx="559.3" cy="136.39" r="2.6"/><circle cx="559.3" cy="138.1" r="2.6"/><circle cx="559.3" cy="139.56" r="2.6"/><circle cx="559.3" cy="141.75" r="2.6"/><circle cx="559.3" cy="144.03" r="2.6"/><circle cx="559.3" cy="145.54" r="2.6"/><circle cx="559.3" cy="147.52" r="2.6"/><circle cx="559.3" cy="148.89" r="2.6"/><circle cx="559.3" cy="151.21" r="2.6"/><circle cx="559.3" cy="153.08" r="2.6"/><circle cx="559.3" cy="154.92" r="2.6"/><circle cx="559.3" cy="156.84" r="2.6"/><circle cx="559.3" cy="158.91" r="2.6"/><circle cx="559.3" cy="160.76" r="2.6"/><circle cx="559.3" cy="162.61" r="2.6"/><circle cx="559.3" cy="164.19" r="2.6"/><circle cx="559.3" cy="166.36" r="2.6"/><circle cx="559.3" cy="168.79" r="2.6"/><circle cx="559.3" cy="170.14" r="2.6"/><circle cx="559.3" cy="171.66" r="2.6"/><circle cx="559.3" cy="173.53" r="2.6"/><circle cx="559.3" cy="175.96" r="2.6"/><circle cx="559.3" cy="177.37" r="2.6"/><circle cx="559.3" cy="179.32" r="2.6"/><circle cx="559.3" cy="181.23" r="2.6"/><circle cx="559.3" cy="183.48" r="2.6"/><circle cx="559.3" cy="185.92" r="2.6"/><circle cx="559.3" cy="187.31" r="2.6"/><circle cx="559.3" cy="189.18" r="2.6"/><circle cx="559.3" cy="191.06" r="2.6"/><circle cx="559.3" cy="193.02" r="2.6"/><circle cx="559.3" cy="194.87" r="2.6"/><circle cx="559.3" cy="197.05" r="2.6"/><circle cx="559.3" cy="199.12" r="2.6"/><circle cx="559.3" cy="200.82" r="2.6"/><circle cx="559.3" cy="202.45" r="2.6"/><circle cx="559.3" cy="204.57" r="2.6"/><circle cx="559.3" cy="206.73" r="2.6"/>
</g>
<rect x="556.35" y="160.6" width="5.9" height="29.8" fill="#F8766D" fill-opacity="0.12"/>
<path d="M600.3,127.2 L600.28,127.7 L600.26,128.2 L600.24,128.7 L600.21,129.2 L600.17,129.7 L600.12,130.2 L600.06,130.7 L599.99,131.2 L599.92,131.7 L599.85,132.2 L599.77,132.7 L599.7,133.2 L599.64,133.7 L599.58,134.2 L599.51,134.7 L599.45,135.2 L599.38,135.7 L599.31,136.2 L599.25,136.7 L599.19,137.2 L599.13,137.7 L599.08,138.2 L599.04,138.7 L599.02,139.2 L599,139.7 L599,140.2 L599.01,140.7 L599.03,141.2 L599.05,141.7 L599.07,142.2 L599.1,142.7 L599.13,143.2 L599.17,143.7 L599.2,144.2 L599.24,144.7 L599.27,145.2 L599.3,145.7 L599.33,146.2 L599.37,146.7 L599.42,147.2 L599.46,147.7 L599.51,148.2 L599.55,148.7 L599.59,149.2 L599.63,149.7 L599.66,150.2 L599.68,150.7 L599.7,151.2 L599.7,151.7 L599.69,152.2 L599.68,152.7 L599.67,153.2 L599.64,153.7 L599.62,154.2 L599.59,154.7 L599.56,155.2 L599.52,155.7 L599.49,156.2 L599.45,156.7 L599.41,157.2 L599.38,157.7 L599.34,158.2 L599.29,158.7 L599.23,159.2 L599.17,159.7 L599.11,160.2 L599.03,160.7 L598.95,161.2 L598.84,161.7 L598.7,162.2 L598.55,162.7 L598.4,163.2 L598.23,163.7 L598.07,164.2 L597.9,164.7 L597.74,165.2 L597.58,165.7 L597.41,166.2 L597.23,166.7 L597.02,167.2 L596.8,167.7 L596.54,168.2 L596.21,168.7 L595.81,169.2 L595.36,169.7 L594.9,170.2 L594.42,170.7 L593.97,171.2 L593.55,171.7 L593.18,172.2 L592.83,172.7 L592.49,173.2 L592.15,173.7 L591.83,174.2 L591.51,174.7 L591.2,175.2 L590.89,175.7 L590.58,176.2 L590.28,176.7 L589.97,177.2 L589.67,177.7 L589.36,178.2 L589.06,178.7 L588.77,179.2 L588.48,179.7 L588.2,180.2 L587.94,180.7 L587.68,181.2 L587.45,181.7 L587.22,182.2 L587.01,182.7 L586.82,183.2 L586.63,183.7 L586.44,184.2 L586.26,184.7 L586.09,185.2 L585.91,185.7 L585.73,186.2 L585.55,186.7 L585.36,187.2 L585.17,187.7 L584.98,188.2 L584.78,188.7 L584.59,189.2 L584.39,189.7 L584.2,190.2 L584.01,190.7 L583.81,191.2 L583.62,191.7 L583.44,192.2 L583.25,192.7 L583.06,193.2 L582.87,193.7 L582.68,194.2 L582.49,194.7 L582.3,195.2 L582.13,195.7 L581.96,196.2 L581.81,196.7 L581.66,197.2 L581.52,197.7 L581.37,198.2 L581.22,198.7 L581.09,199.2 L580.98,199.7 L580.88,200.2 L580.82,200.7 L580.78,201.2 L580.74,201.7 L580.72,202.2 L580.7,202.7 L580.71,203.2 L580.8,203.7 L580.97,204.2 L581.19,204.7 L581.46,205.2 L581.75,205.7 L582.04,206.2 L582.31,206.7 L582.6,207.2 L582.92,207.7 L583.26,208.2 L583.61,208.7 L583.99,209.2 L584.37,209.7 L584.77,210.2 L585.16,210.7 L585.56,211.2 L585.96,211.7 L586.35,212.2 L586.73,212.7 L587.12,213.2 L587.51,213.7 L587.9,214.2 L588.3,214.7 L588.7,215.2 L589.1,215.7 L589.51,216.2 L589.91,216.7 L590.31,217.2 L590.71,217.7 L591.1,218.2 L591.49,218.7 L591.89,219.2 L592.28,219.7 L592.68,220.2 L593.07,220.7 L593.47,221.2 L593.86,221.7 L594.25,222.2 L594.63,222.7 L595.01,223.2 L595.38,223.7 L595.75,224.2 L596.11,224.7 L596.46,225.2 L596.81,225.7 L597.16,226.2 L597.5,226.7 L597.83,227.2 L598.17,227.7 L598.49,228.2 L598.8,228.7 L603.6,228.7 L603.91,228.2 L604.23,227.7 L604.57,227.2 L604.9,226.7 L605.24,226.2 L605.59,225.7 L605.94,225.2 L606.29,224.7 L606.65,224.2 L607.02,223.7 L607.39,223.2 L607.77,222.7 L608.15,222.2 L608.54,221.7 L608.93,221.2 L609.33,220.7 L609.72,220.2 L610.12,219.7 L610.51,219.2 L610.91,218.7 L611.3,218.2 L611.69,217.7 L612.09,217.2 L612.49,216.7 L612.89,216.2 L613.3,215.7 L613.7,215.2 L614.1,214.7 L614.5,214.2 L614.89,213.7 L615.28,213.2 L615.67,212.7 L616.05,212.2 L616.44,211.7 L616.84,211.2 L617.24,210.7 L617.63,210.2 L618.03,209.7 L618.41,209.2 L618.79,208.7 L619.14,208.2 L619.48,207.7 L619.8,207.2 L620.09,206.7 L620.36,206.2 L620.65,205.7 L620.94,205.2 L621.21,204.7 L621.43,204.2 L621.6,203.7 L621.69,203.2 L621.7,202.7 L621.68,202.2 L621.66,201.7 L621.62,201.2 L621.58,200.7 L621.52,200.2 L621.42,199.7 L621.31,199.2 L621.18,198.7 L621.03,198.2 L620.88,197.7 L620.74,197.2 L620.59,196.7 L620.44,196.2 L620.27,195.7 L620.1,195.2 L619.91,194.7 L619.72,194.2 L619.53,193.7 L619.34,193.2 L619.15,192.7 L618.96,192.2 L618.78,191.7 L618.59,191.2 L618.39,190.7 L618.2,190.2 L618.01,189.7 L617.81,189.2 L617.62,188.7 L617.42,188.2 L617.23,187.7 L617.04,187.2 L616.85,186.7 L616.67,186.2 L616.49,185.7 L616.31,185.2 L616.14,184.7 L615.96,184.2 L615.77,183.7 L615.58,183.2 L615.39,182.7 L615.18,182.2 L614.95,181.7 L614.72,181.2 L614.46,180.7 L614.2,180.2 L613.92,179.7 L613.63,179.2 L613.34,178.7 L613.04,178.2 L612.73,177.7 L612.43,177.2 L612.12,176.7 L611.82,176.2 L611.51,175.7 L611.2,175.2 L610.89,174.7 L610.57,174.2 L610.25,173.7 L609.91,173.2 L609.57,172.7 L609.22,172.2 L608.85,171.7 L608.43,171.2 L607.98,170.7 L607.5,170.2 L607.04,169.7 L606.59,169.2 L606.19,168.7 L605.86,168.2 L605.6,167.7 L605.38,167.2 L605.17,166.7 L604.99,166.2 L604.82,165.7 L604.66,165.2 L604.5,164.7 L604.33,164.2 L604.17,163.7 L604,163.2 L603.85,162.7 L603.7,162.2 L603.56,161.7 L603.45,161.2 L603.37,160.7 L603.29,160.2 L603.23,159.7 L603.17,159.2 L603.11,158.7 L603.06,158.2 L603.02,157.7 L602.99,157.2 L602.95,156.7 L602.91,156.2 L602.88,155.7 L602.84,155.2 L602.81,154.7 L602.78,154.2 L602.76,153.7 L602.73,153.2 L602.72,152.7 L602.71,152.2 L602.7,151.7 L602.7,151.2 L602.72,150.7 L602.74,150.2 L602.77,149.7 L602.81,149.2 L602.85,148.7 L602.89,148.2 L602.94,147.7 L602.98,147.2 L603.03,146.7 L603.07,146.2 L603.1,145.7 L603.13,145.2 L603.16,144.7 L603.2,144.2 L603.23,143.7 L603.27,143.2 L603.3,142.7 L603.33,142.2 L603.35,141.7 L603.37,141.2 L603.39,140.7 L603.4,140.2 L603.4,139.7 L603.38,139.2 L603.36,138.7 L603.32,138.2 L603.27,137.7 L603.21,137.2 L603.15,136.7 L603.09,136.2 L603.02,135.7 L602.95,135.2 L602.89,134.7 L602.82,134.2 L602.76,133.7 L602.7,133.2 L602.63,132.7 L602.55,132.2 L602.48,131.7 L602.41,131.2 L602.34,130.7 L602.28,130.2 L602.23,129.7 L602.19,129.2 L602.16,128.7 L602.14,128.2 L602.12,127.7 L602.1,127.2Z" fill="#00BA38" fill-opacity="0.7" stroke="#000" stroke-width="1.1" stroke-linejoin="round"/>
<line x1="601.2" x2="601.2" y1="143.15" y2="228.7" stroke="#000" stroke-width="1.0"/>
<rect x="598.1" y="182.8" width="6.2" height="25.9" fill="#00BA38" fill-opacity="0.7" stroke="#000" stroke-width="1.7"/>
<line x1="597.25" x2="605.15" y1="195.75" y2="195.75" stroke="#000" stroke-width="1.2"/>
<g fill="#000" fill-opacity="0.6">
<circle cx="601.2" cy="127.2" r="2.6"/><circle cx="601.2" cy="228.7" r="2.6"/><circle cx="601.2" cy="135" r="2.6"/><circle cx="601.2" cy="136.5" r="2.6"/><circle cx="601.2" cy="138" r="2.6"/><circle cx="601.2" cy="139.5" r="2.6"/><circle cx="601.2" cy="141" r="2.6"/><circle cx="601.2" cy="142.5" r="2.6"/><circle cx="601.2" cy="151" r="2.6"/><circle cx="601.2" cy="155" r="2.6"/><circle cx="601.2" cy="159" r="2.6"/><circle cx="601.2" cy="195.52" r="2.6"/><circle cx="601.2" cy="200.05" r="2.6"/><circle cx="601.2" cy="218.29" r="2.6"/><circle cx="601.2" cy="196.1" r="2.6"/><circle cx="601.2" cy="197.89" r="2.6"/><circle cx="601.2" cy="201.17" r="2.6"/><circle cx="601.2" cy="182.01" r="2.6"/><circle cx="601.2" cy="198.07" r="2.6"/><circle cx="601.2" cy="202.9" r="2.6"/><circle cx="601.2" cy="210.08" r="2.6"/><circle cx="601.2" cy="175.87" r="2.6"/><circle cx="601.2" cy="188.52" r="2.6"/><circle cx="601.2" cy="175.59" r="2.6"/><circle cx="601.2" cy="210.93" r="2.6"/><circle cx="601.2" cy="205.52" r="2.6"/><circle cx="601.2" cy="170.95" r="2.6"/><circle cx="601.2" cy="224.7" r="2.6"/><circle cx="601.2" cy="222.28" r="2.6"/><circle cx="601.2" cy="203.87" r="2.6"/><circle cx="601.2" cy="202.32" r="2.6"/><circle cx="601.2" cy="180.34" r="2.6"/><circle cx="601.2" cy="166.69" r="2.6"/><circle cx="601.2" cy="198.75" r="2.6"/><circle cx="601.2" cy="172.83" r="2.6"/><circle cx="601.2" cy="182.34" r="2.6"/><circle cx="601.2" cy="185.28" r="2.6"/><circle cx="601.2" cy="169.39" r="2.6"/><circle cx="601.2" cy="196.02" r="2.6"/><circle cx="601.2" cy="195" r="2.6"/><circle cx="601.2" cy="212.73" r="2.6"/><circle cx="601.2" cy="198.37" r="2.6"/><circle cx="601.2" cy="203.32" r="2.6"/><circle cx="601.2" cy="197.55" r="2.6"/><circle cx="601.2" cy="204.22" r="2.6"/><circle cx="601.2" cy="195.73" r="2.6"/><circle cx="601.2" cy="187.22" r="2.6"/><circle cx="601.2" cy="227.96" r="2.6"/><circle cx="601.2" cy="227.42" r="2.6"/><circle cx="601.2" cy="212.61" r="2.6"/><circle cx="601.2" cy="206.13" r="2.6"/><circle cx="601.2" cy="189.12" r="2.6"/><circle cx="601.2" cy="184.6" r="2.6"/><circle cx="601.2" cy="187.79" r="2.6"/><circle cx="601.2" cy="173.84" r="2.6"/><circle cx="601.2" cy="208.77" r="2.6"/><circle cx="601.2" cy="193.19" r="2.6"/><circle cx="601.2" cy="212.97" r="2.6"/><circle cx="601.2" cy="192.55" r="2.6"/><circle cx="601.2" cy="221.5" r="2.6"/><circle cx="601.2" cy="213.02" r="2.6"/><circle cx="601.2" cy="163.13" r="2.6"/><circle cx="601.2" cy="183.47" r="2.6"/><circle cx="601.2" cy="217.18" r="2.6"/><circle cx="601.2" cy="196.28" r="2.6"/><circle cx="601.2" cy="224.41" r="2.6"/><circle cx="601.2" cy="193.06" r="2.6"/><circle cx="601.2" cy="174.09" r="2.6"/><circle cx="601.2" cy="202.88" r="2.6"/><circle cx="601.2" cy="209.36" r="2.6"/><circle cx="601.2" cy="186.78" r="2.6"/><circle cx="601.2" cy="175.3" r="2.6"/><circle cx="601.2" cy="189.98" r="2.6"/><circle cx="601.2" cy="222.2" r="2.6"/><circle cx="601.2" cy="208.39" r="2.6"/><circle cx="601.2" cy="177.67" r="2.6"/><circle cx="601.2" cy="185.52" r="2.6"/><circle cx="601.2" cy="176.41" r="2.6"/><circle cx="601.2" cy="172.87" r="2.6"/><circle cx="601.2" cy="210.28" r="2.6"/><circle cx="601.2" cy="181.59" r="2.6"/><circle cx="601.2" cy="200.03" r="2.6"/><circle cx="601.2" cy="195.3" r="2.6"/><circle cx="601.2" cy="182.37" r="2.6"/><circle cx="601.2" cy="207.19" r="2.6"/><circle cx="601.2" cy="178.59" r="2.6"/><circle cx="601.2" cy="203.46" r="2.6"/><circle cx="601.2" cy="177.57" r="2.6"/><circle cx="601.2" cy="194.12" r="2.6"/><circle cx="601.2" cy="183.65" r="2.6"/><circle cx="601.2" cy="186.78" r="2.6"/><circle cx="601.2" cy="169.85" r="2.6"/><circle cx="601.2" cy="171.58" r="2.6"/><circle cx="601.2" cy="172.98" r="2.6"/><circle cx="601.2" cy="175.46" r="2.6"/><circle cx="601.2" cy="176.69" r="2.6"/><circle cx="601.2" cy="178.77" r="2.6"/><circle cx="601.2" cy="181.13" r="2.6"/><circle cx="601.2" cy="182.82" r="2.6"/><circle cx="601.2" cy="184.18" r="2.6"/><circle cx="601.2" cy="186.97" r="2.6"/><circle cx="601.2" cy="188.09" r="2.6"/><circle cx="601.2" cy="190.03" r="2.6"/><circle cx="601.2" cy="192.45" r="2.6"/><circle cx="601.2" cy="193.91" r="2.6"/><circle cx="601.2" cy="195.77" r="2.6"/><circle cx="601.2" cy="197.45" r="2.6"/><circle cx="601.2" cy="199.37" r="2.6"/><circle cx="601.2" cy="201.76" r="2.6"/><circle cx="601.2" cy="203.32" r="2.6"/><circle cx="601.2" cy="205.58" r="2.6"/><circle cx="601.2" cy="207.25" r="2.6"/><circle cx="601.2" cy="209.23" r="2.6"/><circle cx="601.2" cy="211.64" r="2.6"/><circle cx="601.2" cy="213.06" r="2.6"/><circle cx="601.2" cy="215.05" r="2.6"/><circle cx="601.2" cy="217.24" r="2.6"/><circle cx="601.2" cy="218.46" r="2.6"/><circle cx="601.2" cy="220.33" r="2.6"/>
</g>
<rect x="598.25" y="183.6" width="5.9" height="24.3" fill="#00BA38" fill-opacity="0.12"/>
<path d="M642.75,71.6 L642.76,72.1 L642.76,72.6 L642.77,73.1 L642.78,73.6 L642.78,74.1 L642.79,74.6 L642.8,75.1 L642.81,75.6 L642.82,76.1 L642.83,76.6 L642.84,77.1 L642.85,77.6 L642.86,78.1 L642.87,78.6 L642.88,79.1 L642.89,79.6 L642.9,80.1 L642.92,80.6 L642.93,81.1 L642.95,81.6 L642.97,82.1 L642.99,82.6 L643.01,83.1 L643.03,83.6 L643.05,84.1 L643.07,84.6 L643.09,85.1 L643.11,85.6 L643.12,86.1 L643.13,86.6 L643.14,87.1 L643.15,87.6 L643.15,88.1 L643.15,88.6 L643.15,89.1 L643.15,89.6 L643.15,90.1 L643.15,90.6 L643.15,91.1 L643.15,91.6 L643.15,92.1 L643.15,92.6 L643.15,93.1 L643.15,93.6 L643.15,94.1 L643.15,94.6 L643.15,95.1 L643.15,95.6 L643.15,96.1 L643.15,96.6 L643.15,97.1 L643.15,97.6 L643.15,98.1 L643.15,98.6 L643.15,99.1 L643.15,99.6 L643.15,100.1 L643.15,100.6 L643.15,101.1 L643.15,101.6 L643.15,102.1 L643.15,102.6 L643.15,103.1 L643.15,103.6 L643.15,104.1 L643.15,104.6 L643.15,105.1 L643.15,105.6 L643.15,106.1 L643.15,106.6 L643.15,107.1 L643.15,107.6 L643.15,108.1 L643.15,108.6 L643.15,109.1 L643.15,109.6 L643.15,110.1 L643.15,110.6 L643.14,111.1 L643.14,111.6 L643.13,112.1 L643.12,112.6 L643.11,113.1 L643.09,113.6 L643.08,114.1 L643.06,114.6 L643.04,115.1 L643.02,115.6 L643,116.1 L642.97,116.6 L642.95,117.1 L642.93,117.6 L642.9,118.1 L642.88,118.6 L642.85,119.1 L642.82,119.6 L642.79,120.1 L642.76,120.6 L642.72,121.1 L642.68,121.6 L642.63,122.1 L642.58,122.6 L642.53,123.1 L642.47,123.6 L642.41,124.1 L642.35,124.6 L642.29,125.1 L642.22,125.6 L642.16,126.1 L642.1,126.6 L642.03,127.1 L641.95,127.6 L641.87,128.1 L641.8,128.6 L641.72,129.1 L641.64,129.6 L641.55,130.1 L641.47,130.6 L641.39,131.1 L641.32,131.6 L641.24,132.1 L641.16,132.6 L641.08,133.1 L641.01,133.6 L640.93,134.1 L640.85,134.6 L640.77,135.1 L640.69,135.6 L640.62,136.1 L640.54,136.6 L640.46,137.1 L640.38,137.6 L640.3,138.1 L640.22,138.6 L640.13,139.1 L640.04,139.6 L639.95,140.1 L639.87,140.6 L639.79,141.1 L639.71,141.6 L639.64,142.1 L639.58,142.6 L639.53,143.1 L639.48,143.6 L639.45,144.1 L639.42,144.6 L639.39,145.1 L639.36,145.6 L639.34,146.1 L639.32,146.6 L639.3,147.1 L639.27,147.6 L639.25,148.1 L639.23,148.6 L639.21,149.1 L639.18,149.6 L639.15,150.1 L639.13,150.6 L639.11,151.1 L639.08,151.6 L639.06,152.1 L639.03,152.6 L639.01,153.1 L638.98,153.6 L638.95,154.1 L638.93,154.6 L638.89,155.1 L638.86,155.6 L638.83,156.1 L638.79,156.6 L638.75,157.1 L638.71,157.6 L638.67,158.1 L638.63,158.6 L638.58,159.1 L638.53,159.6 L638.48,160.1 L638.43,160.6 L638.38,161.1 L638.32,161.6 L638.26,162.1 L638.19,162.6 L638.12,163.1 L638.04,163.6 L637.96,164.1 L637.88,164.6 L637.8,165.1 L637.71,165.6 L637.63,166.1 L637.54,166.6 L637.46,167.1 L637.37,167.6 L637.28,168.1 L637.2,168.6 L637.12,169.1 L637.03,169.6 L636.95,170.1 L636.86,170.6 L636.77,171.1 L636.68,171.6 L636.58,172.1 L636.47,172.6 L636.35,173.1 L636.22,173.6 L636.08,174.1 L635.92,174.6 L635.75,175.1 L635.57,175.6 L635.38,176.1 L635.17,176.6 L634.96,177.1 L634.74,177.6 L634.52,178.1 L634.28,178.6 L634.05,179.1 L633.8,179.6 L633.53,180.1 L633.25,180.6 L632.95,181.1 L632.63,181.6 L632.31,182.1 L631.98,182.6 L631.65,183.1 L631.32,183.6 L630.99,184.1 L630.67,184.6 L630.35,185.1 L630.01,185.6 L629.68,186.1 L629.33,186.6 L628.99,187.1 L628.65,187.6 L628.31,188.1 L627.97,188.6 L627.64,189.1 L627.31,189.6 L626.99,190.1 L626.67,190.6 L626.35,191.1 L626.03,191.6 L625.7,192.1 L625.38,192.6 L625.08,193.1 L624.78,193.6 L624.51,194.1 L624.27,194.6 L624.06,195.1 L623.86,195.6 L623.65,196.1 L623.46,196.6 L623.28,197.1 L623.13,197.6 L623.01,198.1 L622.93,198.6 L622.89,199.1 L622.86,199.6 L622.84,200.1 L622.82,200.6 L622.81,201.1 L622.8,201.6 L622.8,202.1 L622.86,202.6 L622.96,203.1 L623.11,203.6 L623.29,204.1 L623.5,204.6 L623.73,205.1 L623.97,205.6 L624.21,206.1 L624.45,206.6 L624.7,207.1 L624.99,207.6 L625.31,208.1 L625.65,208.6 L626.02,209.1 L626.4,209.6 L626.79,210.1 L627.18,210.6 L627.58,211.1 L627.98,211.6 L628.37,212.1 L628.75,212.6 L629.14,213.1 L629.54,213.6 L629.95,214.1 L630.37,214.6 L630.79,215.1 L631.21,215.6 L631.62,216.1 L632.04,216.6 L632.44,217.1 L632.84,217.6 L633.22,218.1 L633.6,218.6 L633.97,219.1 L634.34,219.6 L634.71,220.1 L635.07,220.6 L635.42,221.1 L635.77,221.6 L636.12,222.1 L636.45,222.6 L636.78,223.1 L637.1,223.6 L637.41,224.1 L637.7,224.6 L637.98,225.1 L638.2,225.5 L648.2,225.5 L648.42,225.1 L648.7,224.6 L648.99,224.1 L649.3,223.6 L649.62,223.1 L649.95,222.6 L650.28,222.1 L650.63,221.6 L650.98,221.1 L651.33,220.6 L651.69,220.1 L652.06,219.6 L652.43,219.1 L652.8,218.6 L653.18,218.1 L653.56,217.6 L653.96,217.1 L654.36,216.6 L654.78,216.1 L655.19,215.6 L655.61,215.1 L656.03,214.6 L656.45,214.1 L656.86,213.6 L657.26,213.1 L657.65,212.6 L658.03,212.1 L658.42,211.6 L658.82,211.1 L659.22,210.6 L659.61,210.1 L660,209.6 L660.38,209.1 L660.75,208.6 L661.09,208.1 L661.41,207.6 L661.7,207.1 L661.95,206.6 L662.19,206.1 L662.43,205.6 L662.67,205.1 L662.9,204.6 L663.11,204.1 L663.29,203.6 L663.44,203.1 L663.54,202.6 L663.6,202.1 L663.6,201.6 L663.59,201.1 L663.58,200.6 L663.56,200.1 L663.54,199.6 L663.51,199.1 L663.47,198.6 L663.39,198.1 L663.27,197.6 L663.12,197.1 L662.94,196.6 L662.75,196.1 L662.54,195.6 L662.34,195.1 L662.13,194.6 L661.89,194.1 L661.62,193.6 L661.32,193.1 L661.02,192.6 L660.7,192.1 L660.37,191.6 L660.05,191.1 L659.73,190.6 L659.41,190.1 L659.09,189.6 L658.76,189.1 L658.43,188.6 L658.09,188.1 L657.75,187.6 L657.41,187.1 L657.07,186.6 L656.72,186.1 L656.39,185.6 L656.05,185.1 L655.73,184.6 L655.41,184.1 L655.08,183.6 L654.75,183.1 L654.42,182.6 L654.09,182.1 L653.77,181.6 L653.45,181.1 L653.15,180.6 L652.87,180.1 L652.6,179.6 L652.35,179.1 L652.12,178.6 L651.88,178.1 L651.66,177.6 L651.44,177.1 L651.23,176.6 L651.02,176.1 L650.83,175.6 L650.65,175.1 L650.48,174.6 L650.32,174.1 L650.18,173.6 L650.05,173.1 L649.93,172.6 L649.82,172.1 L649.72,171.6 L649.63,171.1 L649.54,170.6 L649.45,170.1 L649.37,169.6 L649.28,169.1 L649.2,168.6 L649.12,168.1 L649.03,167.6 L648.94,167.1 L648.86,166.6 L648.77,166.1 L648.69,165.6 L648.6,165.1 L648.52,164.6 L648.44,164.1 L648.36,163.6 L648.28,163.1 L648.21,162.6 L648.14,162.1 L648.08,161.6 L648.02,161.1 L647.97,160.6 L647.92,160.1 L647.87,159.6 L647.82,159.1 L647.77,158.6 L647.73,158.1 L647.69,157.6 L647.65,157.1 L647.61,156.6 L647.57,156.1 L647.54,155.6 L647.51,155.1 L647.47,154.6 L647.45,154.1 L647.42,153.6 L647.39,153.1 L647.37,152.6 L647.34,152.1 L647.32,151.6 L647.29,151.1 L647.27,150.6 L647.25,150.1 L647.22,149.6 L647.19,149.1 L647.17,148.6 L647.15,148.1 L647.13,147.6 L647.1,147.1 L647.08,146.6 L647.06,146.1 L647.04,145.6 L647.01,145.1 L646.98,144.6 L646.95,144.1 L646.92,143.6 L646.87,143.1 L646.82,142.6 L646.76,142.1 L646.69,141.6 L646.61,141.1 L646.53,140.6 L646.45,140.1 L646.36,139.6 L646.27,139.1 L646.18,138.6 L646.1,138.1 L646.02,137.6 L645.94,137.1 L645.86,136.6 L645.78,136.1 L645.71,135.6 L645.63,135.1 L645.55,134.6 L645.47,134.1 L645.39,133.6 L645.32,133.1 L645.24,132.6 L645.16,132.1 L645.08,131.6 L645.01,131.1 L644.93,130.6 L644.85,130.1 L644.76,129.6 L644.68,129.1 L644.6,128.6 L644.53,128.1 L644.45,127.6 L644.37,127.1 L644.3,126.6 L644.24,126.1 L644.18,125.6 L644.11,125.1 L644.05,124.6 L643.99,124.1 L643.93,123.6 L643.87,123.1 L643.82,122.6 L643.77,122.1 L643.72,121.6 L643.68,121.1 L643.64,120.6 L643.61,120.1 L643.58,119.6 L643.55,119.1 L643.52,118.6 L643.5,118.1 L643.47,117.6 L643.45,117.1 L643.43,116.6 L643.4,116.1 L643.38,115.6 L643.36,115.1 L643.34,114.6 L643.32,114.1 L643.31,113.6 L643.29,113.1 L643.28,112.6 L643.27,112.1 L643.26,111.6 L643.26,111.1 L643.25,110.6 L643.25,110.1 L643.25,109.6 L643.25,109.1 L643.25,108.6 L643.25,108.1 L643.25,107.6 L643.25,107.1 L643.25,106.6 L643.25,106.1 L643.25,105.6 L643.25,105.1 L643.25,104.6 L643.25,104.1 L643.25,103.6 L643.25,103.1 L643.25,102.6 L643.25,102.1 L643.25,101.6 L643.25,101.1 L643.25,100.6 L643.25,100.1 L643.25,99.6 L643.25,99.1 L643.25,98.6 L643.25,98.1 L643.25,97.6 L643.25,97.1 L643.25,96.6 L643.25,96.1 L643.25,95.6 L643.25,95.1 L643.25,94.6 L643.25,94.1 L643.25,93.6 L643.25,93.1 L643.25,92.6 L643.25,92.1 L643.25,91.6 L643.25,91.1 L643.25,90.6 L643.25,90.1 L643.25,89.6 L643.25,89.1 L643.25,88.6 L643.25,88.1 L643.25,87.6 L643.26,87.1 L643.27,86.6 L643.28,86.1 L643.29,85.6 L643.31,85.1 L643.33,84.6 L643.35,84.1 L643.37,83.6 L643.39,83.1 L643.41,82.6 L643.43,82.1 L643.45,81.6 L643.47,81.1 L643.48,80.6 L643.5,80.1 L643.51,79.6 L643.52,79.1 L643.53,78.6 L643.54,78.1 L643.55,77.6 L643.56,77.1 L643.57,76.6 L643.58,76.1 L643.59,75.6 L643.6,75.1 L643.61,74.6 L643.62,74.1 L643.62,73.6 L643.63,73.1 L643.64,72.6 L643.64,72.1 L643.65,71.6Z" fill="#619CFF" fill-opacity="0.7" stroke="#000" stroke-width="1.1" stroke-linejoin="round"/>
<line x1="643.2" x2="643.2" y1="140" y2="225.5" stroke="#000" stroke-width="1.0"/>
<rect x="640.1" y="180.1" width="6.2" height="26.2" fill="#619CFF" fill-opacity="0.7" stroke="#000" stroke-width="1.7"/>
<line x1="639.25" x2="647.15" y1="196.6" y2="196.6" stroke="#000" stroke-width="1.2"/>
<g fill="#000" fill-opacity="0.6">
<circle cx="643.2" cy="71.6" r="2.6"/><circle cx="643.2" cy="225.5" r="2.6"/><circle cx="643.2" cy="131" r="2.6"/><circle cx="643.2" cy="138" r="2.6"/><circle cx="643.2" cy="145" r="2.6"/><circle cx="643.2" cy="150" r="2.6"/><circle cx="643.2" cy="155" r="2.6"/><circle cx="643.2" cy="160" r="2.6"/><circle cx="643.2" cy="194.76" r="2.6"/><circle cx="643.2" cy="202.7" r="2.6"/><circle cx="643.2" cy="203.08" r="2.6"/><circle cx="643.2" cy="169.91" r="2.6"/><circle cx="643.2" cy="145.48" r="2.6"/><circle cx="643.2" cy="189.82" r="2.6"/><circle cx="643.2" cy="183.54" r="2.6"/><circle cx="643.2" cy="209.78" r="2.6"/><circle cx="643.2" cy="204.13" r="2.6"/><circle cx="643.2" cy="200.31" r="2.6"/><circle cx="643.2" cy="198.45" r="2.6"/><circle cx="643.2" cy="202.87" r="2.6"/><circle cx="643.2" cy="170.29" r="2.6"/><circle cx="643.2" cy="193.15" r="2.6"/><circle cx="643.2" cy="172.56" r="2.6"/><circle cx="643.2" cy="215.59" r="2.6"/><circle cx="643.2" cy="155.72" r="2.6"/><circle cx="643.2" cy="210.23" r="2.6"/><circle cx="643.2" cy="158.8" r="2.6"/><circle cx="643.2" cy="203.97" r="2.6"/><circle cx="643.2" cy="187.68" r="2.6"/><circle cx="643.2" cy="191.4" r="2.6"/><circle cx="643.2" cy="211.53" r="2.6"/><circle cx="643.2" cy="147.22" r="2.6"/><circle cx="643.2" cy="156.12" r="2.6"/><circle cx="643.2" cy="216.26" r="2.6"/><circle cx="643.2" cy="196.31" r="2.6"/><circle cx="643.2" cy="161.81" r="2.6"/><circle cx="643.2" cy="223.48" r="2.6"/><circle cx="643.2" cy="218.92" r="2.6"/><circle cx="643.2" cy="165.43" r="2.6"/><circle cx="643.2" cy="192.33" r="2.6"/><circle cx="643.2" cy="168.84" r="2.6"/><circle cx="643.2" cy="186.17" r="2.6"/><circle cx="643.2" cy="201.16" r="2.6"/><circle cx="643.2" cy="172.72" r="2.6"/><circle cx="643.2" cy="204.41" r="2.6"/><circle cx="643.2" cy="154.21" r="2.6"/><circle cx="643.2" cy="173.7" r="2.6"/><circle cx="643.2" cy="210.06" r="2.6"/><circle cx="643.2" cy="191.19" r="2.6"/><circle cx="643.2" cy="192.11" r="2.6"/><circle cx="643.2" cy="200.07" r="2.6"/><circle cx="643.2" cy="194.86" r="2.6"/><circle cx="643.2" cy="190.35" r="2.6"/><circle cx="643.2" cy="149.83" r="2.6"/><circle cx="643.2" cy="205.73" r="2.6"/><circle cx="643.2" cy="221.03" r="2.6"/><circle cx="643.2" cy="222.06" r="2.6"/><circle cx="643.2" cy="202.96" r="2.6"/><circle cx="643.2" cy="188.81" r="2.6"/><circle cx="643.2" cy="189.19" r="2.6"/><circle cx="643.2" cy="204.11" r="2.6"/><circle cx="643.2" cy="203.4" r="2.6"/><circle cx="643.2" cy="165.64" r="2.6"/><circle cx="643.2" cy="180.4" r="2.6"/><circle cx="643.2" cy="189.2" r="2.6"/><circle cx="643.2" cy="196.42" r="2.6"/><circle cx="643.2" cy="209.77" r="2.6"/><circle cx="643.2" cy="195.91" r="2.6"/><circle cx="643.2" cy="149.32" r="2.6"/><circle cx="643.2" cy="210.43" r="2.6"/><circle cx="643.2" cy="192.67" r="2.6"/><circle cx="643.2" cy="196.75" r="2.6"/><circle cx="643.2" cy="179.22" r="2.6"/><circle cx="643.2" cy="192.53" r="2.6"/><circle cx="643.2" cy="190.55" r="2.6"/><circle cx="643.2" cy="207.86" r="2.6"/><circle cx="643.2" cy="163.81" r="2.6"/><circle cx="643.2" cy="198.1" r="2.6"/><circle cx="643.2" cy="174.53" r="2.6"/><circle cx="643.2" cy="204.37" r="2.6"/><circle cx="643.2" cy="151.19" r="2.6"/><circle cx="643.2" cy="183.72" r="2.6"/><circle cx="643.2" cy="188.11" r="2.6"/><circle cx="643.2" cy="201.82" r="2.6"/><circle cx="643.2" cy="154.36" r="2.6"/><circle cx="643.2" cy="194.05" r="2.6"/><circle cx="643.2" cy="177.92" r="2.6"/><circle cx="643.2" cy="184.1" r="2.6"/><circle cx="643.2" cy="149.7" r="2.6"/><circle cx="643.2" cy="152.08" r="2.6"/><circle cx="643.2" cy="153.5" r="2.6"/><circle cx="643.2" cy="155.87" r="2.6"/><circle cx="643.2" cy="156.99" r="2.6"/><circle cx="643.2" cy="159.64" r="2.6"/><circle cx="643.2" cy="160.98" r="2.6"/><circle cx="643.2" cy="162.71" r="2.6"/><circle cx="643.2" cy="165.17" r="2.6"/><circle cx="643.2" cy="167.23" r="2.6"/><circle cx="643.2" cy="168.23" r="2.6"/><circle cx="643.2" cy="170.39" r="2.6"/><circle cx="643.2" cy="172.79" r="2.6"/><circle cx="643.2" cy="174.26" r="2.6"/><circle cx="643.2" cy="176.06" r="2.6"/><circle cx="643.2" cy="177.73" r="2.6"/><circle cx="643.2" cy="179.66" r="2.6"/><circle cx="643.2" cy="182.14" r="2.6"/><circle cx="643.2" cy="184.4" r="2.6"/><circle cx="643.2" cy="186.32" r="2.6"/><circle cx="643.2" cy="187.72" r="2.6"/><circle cx="643.2" cy="189.14" r="2.6"/><circle cx="643.2" cy="191.34" r="2.6"/><circle cx="643.2" cy="193.71" r="2.6"/><circle cx="643.2" cy="195.65" r="2.6"/><circle cx="643.2" cy="197.36" r="2.6"/><circle cx="643.2" cy="198.85" r="2.6"/><circle cx="643.2" cy="201.05" r="2.6"/><circle cx="643.2" cy="202.9" r="2.6"/><circle cx="643.2" cy="204.95" r="2.6"/><circle cx="643.2" cy="206.48" r="2.6"/><circle cx="643.2" cy="209.07" r="2.6"/><circle cx="643.2" cy="210.91" r="2.6"/><circle cx="643.2" cy="212.08" r="2.6"/><circle cx="643.2" cy="214.11" r="2.6"/><circle cx="643.2" cy="216.59" r="2.6"/><circle cx="643.2" cy="217.9" r="2.6"/><circle cx="643.2" cy="220.46" r="2.6"/>
</g>
<rect x="640.25" y="180.9" width="5.9" height="24.6" fill="#619CFF" fill-opacity="0.12"/>
<path d="M377.7,30.4 V237.7 H686" fill="none" stroke="#1c1c1c" stroke-width="1.1" stroke-linejoin="round"/>
<line x1="375" x2="377.2" y1="228.3" y2="228.3" stroke="#333" stroke-width="0.85"/>
<line x1="375" x2="377.2" y1="178" y2="178" stroke="#333" stroke-width="0.85"/>
<line x1="375" x2="377.2" y1="127.7" y2="127.7" stroke="#333" stroke-width="0.85"/>
<line x1="375" x2="377.2" y1="77.4" y2="77.4" stroke="#333" stroke-width="0.85"/>
<line x1="461.6" x2="461.6" y1="238.2" y2="240.4" stroke="#333" stroke-width="0.85"/>
<line x1="601.2" x2="601.2" y1="238.2" y2="240.4" stroke="#333" stroke-width="0.85"/>
<line x1="182.5" x2="182.5" y1="291.7" y2="496.4" stroke="#FF0000" stroke-width="1" stroke-dasharray="3.67,3.263" />
<path d="M70,302 L69.87,302.1 L69.73,302.2 L69.58,302.3 L69.43,302.4 L69.26,302.5 L69.09,302.6 L68.91,302.7 L68.73,302.8 L68.54,302.9 L68.35,303 L68.15,303.1 L67.94,303.2 L67.72,303.3 L67.47,303.4 L67.22,303.5 L66.96,303.6 L66.7,303.7 L66.45,303.8 L66.21,303.9 L65.98,304 L65.76,304.1 L65.55,304.2 L65.35,304.3 L65.14,304.4 L64.93,304.5 L64.71,304.6 L64.48,304.7 L64.23,304.8 L63.97,304.9 L63.68,305 L63.38,305.1 L63.06,305.2 L62.73,305.3 L62.39,305.4 L62.03,305.5 L61.65,305.6 L61.26,305.7 L60.86,305.8 L60.45,305.9 L60.02,306 L59.58,306.1 L59.11,306.2 L58.58,306.3 L58.03,306.4 L57.45,306.5 L56.86,306.6 L56.28,306.7 L55.72,306.8 L55.19,306.9 L54.68,307 L54.16,307.1 L53.67,307.2 L53.23,307.3 L52.89,307.4 L52.58,307.5 L52.31,307.6 L52.06,307.7 L51.82,307.8 L51.6,307.9 L51.37,308 L51.15,308.1 L50.91,308.2 L50.64,308.3 L50.37,308.4 L50.2,308.5 L50.11,308.6 L50.03,308.7 L49.97,308.8 L49.93,308.9 L49.9,309 L49.89,309.1 L49.9,309.2 L49.94,309.3 L49.99,309.4 L50.07,309.5 L50.15,309.6 L50.26,309.7 L50.49,309.8 L50.78,309.9 L51.03,310 L51.27,310.1 L51.51,310.2 L51.75,310.3 L52.01,310.4 L52.27,310.5 L52.56,310.6 L52.88,310.7 L53.24,310.8 L53.7,310.9 L54.21,311 L54.72,311.1 L55.19,311.2 L55.63,311.3 L56.06,311.4 L56.49,311.5 L56.92,311.6 L57.33,311.7 L57.74,311.8 L58.12,311.9 L58.49,312 L58.84,312.1 L59.16,312.2 L59.45,312.3 L59.71,312.4 L59.94,312.5 L60.17,312.6 L60.37,312.7 L60.57,312.8 L60.76,312.9 L60.94,313 L61.11,313.1 L61.28,313.2 L61.46,313.3 L61.63,313.4 L61.81,313.5 L61.98,313.6 L62.14,313.7 L62.3,313.8 L62.45,313.9 L62.6,314 L62.75,314.1 L62.9,314.2 L63.06,314.3 L63.22,314.4 L63.39,314.5 L63.57,314.6 L63.76,314.7 L63.97,314.8 L64.2,314.9 L64.47,315 L64.76,315.1 L65.06,315.2 L65.37,315.3 L65.67,315.4 L65.96,315.5 L66.21,315.6 L66.45,315.7 L66.68,315.8 L66.91,315.9 L67.14,316 L67.35,316.1 L67.55,316.2 L67.74,316.3 L67.9,316.4 L68.05,316.5 L68.17,316.6 L68.3,316.7 L68.42,316.8 L68.54,316.9 L68.65,317 L68.76,317.1 L68.86,317.2 L68.96,317.3 L69.06,317.4 L69.15,317.5 L69.24,317.6 L69.33,317.7 L69.41,317.8 L69.49,317.9 L69.56,318 L69.63,318.1 L69.7,318.2 L69.77,318.3 L69.83,318.4 L69.89,318.5 L69.95,318.6 L70,318.7 L70.05,318.8 L70.1,318.9 L70.16,319 L70.21,319.1 L70.25,319.2 L70.3,319.3 L70.34,319.4 L70.38,319.5 L70.42,319.6 L70.45,319.7 L70.47,319.8 L70.49,319.9 L70.5,320 L70.51,320.1 L70.52,320.2 L70.52,320.3 L70.53,320.4 L70.54,320.5 L70.54,320.6 L70.55,320.7 L70.56,320.8 L70.56,320.9 L70.57,321 L70.57,321.1 L70.58,321.2 L70.58,321.3 L70.58,321.4 L70.59,321.5 L70.59,321.6 L70.59,321.7 L70.6,321.8 L70.6,321.9 L70.6,322 L70.6,322.1 L70.6,322.2 L70.6,322.3 L70.6,322.3 L71,322.3 L71,322.3 L71,322.2 L71,322.1 L71,322 L71,321.9 L71,321.8 L71.01,321.7 L71.01,321.6 L71.01,321.5 L71.02,321.4 L71.02,321.3 L71.02,321.2 L71.03,321.1 L71.03,321 L71.04,320.9 L71.04,320.8 L71.05,320.7 L71.06,320.6 L71.06,320.5 L71.07,320.4 L71.08,320.3 L71.08,320.2 L71.09,320.1 L71.1,320 L71.11,319.9 L71.13,319.8 L71.15,319.7 L71.18,319.6 L71.22,319.5 L71.26,319.4 L71.3,319.3 L71.35,319.2 L71.39,319.1 L71.44,319 L71.5,318.9 L71.55,318.8 L71.6,318.7 L71.65,318.6 L71.71,318.5 L71.77,318.4 L71.83,318.3 L71.9,318.2 L71.97,318.1 L72.04,318 L72.11,317.9 L72.19,317.8 L72.27,317.7 L72.36,317.6 L72.45,317.5 L72.54,317.4 L72.64,317.3 L72.74,317.2 L72.84,317.1 L72.95,317 L73.06,316.9 L73.18,316.8 L73.3,316.7 L73.43,316.6 L73.55,316.5 L73.7,316.4 L73.86,316.3 L74.05,316.2 L74.25,316.1 L74.46,316 L74.69,315.9 L74.92,315.8 L75.15,315.7 L75.39,315.6 L75.64,315.5 L75.93,315.4 L76.23,315.3 L76.54,315.2 L76.84,315.1 L77.13,315 L77.4,314.9 L77.63,314.8 L77.84,314.7 L78.03,314.6 L78.21,314.5 L78.38,314.4 L78.54,314.3 L78.7,314.2 L78.85,314.1 L79,314 L79.15,313.9 L79.3,313.8 L79.46,313.7 L79.62,313.6 L79.79,313.5 L79.97,313.4 L80.14,313.3 L80.32,313.2 L80.49,313.1 L80.66,313 L80.84,312.9 L81.03,312.8 L81.23,312.7 L81.43,312.6 L81.66,312.5 L81.89,312.4 L82.15,312.3 L82.44,312.2 L82.76,312.1 L83.11,312 L83.48,311.9 L83.86,311.8 L84.27,311.7 L84.68,311.6 L85.11,311.5 L85.54,311.4 L85.97,311.3 L86.41,311.2 L86.88,311.1 L87.39,311 L87.9,310.9 L88.36,310.8 L88.72,310.7 L89.04,310.6 L89.33,310.5 L89.59,310.4 L89.85,310.3 L90.09,310.2 L90.33,310.1 L90.57,310 L90.82,309.9 L91.11,309.8 L91.34,309.7 L91.45,309.6 L91.53,309.5 L91.61,309.4 L91.66,309.3 L91.7,309.2 L91.71,309.1 L91.7,309 L91.67,308.9 L91.63,308.8 L91.57,308.7 L91.49,308.6 L91.4,308.5 L91.23,308.4 L90.96,308.3 L90.69,308.2 L90.45,308.1 L90.23,308 L90,307.9 L89.78,307.8 L89.54,307.7 L89.29,307.6 L89.02,307.5 L88.71,307.4 L88.37,307.3 L87.93,307.2 L87.44,307.1 L86.92,307 L86.41,306.9 L85.88,306.8 L85.32,306.7 L84.74,306.6 L84.15,306.5 L83.57,306.4 L83.02,306.3 L82.49,306.2 L82.02,306.1 L81.58,306 L81.15,305.9 L80.74,305.8 L80.34,305.7 L79.95,305.6 L79.57,305.5 L79.21,305.4 L78.87,305.3 L78.54,305.2 L78.22,305.1 L77.92,305 L77.63,304.9 L77.37,304.8 L77.12,304.7 L76.89,304.6 L76.67,304.5 L76.46,304.4 L76.25,304.3 L76.05,304.2 L75.84,304.1 L75.62,304 L75.39,303.9 L75.15,303.8 L74.9,303.7 L74.64,303.6 L74.38,303.5 L74.13,303.4 L73.88,303.3 L73.66,303.2 L73.45,303.1 L73.25,303 L73.06,302.9 L72.87,302.8 L72.69,302.7 L72.51,302.6 L72.34,302.5 L72.17,302.4 L72.02,302.3 L71.87,302.2 L71.73,302.1 L71.6,302Z" fill="#F8766D" fill-opacity="0.7" stroke="#000" stroke-width="1.1" stroke-linejoin="round"/>
<line x1="70.8" x2="70.8" y1="302" y2="319" stroke="#000" stroke-width="1.0"/>
<rect x="67.7" y="306.7" width="6.2" height="4.6" fill="#F8766D" fill-opacity="0.7" stroke="#000" stroke-width="1.7"/>
<line x1="66.85" x2="74.75" y1="309" y2="309" stroke="#000" stroke-width="1.2"/>
<g fill="#000" fill-opacity="0.6">
<circle cx="70.8" cy="302" r="2.6"/><circle cx="70.8" cy="322.3" r="2.6"/><circle cx="70.8" cy="316.5" r="2.6"/><circle cx="70.8" cy="317.3" r="2.6"/><circle cx="70.8" cy="318.2" r="2.6"/><circle cx="70.8" cy="319" r="2.6"/><circle cx="70.8" cy="319.8" r="2.6"/><circle cx="70.8" cy="320.5" r="2.6"/><circle cx="70.8" cy="307.52" r="2.6"/><circle cx="70.8" cy="311.08" r="2.6"/><circle cx="70.8" cy="311.07" r="2.6"/><circle cx="70.8" cy="313.31" r="2.6"/><circle cx="70.8" cy="306.81" r="2.6"/><circle cx="70.8" cy="307.26" r="2.6"/><circle cx="70.8" cy="306.36" r="2.6"/><circle cx="70.8" cy="307.21" r="2.6"/><circle cx="70.8" cy="311.61" r="2.6"/><circle cx="70.8" cy="306.12" r="2.6"/><circle cx="70.8" cy="309.73" r="2.6"/><circle cx="70.8" cy="307.1" r="2.6"/><circle cx="70.8" cy="307.83" r="2.6"/><circle cx="70.8" cy="308.94" r="2.6"/><circle cx="70.8" cy="313.1" r="2.6"/><circle cx="70.8" cy="310.37" r="2.6"/><circle cx="70.8" cy="303.28" r="2.6"/><circle cx="70.8" cy="307.67" r="2.6"/><circle cx="70.8" cy="306.35" r="2.6"/><circle cx="70.8" cy="313.71" r="2.6"/><circle cx="70.8" cy="312.65" r="2.6"/><circle cx="70.8" cy="312.59" r="2.6"/><circle cx="70.8" cy="312.92" r="2.6"/><circle cx="70.8" cy="311.74" r="2.6"/><circle cx="70.8" cy="315.53" r="2.6"/><circle cx="70.8" cy="312.41" r="2.6"/><circle cx="70.8" cy="307.5" r="2.6"/><circle cx="70.8" cy="313.32" r="2.6"/><circle cx="70.8" cy="309.37" r="2.6"/><circle cx="70.8" cy="311.87" r="2.6"/><circle cx="70.8" cy="309.99" r="2.6"/><circle cx="70.8" cy="308.93" r="2.6"/><circle cx="70.8" cy="308.41" r="2.6"/><circle cx="70.8" cy="308.93" r="2.6"/><circle cx="70.8" cy="308" r="2.6"/><circle cx="70.8" cy="305.93" r="2.6"/><circle cx="70.8" cy="312.81" r="2.6"/><circle cx="70.8" cy="312.48" r="2.6"/><circle cx="70.8" cy="317.67" r="2.6"/><circle cx="70.8" cy="311.14" r="2.6"/><circle cx="70.8" cy="309.91" r="2.6"/><circle cx="70.8" cy="311.79" r="2.6"/><circle cx="70.8" cy="306.19" r="2.6"/><circle cx="70.8" cy="311" r="2.6"/><circle cx="70.8" cy="309.03" r="2.6"/><circle cx="70.8" cy="306.71" r="2.6"/><circle cx="70.8" cy="306.99" r="2.6"/><circle cx="70.8" cy="309.66" r="2.6"/><circle cx="70.8" cy="307.47" r="2.6"/><circle cx="70.8" cy="309.16" r="2.6"/><circle cx="70.8" cy="310.34" r="2.6"/><circle cx="70.8" cy="308.66" r="2.6"/><circle cx="70.8" cy="306.13" r="2.6"/><circle cx="70.8" cy="309.41" r="2.6"/><circle cx="70.8" cy="307.31" r="2.6"/><circle cx="70.8" cy="307.31" r="2.6"/><circle cx="70.8" cy="306.9" r="2.6"/><circle cx="70.8" cy="308.43" r="2.6"/><circle cx="70.8" cy="305.12" r="2.6"/><circle cx="70.8" cy="310.75" r="2.6"/><circle cx="70.8" cy="315.69" r="2.6"/><circle cx="70.8" cy="308.61" r="2.6"/><circle cx="70.8" cy="311.44" r="2.6"/><circle cx="70.8" cy="315.04" r="2.6"/><circle cx="70.8" cy="304.36" r="2.6"/><circle cx="70.8" cy="306.28" r="2.6"/><circle cx="70.8" cy="312.59" r="2.6"/><circle cx="70.8" cy="313.11" r="2.6"/><circle cx="70.8" cy="310.64" r="2.6"/><circle cx="70.8" cy="306.51" r="2.6"/><circle cx="70.8" cy="308.8" r="2.6"/><circle cx="70.8" cy="313.65" r="2.6"/><circle cx="70.8" cy="314" r="2.6"/><circle cx="70.8" cy="312.55" r="2.6"/><circle cx="70.8" cy="306.99" r="2.6"/><circle cx="70.8" cy="313.38" r="2.6"/><circle cx="70.8" cy="308.49" r="2.6"/><circle cx="70.8" cy="311.41" r="2.6"/><circle cx="70.8" cy="306.22" r="2.6"/><circle cx="70.8" cy="316.53" r="2.6"/><circle cx="70.8" cy="310.33" r="2.6"/><circle cx="70.8" cy="311.48" r="2.6"/><circle cx="70.8" cy="307.08" r="2.6"/><circle cx="70.8" cy="310.45" r="2.6"/><circle cx="70.8" cy="310.13" r="2.6"/><circle cx="70.8" cy="310.22" r="2.6"/><circle cx="70.8" cy="308.37" r="2.6"/><circle cx="70.8" cy="311.54" r="2.6"/><circle cx="70.8" cy="308.22" r="2.6"/><circle cx="70.8" cy="307.84" r="2.6"/><circle cx="70.8" cy="306.57" r="2.6"/><circle cx="70.8" cy="311.07" r="2.6"/><circle cx="70.8" cy="305.85" r="2.6"/><circle cx="70.8" cy="307.21" r="2.6"/><circle cx="70.8" cy="305.03" r="2.6"/><circle cx="70.8" cy="310.68" r="2.6"/><circle cx="70.8" cy="309.93" r="2.6"/><circle cx="70.8" cy="309.82" r="2.6"/><circle cx="70.8" cy="304.23" r="2.6"/><circle cx="70.8" cy="309" r="2.6"/><circle cx="70.8" cy="303.78" r="2.6"/><circle cx="70.8" cy="305.43" r="2.6"/><circle cx="70.8" cy="307.24" r="2.6"/><circle cx="70.8" cy="310.14" r="2.6"/><circle cx="70.8" cy="311.16" r="2.6"/><circle cx="70.8" cy="313.24" r="2.6"/><circle cx="70.8" cy="315.11" r="2.6"/>
</g>
<path d="M112.3,301.8 L112.3,302.3 L112.3,302.8 L112.3,303.3 L112.3,303.8 L112.3,304.3 L112.3,304.8 L112.3,305.3 L112.3,305.8 L112.3,306.3 L112.3,306.8 L112.3,307.3 L112.3,307.8 L112.3,308.3 L112.3,308.8 L112.3,309.3 L112.3,309.8 L112.3,310.3 L112.3,310.8 L112.3,311.3 L112.3,311.8 L112.3,312.3 L112.3,312.8 L112.3,313.3 L112.3,313.8 L112.3,314.3 L112.3,314.8 L112.3,315.3 L112.3,315.8 L112.3,316.3 L112.3,316.8 L112.3,317.3 L112.3,317.8 L112.3,318.3 L112.3,318.8 L112.3,319.3 L112.3,319.8 L112.3,320.3 L112.3,320.8 L112.3,321.3 L112.3,321.8 L112.3,322.3 L112.3,322.8 L112.3,323.3 L112.3,323.8 L112.3,324.3 L112.3,324.8 L112.3,325.3 L112.3,325.8 L112.3,326.3 L112.3,326.8 L112.3,327.3 L112.3,327.8 L112.3,328.3 L112.3,328.8 L112.3,329.3 L112.3,329.8 L112.3,330.3 L112.3,330.8 L112.3,331.3 L112.3,331.8 L112.3,332.3 L112.3,332.8 L112.3,333.3 L112.3,333.8 L112.3,334.3 L112.3,334.8 L112.3,335.3 L112.3,335.8 L112.3,336.3 L112.3,336.8 L112.3,337.3 L112.3,337.8 L112.3,338.3 L112.3,338.8 L112.3,339.3 L112.3,339.8 L112.3,340.3 L112.3,340.8 L112.3,341.3 L112.3,341.8 L112.3,342.3 L112.3,342.8 L112.3,343.3 L112.3,343.8 L112.3,344.3 L112.3,344.8 L112.3,345.3 L112.3,345.8 L112.3,346.3 L112.3,346.8 L112.3,347.3 L112.3,347.8 L112.3,348.3 L112.3,348.8 L112.3,349.3 L112.3,349.8 L112.3,350.3 L112.3,350.8 L112.3,351.3 L112.3,351.8 L112.3,352.3 L112.3,352.8 L112.3,353.3 L112.3,353.8 L112.3,354.3 L112.3,354.8 L112.3,355.3 L112.3,355.8 L112.3,356.3 L112.3,356.8 L112.3,357.3 L112.3,357.8 L112.3,358.3 L112.3,358.8 L112.3,359.3 L112.3,359.8 L112.3,360.3 L112.3,360.8 L112.3,361.3 L112.3,361.8 L112.3,362.3 L112.3,362.8 L112.3,363.3 L112.3,363.8 L112.3,364.3 L112.3,364.8 L112.3,365.3 L112.3,365.8 L112.3,366.3 L112.3,366.8 L112.3,367.3 L112.3,367.8 L112.3,368.3 L112.3,368.8 L112.3,369.3 L112.3,369.8 L112.3,370.3 L112.3,370.8 L112.3,371.3 L112.3,371.8 L112.3,372.3 L112.3,372.8 L112.3,373.3 L112.3,373.8 L112.3,374.3 L112.3,374.8 L112.3,375.3 L112.3,375.8 L112.3,376.3 L112.3,376.8 L112.3,377.3 L112.3,377.8 L112.3,378.3 L112.3,378.8 L112.3,379.3 L112.3,379.8 L112.3,380.3 L112.3,380.8 L112.3,381.3 L112.3,381.8 L112.3,382.3 L112.3,382.8 L112.3,383.3 L112.3,383.8 L112.3,384.3 L112.3,384.8 L112.3,385.3 L112.3,385.8 L112.3,386.3 L112.3,386.8 L112.3,387.3 L112.3,387.8 L112.3,388.3 L112.3,388.8 L112.3,389.3 L112.3,389.8 L112.3,390.3 L112.3,390.8 L112.3,391.3 L112.3,391.8 L112.3,392.3 L112.3,392.8 L112.3,393.3 L112.3,393.8 L112.3,394.3 L112.3,394.8 L112.3,395.3 L112.3,395.8 L112.3,396.3 L112.3,396.8 L112.3,397.3 L112.3,397.8 L112.3,398.3 L112.3,398.8 L112.3,399.3 L112.3,399.8 L112.3,400.3 L112.3,400.8 L112.3,401.3 L112.3,401.8 L112.3,402.3 L112.3,402.8 L112.3,403.3 L112.3,403.8 L112.3,404.3 L112.3,404.8 L112.3,405.3 L112.3,405.8 L112.3,406.3 L112.3,406.8 L112.3,407.3 L112.3,407.8 L112.3,408.3 L112.3,408.8 L112.3,409.3 L112.3,409.8 L112.3,410.3 L112.3,410.8 L112.3,411.3 L112.3,411.8 L112.3,412.3 L112.3,412.8 L112.3,413.3 L112.3,413.8 L112.3,414.3 L112.3,414.8 L112.3,415.3 L112.3,415.8 L112.3,416.3 L112.3,416.8 L112.3,417.3 L112.3,417.8 L112.3,418.3 L112.3,418.8 L112.3,419.3 L112.3,419.8 L112.3,420.3 L112.3,420.8 L112.3,421.3 L112.3,421.8 L112.3,422.3 L112.3,422.8 L112.3,423.3 L112.3,423.8 L112.3,424.3 L112.3,424.8 L112.3,425.3 L112.3,425.8 L112.3,426.3 L112.3,426.8 L112.3,427.3 L112.3,427.8 L112.3,428.3 L112.3,428.8 L112.3,429.3 L112.3,429.8 L112.3,430.3 L112.3,430.8 L112.3,431.3 L112.3,431.8 L112.3,432.3 L112.3,432.8 L112.3,433.3 L112.3,433.8 L112.3,434.3 L112.3,434.8 L112.3,435.3 L112.3,435.8 L112.3,436.3 L112.3,436.8 L112.3,437.3 L112.3,437.8 L112.3,438.3 L112.3,438.8 L112.3,439.3 L112.3,439.8 L112.3,440.3 L112.3,440.8 L112.3,441.3 L112.3,441.8 L112.3,442.3 L112.3,442.8 L112.3,443.3 L112.3,443.8 L112.3,444.3 L112.3,444.8 L112.3,445.3 L112.3,445.8 L112.3,446.3 L112.3,446.8 L112.3,447.3 L112.3,447.8 L112.3,448.3 L112.3,448.8 L112.3,449.3 L112.3,449.8 L112.3,450.3 L112.3,450.8 L112.3,451.3 L112.3,451.8 L112.3,452.3 L112.3,452.8 L112.3,453.3 L112.3,453.8 L112.3,454.3 L112.3,454.8 L112.3,455.3 L112.3,455.8 L112.3,456.3 L112.3,456.8 L112.3,457.3 L112.3,457.8 L112.3,458.3 L112.3,458.8 L112.3,459.3 L112.3,459.8 L112.3,460.3 L112.3,460.8 L112.3,461.3 L112.3,461.8 L112.3,462.3 L112.3,462.8 L112.3,463.3 L112.3,463.8 L112.3,464.3 L112.3,464.8 L112.3,465.3 L112.3,465.8 L112.3,466.3 L112.3,466.8 L112.3,467.3 L112.3,467.8 L112.3,468.3 L112.3,468.8 L112.3,469.3 L112.3,469.8 L112.3,470.3 L112.3,470.8 L112.3,471.3 L112.3,471.8 L112.3,472.3 L112.3,472.8 L112.3,473.3 L112.3,473.8 L112.3,474.3 L112.3,474.8 L112.3,475.3 L112.3,475.8 L112.3,476.3 L112.3,476.8 L112.3,477.3 L112.3,477.8 L112.3,478.3 L112.3,478.8 L112.3,479.3 L112.3,479.8 L112.3,480.3 L112.3,480.8 L112.3,481.3 L112.3,481.8 L112.3,482.3 L112.3,482.8 L112.3,483.3 L112.3,483.8 L112.3,484.3 L112.3,484.8 L112.3,485.3 L112.3,485.8 L112.3,486.3 L112.3,486.8 L112.3,487 L112.7,487 L112.7,486.8 L112.7,486.3 L112.7,485.8 L112.7,485.3 L112.7,484.8 L112.7,484.3 L112.7,483.8 L112.7,483.3 L112.7,482.8 L112.7,482.3 L112.7,481.8 L112.7,481.3 L112.7,480.8 L112.7,480.3 L112.7,479.8 L112.7,479.3 L112.7,478.8 L112.7,478.3 L112.7,477.8 L112.7,477.3 L112.7,476.8 L112.7,476.3 L112.7,475.8 L112.7,475.3 L112.7,474.8 L112.7,474.3 L112.7,473.8 L112.7,473.3 L112.7,472.8 L112.7,472.3 L112.7,471.8 L112.7,471.3 L112.7,470.8 L112.7,470.3 L112.7,469.8 L112.7,469.3 L112.7,468.8 L112.7,468.3 L112.7,467.8 L112.7,467.3 L112.7,466.8 L112.7,466.3 L112.7,465.8 L112.7,465.3 L112.7,464.8 L112.7,464.3 L112.7,463.8 L112.7,463.3 L112.7,462.8 L112.7,462.3 L112.7,461.8 L112.7,461.3 L112.7,460.8 L112.7,460.3 L112.7,459.8 L112.7,459.3 L112.7,458.8 L112.7,458.3 L112.7,457.8 L112.7,457.3 L112.7,456.8 L112.7,456.3 L112.7,455.8 L112.7,455.3 L112.7,454.8 L112.7,454.3 L112.7,453.8 L112.7,453.3 L112.7,452.8 L112.7,452.3 L112.7,451.8 L112.7,451.3 L112.7,450.8 L112.7,450.3 L112.7,449.8 L112.7,449.3 L112.7,448.8 L112.7,448.3 L112.7,447.8 L112.7,447.3 L112.7,446.8 L112.7,446.3 L112.7,445.8 L112.7,445.3 L112.7,444.8 L112.7,444.3 L112.7,443.8 L112.7,443.3 L112.7,442.8 L112.7,442.3 L112.7,441.8 L112.7,441.3 L112.7,440.8 L112.7,440.3 L112.7,439.8 L112.7,439.3 L112.7,438.8 L112.7,438.3 L112.7,437.8 L112.7,437.3 L112.7,436.8 L112.7,436.3 L112.7,435.8 L112.7,435.3 L112.7,434.8 L112.7,434.3 L112.7,433.8 L112.7,433.3 L112.7,432.8 L112.7,432.3 L112.7,431.8 L112.7,431.3 L112.7,430.8 L112.7,430.3 L112.7,429.8 L112.7,429.3 L112.7,428.8 L112.7,428.3 L112.7,427.8 L112.7,427.3 L112.7,426.8 L112.7,426.3 L112.7,425.8 L112.7,425.3 L112.7,424.8 L112.7,424.3 L112.7,423.8 L112.7,423.3 L112.7,422.8 L112.7,422.3 L112.7,421.8 L112.7,421.3 L112.7,420.8 L112.7,420.3 L112.7,419.8 L112.7,419.3 L112.7,418.8 L112.7,418.3 L112.7,417.8 L112.7,417.3 L112.7,416.8 L112.7,416.3 L112.7,415.8 L112.7,415.3 L112.7,414.8 L112.7,414.3 L112.7,413.8 L112.7,413.3 L112.7,412.8 L112.7,412.3 L112.7,411.8 L112.7,411.3 L112.7,410.8 L112.7,410.3 L112.7,409.8 L112.7,409.3 L112.7,408.8 L112.7,408.3 L112.7,407.8 L112.7,407.3 L112.7,406.8 L112.7,406.3 L112.7,405.8 L112.7,405.3 L112.7,404.8 L112.7,404.3 L112.7,403.8 L112.7,403.3 L112.7,402.8 L112.7,402.3 L112.7,401.8 L112.7,401.3 L112.7,400.8 L112.7,400.3 L112.7,399.8 L112.7,399.3 L112.7,398.8 L112.7,398.3 L112.7,397.8 L112.7,397.3 L112.7,396.8 L112.7,396.3 L112.7,395.8 L112.7,395.3 L112.7,394.8 L112.7,394.3 L112.7,393.8 L112.7,393.3 L112.7,392.8 L112.7,392.3 L112.7,391.8 L112.7,391.3 L112.7,390.8 L112.7,390.3 L112.7,389.8 L112.7,389.3 L112.7,388.8 L112.7,388.3 L112.7,387.8 L112.7,387.3 L112.7,386.8 L112.7,386.3 L112.7,385.8 L112.7,385.3 L112.7,384.8 L112.7,384.3 L112.7,383.8 L112.7,383.3 L112.7,382.8 L112.7,382.3 L112.7,381.8 L112.7,381.3 L112.7,380.8 L112.7,380.3 L112.7,379.8 L112.7,379.3 L112.7,378.8 L112.7,378.3 L112.7,377.8 L112.7,377.3 L112.7,376.8 L112.7,376.3 L112.7,375.8 L112.7,375.3 L112.7,374.8 L112.7,374.3 L112.7,373.8 L112.7,373.3 L112.7,372.8 L112.7,372.3 L112.7,371.8 L112.7,371.3 L112.7,370.8 L112.7,370.3 L112.7,369.8 L112.7,369.3 L112.7,368.8 L112.7,368.3 L112.7,367.8 L112.7,367.3 L112.7,366.8 L112.7,366.3 L112.7,365.8 L112.7,365.3 L112.7,364.8 L112.7,364.3 L112.7,363.8 L112.7,363.3 L112.7,362.8 L112.7,362.3 L112.7,361.8 L112.7,361.3 L112.7,360.8 L112.7,360.3 L112.7,359.8 L112.7,359.3 L112.7,358.8 L112.7,358.3 L112.7,357.8 L112.7,357.3 L112.7,356.8 L112.7,356.3 L112.7,355.8 L112.7,355.3 L112.7,354.8 L112.7,354.3 L112.7,353.8 L112.7,353.3 L112.7,352.8 L112.7,352.3 L112.7,351.8 L112.7,351.3 L112.7,350.8 L112.7,350.3 L112.7,349.8 L112.7,349.3 L112.7,348.8 L112.7,348.3 L112.7,347.8 L112.7,347.3 L112.7,346.8 L112.7,346.3 L112.7,345.8 L112.7,345.3 L112.7,344.8 L112.7,344.3 L112.7,343.8 L112.7,343.3 L112.7,342.8 L112.7,342.3 L112.7,341.8 L112.7,341.3 L112.7,340.8 L112.7,340.3 L112.7,339.8 L112.7,339.3 L112.7,338.8 L112.7,338.3 L112.7,337.8 L112.7,337.3 L112.7,336.8 L112.7,336.3 L112.7,335.8 L112.7,335.3 L112.7,334.8 L112.7,334.3 L112.7,333.8 L112.7,333.3 L112.7,332.8 L112.7,332.3 L112.7,331.8 L112.7,331.3 L112.7,330.8 L112.7,330.3 L112.7,329.8 L112.7,329.3 L112.7,328.8 L112.7,328.3 L112.7,327.8 L112.7,327.3 L112.7,326.8 L112.7,326.3 L112.7,325.8 L112.7,325.3 L112.7,324.8 L112.7,324.3 L112.7,323.8 L112.7,323.3 L112.7,322.8 L112.7,322.3 L112.7,321.8 L112.7,321.3 L112.7,320.8 L112.7,320.3 L112.7,319.8 L112.7,319.3 L112.7,318.8 L112.7,318.3 L112.7,317.8 L112.7,317.3 L112.7,316.8 L112.7,316.3 L112.7,315.8 L112.7,315.3 L112.7,314.8 L112.7,314.3 L112.7,313.8 L112.7,313.3 L112.7,312.8 L112.7,312.3 L112.7,311.8 L112.7,311.3 L112.7,310.8 L112.7,310.3 L112.7,309.8 L112.7,309.3 L112.7,308.8 L112.7,308.3 L112.7,307.8 L112.7,307.3 L112.7,306.8 L112.7,306.3 L112.7,305.8 L112.7,305.3 L112.7,304.8 L112.7,304.3 L112.7,303.8 L112.7,303.3 L112.7,302.8 L112.7,302.3 L112.7,301.8Z" fill="#00BA38" fill-opacity="0.7" stroke="#000" stroke-width="1.1" stroke-linejoin="round"/>
<line x1="112.5" x2="112.5" y1="301.8" y2="467.65" stroke="#000" stroke-width="1.0"/>
<rect x="109.05" y="319.1" width="6.9" height="59.1" fill="#00BA38" fill-opacity="1" stroke="#000" stroke-width="1.0"/>
<line x1="108.55" x2="116.45" y1="335.9" y2="335.9" stroke="#000" stroke-width="1.2"/>
<g fill="#000" fill-opacity="0.6">
<circle cx="112.5" cy="301.8" r="2.6"/><circle cx="112.5" cy="303.62" r="2.6"/><circle cx="112.5" cy="304.48" r="2.6"/><circle cx="112.5" cy="304.96" r="2.6"/><circle cx="112.5" cy="305.64" r="2.6"/><circle cx="112.5" cy="305.74" r="2.6"/><circle cx="112.5" cy="306.24" r="2.6"/><circle cx="112.5" cy="307.03" r="2.6"/><circle cx="112.5" cy="307.5" r="2.6"/><circle cx="112.5" cy="307.79" r="2.6"/><circle cx="112.5" cy="308.52" r="2.6"/><circle cx="112.5" cy="308.86" r="2.6"/><circle cx="112.5" cy="309.59" r="2.6"/><circle cx="112.5" cy="309.7" r="2.6"/><circle cx="112.5" cy="310.27" r="2.6"/><circle cx="112.5" cy="311.19" r="2.6"/><circle cx="112.5" cy="311.37" r="2.6"/><circle cx="112.5" cy="311.82" r="2.6"/><circle cx="112.5" cy="312.65" r="2.6"/><circle cx="112.5" cy="313.05" r="2.6"/><circle cx="112.5" cy="313.27" r="2.6"/><circle cx="112.5" cy="314.02" r="2.6"/><circle cx="112.5" cy="314.59" r="2.6"/><circle cx="112.5" cy="314.8" r="2.6"/><circle cx="112.5" cy="315.6" r="2.6"/><circle cx="112.5" cy="315.79" r="2.6"/><circle cx="112.5" cy="316.42" r="2.6"/><circle cx="112.5" cy="316.78" r="2.6"/><circle cx="112.5" cy="317.36" r="2.6"/><circle cx="112.5" cy="318.33" r="2.6"/><circle cx="112.5" cy="318.49" r="2.6"/><circle cx="112.5" cy="323.09" r="2.6"/><circle cx="112.5" cy="322.43" r="2.6"/><circle cx="112.5" cy="322.63" r="2.6"/><circle cx="112.5" cy="322.95" r="2.6"/><circle cx="112.5" cy="322.72" r="2.6"/><circle cx="112.5" cy="328.13" r="2.6"/><circle cx="112.5" cy="328.71" r="2.6"/><circle cx="112.5" cy="328.76" r="2.6"/><circle cx="112.5" cy="328.22" r="2.6"/><circle cx="112.5" cy="328.11" r="2.6"/><circle cx="112.5" cy="336.05" r="2.6"/><circle cx="112.5" cy="335.62" r="2.6"/><circle cx="112.5" cy="335.23" r="2.6"/><circle cx="112.5" cy="335.54" r="2.6"/><circle cx="112.5" cy="335.26" r="2.6"/><circle cx="112.5" cy="341.86" r="2.6"/><circle cx="112.5" cy="341.5" r="2.6"/><circle cx="112.5" cy="341.02" r="2.6"/><circle cx="112.5" cy="341.88" r="2.6"/><circle cx="112.5" cy="341.01" r="2.6"/><circle cx="112.5" cy="347.24" r="2.6"/><circle cx="112.5" cy="346.93" r="2.6"/><circle cx="112.5" cy="347.79" r="2.6"/><circle cx="112.5" cy="347.04" r="2.6"/><circle cx="112.5" cy="347.53" r="2.6"/><circle cx="112.5" cy="353.51" r="2.6"/><circle cx="112.5" cy="353.98" r="2.6"/><circle cx="112.5" cy="354.22" r="2.6"/><circle cx="112.5" cy="354.04" r="2.6"/><circle cx="112.5" cy="353.95" r="2.6"/><circle cx="112.5" cy="360.98" r="2.6"/><circle cx="112.5" cy="360.92" r="2.6"/><circle cx="112.5" cy="361.11" r="2.6"/><circle cx="112.5" cy="360.51" r="2.6"/><circle cx="112.5" cy="360.97" r="2.6"/><circle cx="112.5" cy="360.68" r="2.6"/><circle cx="112.5" cy="369.64" r="2.6"/><circle cx="112.5" cy="369.73" r="2.6"/><circle cx="112.5" cy="368.68" r="2.6"/><circle cx="112.5" cy="368.77" r="2.6"/><circle cx="112.5" cy="369.44" r="2.6"/><circle cx="112.5" cy="369.29" r="2.6"/><circle cx="112.5" cy="377.22" r="2.6"/><circle cx="112.5" cy="378.05" r="2.6"/><circle cx="112.5" cy="378.33" r="2.6"/><circle cx="112.5" cy="377.71" r="2.6"/><circle cx="112.5" cy="377.62" r="2.6"/><circle cx="112.5" cy="325.5" r="2.6"/><circle cx="112.5" cy="327" r="2.6"/><circle cx="112.5" cy="332" r="2.6"/><circle cx="112.5" cy="333.5" r="2.6"/><circle cx="112.5" cy="339" r="2.6"/><circle cx="112.5" cy="344.5" r="2.6"/><circle cx="112.5" cy="346" r="2.6"/><circle cx="112.5" cy="351" r="2.6"/><circle cx="112.5" cy="357.5" r="2.6"/><circle cx="112.5" cy="358.5" r="2.6"/><circle cx="112.5" cy="364" r="2.6"/><circle cx="112.5" cy="365" r="2.6"/><circle cx="112.5" cy="380.49" r="2.6"/><circle cx="112.5" cy="381.6" r="2.6"/><circle cx="112.5" cy="382.08" r="2.6"/><circle cx="112.5" cy="382.99" r="2.6"/><circle cx="112.5" cy="383.81" r="2.6"/><circle cx="112.5" cy="384.97" r="2.6"/><circle cx="112.5" cy="385.76" r="2.6"/><circle cx="112.5" cy="386.52" r="2.6"/><circle cx="112.5" cy="387.49" r="2.6"/><circle cx="112.5" cy="389.2" r="2.6"/><circle cx="112.5" cy="389.6" r="2.6"/><circle cx="112.5" cy="398.6" r="2.6"/><circle cx="112.5" cy="399.2" r="2.6"/><circle cx="112.5" cy="399.8" r="2.6"/><circle cx="112.5" cy="403.9" r="2.6"/><circle cx="112.5" cy="404.3" r="2.6"/><circle cx="112.5" cy="411.4" r="2.6"/><circle cx="112.5" cy="417.2" r="2.6"/><circle cx="112.5" cy="427.7" r="2.6"/><circle cx="112.5" cy="427.9" r="2.6"/><circle cx="112.5" cy="441.6" r="2.6"/><circle cx="112.5" cy="442.8" r="2.6"/><circle cx="112.5" cy="457.5" r="2.6"/><circle cx="112.5" cy="458.1" r="2.6"/><circle cx="112.5" cy="458.9" r="2.6"/><circle cx="112.5" cy="467" r="2.6"/><circle cx="112.5" cy="467.2" r="2.6"/><circle cx="112.5" cy="473.5" r="2.6"/><circle cx="112.5" cy="473.7" r="2.6"/><circle cx="112.5" cy="473.9" r="2.6"/><circle cx="112.5" cy="487" r="2.6"/>
</g>
<rect x="109.55" y="319.9" width="5.9" height="57.5" fill="#00BA38" fill-opacity="0.18"/>
<path d="M154.3,336.5 L154.3,337 L154.3,337.5 L154.29,338 L154.28,338.5 L154.28,339 L154.26,339.5 L154.25,340 L154.23,340.5 L154.21,341 L154.19,341.5 L154.17,342 L154.14,342.5 L154.11,343 L154.06,343.5 L153.9,344 L153.68,344.5 L153.41,345 L153.15,345.5 L152.87,346 L152.54,346.5 L152.19,347 L151.82,347.5 L151.45,348 L151.11,348.5 L150.8,349 L150.52,349.5 L150.25,350 L149.99,350.5 L149.74,351 L149.5,351.5 L149.26,352 L149.03,352.5 L148.81,353 L148.59,353.5 L148.37,354 L148.17,354.5 L147.97,355 L147.78,355.5 L147.59,356 L147.4,356.5 L147.22,357 L147.04,357.5 L146.85,358 L146.66,358.5 L146.43,359 L146.22,359.5 L146.1,360 L146.06,360.5 L146.02,361 L146.01,361.5 L146,362 L146.04,362.5 L146.11,363 L146.22,363.5 L146.38,364 L146.72,364.5 L147.17,365 L147.57,365.5 L147.91,366 L148.24,366.5 L148.57,367 L148.92,367.5 L149.31,368 L149.72,368.5 L150.14,369 L150.58,369.5 L151.03,370 L151.5,370.5 L152.03,371 L152.63,371.5 L153.2,372 L153.6,372.5 L153.88,373 L154.1,373.5 L154.2,374 L154.21,374.5 L154.22,375 L154.23,375.5 L154.23,376 L154.24,376.5 L154.25,377 L154.26,377.5 L154.26,378 L154.27,378.5 L154.27,379 L154.27,379.5 L154.28,380 L154.28,380.5 L154.29,381 L154.29,381.5 L154.29,382 L154.29,382.5 L154.29,383 L154.3,383.5 L154.3,384 L154.3,384.5 L154.3,385 L154.3,385.5 L154.3,386 L154.3,386.5 L154.3,387 L154.3,387.2 L154.7,387.2 L154.7,387 L154.7,386.5 L154.7,386 L154.7,385.5 L154.7,385 L154.7,384.5 L154.7,384 L154.7,383.5 L154.71,383 L154.71,382.5 L154.71,382 L154.71,381.5 L154.71,381 L154.72,380.5 L154.72,380 L154.73,379.5 L154.73,379 L154.73,378.5 L154.74,378 L154.74,377.5 L154.75,377 L154.76,376.5 L154.77,376 L154.77,375.5 L154.78,375 L154.79,374.5 L154.8,374 L154.9,373.5 L155.12,373 L155.4,372.5 L155.8,372 L156.37,371.5 L156.97,371 L157.5,370.5 L157.97,370 L158.42,369.5 L158.86,369 L159.28,368.5 L159.69,368 L160.08,367.5 L160.43,367 L160.76,366.5 L161.09,366 L161.43,365.5 L161.83,365 L162.28,364.5 L162.62,364 L162.78,363.5 L162.89,363 L162.96,362.5 L163,362 L162.99,361.5 L162.98,361 L162.94,360.5 L162.9,360 L162.78,359.5 L162.57,359 L162.34,358.5 L162.15,358 L161.96,357.5 L161.78,357 L161.6,356.5 L161.41,356 L161.22,355.5 L161.03,355 L160.83,354.5 L160.63,354 L160.41,353.5 L160.19,353 L159.97,352.5 L159.74,352 L159.5,351.5 L159.26,351 L159.01,350.5 L158.75,350 L158.48,349.5 L158.2,349 L157.89,348.5 L157.55,348 L157.18,347.5 L156.81,347 L156.46,346.5 L156.13,346 L155.85,345.5 L155.59,345 L155.32,344.5 L155.1,344 L154.94,343.5 L154.89,343 L154.86,342.5 L154.83,342 L154.81,341.5 L154.79,341 L154.77,340.5 L154.75,340 L154.74,339.5 L154.72,339 L154.72,338.5 L154.71,338 L154.7,337.5 L154.7,337 L154.7,336.5Z" fill="#619CFF" fill-opacity="0.7" stroke="#000" stroke-width="1.1" stroke-linejoin="round"/>
<line x1="154.5" x2="154.5" y1="338.25" y2="377.85" stroke="#000" stroke-width="1.0"/>
<rect x="151.4" y="353.3" width="6.2" height="9.5" fill="#619CFF" fill-opacity="0.7" stroke="#000" stroke-width="1.7"/>
<line x1="150.55" x2="158.45" y1="358.05" y2="358.05" stroke="#000" stroke-width="1.2"/>
<g fill="#000" fill-opacity="0.6">
<circle cx="154.5" cy="336.5" r="2.6"/><circle cx="154.5" cy="387.2" r="2.6"/><circle cx="154.5" cy="339.77" r="2.6"/><circle cx="154.5" cy="341.32" r="2.6"/><circle cx="154.5" cy="342.86" r="2.6"/><circle cx="154.5" cy="344.41" r="2.6"/><circle cx="154.5" cy="345.95" r="2.6"/><circle cx="154.5" cy="347.5" r="2.6"/><circle cx="154.5" cy="349.05" r="2.6"/><circle cx="154.5" cy="350.59" r="2.6"/><circle cx="154.5" cy="352.14" r="2.6"/><circle cx="154.5" cy="353.68" r="2.6"/><circle cx="154.5" cy="355.23" r="2.6"/><circle cx="154.5" cy="356.77" r="2.6"/><circle cx="154.5" cy="358.32" r="2.6"/><circle cx="154.5" cy="359.86" r="2.6"/><circle cx="154.5" cy="361.41" r="2.6"/><circle cx="154.5" cy="362.95" r="2.6"/><circle cx="154.5" cy="364.5" r="2.6"/><circle cx="154.5" cy="366.05" r="2.6"/><circle cx="154.5" cy="367.59" r="2.6"/><circle cx="154.5" cy="369.14" r="2.6"/><circle cx="154.5" cy="370.68" r="2.6"/><circle cx="154.5" cy="372.23" r="2.6"/><circle cx="154.5" cy="371.29" r="2.6"/><circle cx="154.5" cy="343.39" r="2.6"/><circle cx="154.5" cy="364.29" r="2.6"/><circle cx="154.5" cy="351.85" r="2.6"/><circle cx="154.5" cy="377.06" r="2.6"/><circle cx="154.5" cy="344.7" r="2.6"/><circle cx="154.5" cy="367.75" r="2.6"/><circle cx="154.5" cy="363.23" r="2.6"/><circle cx="154.5" cy="367.12" r="2.6"/><circle cx="154.5" cy="387.05" r="2.6"/><circle cx="154.5" cy="354.13" r="2.6"/><circle cx="154.5" cy="356.49" r="2.6"/><circle cx="154.5" cy="363.75" r="2.6"/><circle cx="154.5" cy="355.15" r="2.6"/><circle cx="154.5" cy="354.73" r="2.6"/><circle cx="154.5" cy="353.84" r="2.6"/><circle cx="154.5" cy="367.14" r="2.6"/><circle cx="154.5" cy="367.6" r="2.6"/><circle cx="154.5" cy="365.62" r="2.6"/><circle cx="154.5" cy="353.71" r="2.6"/><circle cx="154.5" cy="369.26" r="2.6"/><circle cx="154.5" cy="360.03" r="2.6"/><circle cx="154.5" cy="353.92" r="2.6"/><circle cx="154.5" cy="358.96" r="2.6"/><circle cx="154.5" cy="358.24" r="2.6"/><circle cx="154.5" cy="349.04" r="2.6"/><circle cx="154.5" cy="361.04" r="2.6"/><circle cx="154.5" cy="356.97" r="2.6"/><circle cx="154.5" cy="361.13" r="2.6"/><circle cx="154.5" cy="369.48" r="2.6"/><circle cx="154.5" cy="362.55" r="2.6"/><circle cx="154.5" cy="357.93" r="2.6"/><circle cx="154.5" cy="367.29" r="2.6"/><circle cx="154.5" cy="383.39" r="2.6"/><circle cx="154.5" cy="359.63" r="2.6"/><circle cx="154.5" cy="370.13" r="2.6"/><circle cx="154.5" cy="344.99" r="2.6"/><circle cx="154.5" cy="351.29" r="2.6"/><circle cx="154.5" cy="352.28" r="2.6"/><circle cx="154.5" cy="369.81" r="2.6"/><circle cx="154.5" cy="363.4" r="2.6"/><circle cx="154.5" cy="363.96" r="2.6"/><circle cx="154.5" cy="355.29" r="2.6"/><circle cx="154.5" cy="359.72" r="2.6"/><circle cx="154.5" cy="367.98" r="2.6"/><circle cx="154.5" cy="349.88" r="2.6"/><circle cx="154.5" cy="350.48" r="2.6"/><circle cx="154.5" cy="347.49" r="2.6"/><circle cx="154.5" cy="359.22" r="2.6"/><circle cx="154.5" cy="366.67" r="2.6"/><circle cx="154.5" cy="360.85" r="2.6"/><circle cx="154.5" cy="357.86" r="2.6"/><circle cx="154.5" cy="359.86" r="2.6"/><circle cx="154.5" cy="352.48" r="2.6"/><circle cx="154.5" cy="370.28" r="2.6"/><circle cx="154.5" cy="356.83" r="2.6"/><circle cx="154.5" cy="354.02" r="2.6"/><circle cx="154.5" cy="355.87" r="2.6"/><circle cx="154.5" cy="366.28" r="2.6"/><circle cx="154.5" cy="356.04" r="2.6"/><circle cx="154.5" cy="346.65" r="2.6"/><circle cx="154.5" cy="347.98" r="2.6"/><circle cx="154.5" cy="349.99" r="2.6"/><circle cx="154.5" cy="351.52" r="2.6"/><circle cx="154.5" cy="354.25" r="2.6"/><circle cx="154.5" cy="356.04" r="2.6"/><circle cx="154.5" cy="357.62" r="2.6"/><circle cx="154.5" cy="359.16" r="2.6"/><circle cx="154.5" cy="361.44" r="2.6"/><circle cx="154.5" cy="363.22" r="2.6"/><circle cx="154.5" cy="365.58" r="2.6"/><circle cx="154.5" cy="367.57" r="2.6"/><circle cx="154.5" cy="369.29" r="2.6"/><circle cx="154.5" cy="370.73" r="2.6"/>
</g>
<path d="M209.7,301.2 L209.57,301.3 L209.43,301.4 L209.29,301.5 L209.14,301.6 L208.98,301.7 L208.81,301.8 L208.64,301.9 L208.46,302 L208.28,302.1 L208.09,302.2 L207.9,302.3 L207.7,302.4 L207.5,302.5 L207.29,302.6 L207.06,302.7 L206.81,302.8 L206.56,302.9 L206.31,303 L206.06,303.1 L205.82,303.2 L205.59,303.3 L205.37,303.4 L205.16,303.5 L204.96,303.6 L204.75,303.7 L204.55,303.8 L204.34,303.9 L204.12,304 L203.88,304.1 L203.63,304.2 L203.36,304.3 L203.08,304.4 L202.77,304.5 L202.46,304.6 L202.12,304.7 L201.78,304.8 L201.42,304.9 L201.04,305 L200.65,305.1 L200.25,305.2 L199.84,305.3 L199.42,305.4 L198.97,305.5 L198.49,305.6 L197.95,305.7 L197.4,305.8 L196.82,305.9 L196.25,306 L195.69,306.1 L195.15,306.2 L194.65,306.3 L194.14,306.4 L193.64,306.5 L193.18,306.6 L192.8,306.7 L192.48,306.8 L192.2,306.9 L191.94,307 L191.71,307.1 L191.48,307.2 L191.26,307.3 L191.04,307.4 L190.82,307.5 L190.57,307.6 L190.29,307.7 L190.07,307.8 L189.96,307.9 L189.88,308 L189.81,308.1 L189.76,308.2 L189.72,308.3 L189.7,308.4 L189.7,308.5 L189.73,308.6 L189.77,308.7 L189.84,308.8 L189.91,308.9 L190,309 L190.17,309.1 L190.43,309.2 L190.7,309.3 L190.94,309.4 L191.17,309.5 L191.41,309.6 L191.65,309.7 L191.9,309.8 L192.18,309.9 L192.47,310 L192.8,310.1 L193.2,310.2 L193.68,310.3 L194.19,310.4 L194.68,310.5 L195.11,310.6 L195.54,310.7 L195.96,310.8 L196.38,310.9 L196.79,311 L197.2,311.1 L197.58,311.2 L197.96,311.3 L198.31,311.4 L198.63,311.5 L198.93,311.6 L199.2,311.7 L199.44,311.8 L199.67,311.9 L199.88,312 L200.08,312.1 L200.26,312.2 L200.44,312.3 L200.62,312.4 L200.79,312.5 L200.96,312.6 L201.13,312.7 L201.3,312.8 L201.47,312.9 L201.63,313 L201.79,313.1 L201.94,313.2 L202.09,313.3 L202.23,313.4 L202.38,313.5 L202.53,313.6 L202.69,313.7 L202.85,313.8 L203.02,313.9 L203.2,314 L203.4,314.1 L203.61,314.2 L203.86,314.3 L204.13,314.4 L204.43,314.5 L204.73,314.6 L205.03,314.7 L205.31,314.8 L205.58,314.9 L205.82,315 L206.05,315.1 L206.28,315.2 L206.5,315.3 L206.72,315.4 L206.92,315.5 L207.11,315.6 L207.28,315.7 L207.43,315.8 L207.56,315.9 L207.69,316 L207.82,316.1 L207.94,316.2 L208.05,316.3 L208.17,316.4 L208.28,316.5 L208.39,316.6 L208.49,316.7 L208.59,316.8 L208.69,316.9 L208.78,317 L208.86,317.1 L208.94,317.2 L209.02,317.3 L209.09,317.4 L209.16,317.5 L209.22,317.6 L209.27,317.7 L209.32,317.8 L209.36,317.9 L209.4,318 L209.43,318.1 L209.47,318.2 L209.5,318.3 L209.53,318.4 L209.56,318.5 L209.59,318.6 L209.62,318.7 L209.64,318.8 L209.67,318.9 L209.7,319 L209.72,319.1 L209.74,319.2 L209.76,319.3 L209.78,319.4 L209.8,319.5 L209.82,319.6 L209.84,319.7 L209.85,319.8 L209.86,319.9 L209.87,320 L209.88,320.1 L209.89,320.2 L209.9,320.3 L209.9,320.4 L209.9,320.5 L209.9,320.5 L210.5,320.5 L210.5,320.5 L210.5,320.4 L210.5,320.3 L210.51,320.2 L210.52,320.1 L210.53,320 L210.54,319.9 L210.55,319.8 L210.56,319.7 L210.58,319.6 L210.6,319.5 L210.62,319.4 L210.64,319.3 L210.66,319.2 L210.68,319.1 L210.7,319 L210.73,318.9 L210.76,318.8 L210.78,318.7 L210.81,318.6 L210.84,318.5 L210.87,318.4 L210.9,318.3 L210.93,318.2 L210.97,318.1 L211,318 L211.04,317.9 L211.08,317.8 L211.13,317.7 L211.18,317.6 L211.24,317.5 L211.31,317.4 L211.38,317.3 L211.46,317.2 L211.54,317.1 L211.62,317 L211.71,316.9 L211.81,316.8 L211.91,316.7 L212.01,316.6 L212.12,316.5 L212.23,316.4 L212.35,316.3 L212.46,316.2 L212.58,316.1 L212.71,316 L212.84,315.9 L212.97,315.8 L213.12,315.7 L213.29,315.6 L213.48,315.5 L213.68,315.4 L213.9,315.3 L214.12,315.2 L214.35,315.1 L214.58,315 L214.82,314.9 L215.09,314.8 L215.37,314.7 L215.67,314.6 L215.97,314.5 L216.27,314.4 L216.54,314.3 L216.79,314.2 L217,314.1 L217.2,314 L217.38,313.9 L217.55,313.8 L217.71,313.7 L217.87,313.6 L218.02,313.5 L218.17,313.4 L218.31,313.3 L218.46,313.2 L218.61,313.1 L218.77,313 L218.93,312.9 L219.1,312.8 L219.27,312.7 L219.44,312.6 L219.61,312.5 L219.78,312.4 L219.96,312.3 L220.14,312.2 L220.32,312.1 L220.52,312 L220.73,311.9 L220.96,311.8 L221.2,311.7 L221.47,311.6 L221.77,311.5 L222.09,311.4 L222.44,311.3 L222.82,311.2 L223.2,311.1 L223.61,311 L224.02,310.9 L224.44,310.8 L224.86,310.7 L225.29,310.6 L225.72,310.5 L226.21,310.4 L226.72,310.3 L227.2,310.2 L227.6,310.1 L227.93,310 L228.22,309.9 L228.5,309.8 L228.75,309.7 L228.99,309.6 L229.23,309.5 L229.46,309.4 L229.7,309.3 L229.97,309.2 L230.23,309.1 L230.4,309 L230.49,308.9 L230.56,308.8 L230.63,308.7 L230.67,308.6 L230.7,308.5 L230.7,308.4 L230.68,308.3 L230.64,308.2 L230.59,308.1 L230.52,308 L230.44,307.9 L230.33,307.8 L230.11,307.7 L229.83,307.6 L229.58,307.5 L229.36,307.4 L229.14,307.3 L228.92,307.2 L228.69,307.1 L228.46,307 L228.2,306.9 L227.92,306.8 L227.6,306.7 L227.22,306.6 L226.76,306.5 L226.26,306.4 L225.75,306.3 L225.25,306.2 L224.71,306.1 L224.15,306 L223.58,305.9 L223,305.8 L222.45,305.7 L221.91,305.6 L221.43,305.5 L220.98,305.4 L220.56,305.3 L220.15,305.2 L219.75,305.1 L219.36,305 L218.98,304.9 L218.62,304.8 L218.28,304.7 L217.94,304.6 L217.63,304.5 L217.32,304.4 L217.04,304.3 L216.77,304.2 L216.52,304.1 L216.28,304 L216.06,303.9 L215.85,303.8 L215.65,303.7 L215.44,303.6 L215.24,303.5 L215.03,303.4 L214.81,303.3 L214.58,303.2 L214.34,303.1 L214.09,303 L213.84,302.9 L213.59,302.8 L213.34,302.7 L213.11,302.6 L212.9,302.5 L212.7,302.4 L212.5,302.3 L212.31,302.2 L212.12,302.1 L211.94,302 L211.76,301.9 L211.59,301.8 L211.42,301.7 L211.26,301.6 L211.11,301.5 L210.97,301.4 L210.83,301.3 L210.7,301.2Z" fill="#F8766D" fill-opacity="0.7" stroke="#000" stroke-width="1.1" stroke-linejoin="round"/>
<line x1="210.2" x2="210.2" y1="301.2" y2="319.25" stroke="#000" stroke-width="1.0"/>
<rect x="207.1" y="305.7" width="6.2" height="5.1" fill="#F8766D" fill-opacity="0.7" stroke="#000" stroke-width="1.7"/>
<line x1="206.25" x2="214.15" y1="308.25" y2="308.25" stroke="#000" stroke-width="1.2"/>
<g fill="#000" fill-opacity="0.6">
<circle cx="210.2" cy="301.2" r="2.6"/><circle cx="210.2" cy="320.5" r="2.6"/><circle cx="210.2" cy="307.74" r="2.6"/><circle cx="210.2" cy="308.67" r="2.6"/><circle cx="210.2" cy="308.17" r="2.6"/><circle cx="210.2" cy="308.41" r="2.6"/><circle cx="210.2" cy="308.12" r="2.6"/><circle cx="210.2" cy="310.16" r="2.6"/><circle cx="210.2" cy="306.87" r="2.6"/><circle cx="210.2" cy="309.95" r="2.6"/><circle cx="210.2" cy="302.36" r="2.6"/><circle cx="210.2" cy="307.24" r="2.6"/><circle cx="210.2" cy="307.52" r="2.6"/><circle cx="210.2" cy="305.63" r="2.6"/><circle cx="210.2" cy="311.07" r="2.6"/><circle cx="210.2" cy="307.31" r="2.6"/><circle cx="210.2" cy="311.68" r="2.6"/><circle cx="210.2" cy="315.12" r="2.6"/><circle cx="210.2" cy="306.82" r="2.6"/><circle cx="210.2" cy="313.48" r="2.6"/><circle cx="210.2" cy="311.96" r="2.6"/><circle cx="210.2" cy="310.25" r="2.6"/><circle cx="210.2" cy="303.18" r="2.6"/><circle cx="210.2" cy="308.49" r="2.6"/><circle cx="210.2" cy="309.88" r="2.6"/><circle cx="210.2" cy="307.19" r="2.6"/><circle cx="210.2" cy="306.55" r="2.6"/><circle cx="210.2" cy="307.31" r="2.6"/><circle cx="210.2" cy="306.86" r="2.6"/><circle cx="210.2" cy="311.66" r="2.6"/><circle cx="210.2" cy="307.62" r="2.6"/><circle cx="210.2" cy="308.22" r="2.6"/><circle cx="210.2" cy="310.02" r="2.6"/><circle cx="210.2" cy="314.83" r="2.6"/><circle cx="210.2" cy="307.17" r="2.6"/><circle cx="210.2" cy="303.72" r="2.6"/><circle cx="210.2" cy="316" r="2.6"/><circle cx="210.2" cy="312.36" r="2.6"/><circle cx="210.2" cy="311.7" r="2.6"/><circle cx="210.2" cy="309.01" r="2.6"/><circle cx="210.2" cy="306.65" r="2.6"/><circle cx="210.2" cy="305.79" r="2.6"/><circle cx="210.2" cy="307.26" r="2.6"/><circle cx="210.2" cy="308.52" r="2.6"/><circle cx="210.2" cy="304.29" r="2.6"/><circle cx="210.2" cy="310.57" r="2.6"/><circle cx="210.2" cy="310.89" r="2.6"/><circle cx="210.2" cy="302.54" r="2.6"/><circle cx="210.2" cy="312.53" r="2.6"/><circle cx="210.2" cy="308.76" r="2.6"/><circle cx="210.2" cy="314.03" r="2.6"/><circle cx="210.2" cy="308.63" r="2.6"/><circle cx="210.2" cy="311.78" r="2.6"/><circle cx="210.2" cy="308.47" r="2.6"/><circle cx="210.2" cy="309.76" r="2.6"/><circle cx="210.2" cy="308.82" r="2.6"/><circle cx="210.2" cy="303.01" r="2.6"/><circle cx="210.2" cy="305.66" r="2.6"/><circle cx="210.2" cy="306.62" r="2.6"/><circle cx="210.2" cy="308.09" r="2.6"/><circle cx="210.2" cy="307.8" r="2.6"/><circle cx="210.2" cy="309.14" r="2.6"/><circle cx="210.2" cy="310.17" r="2.6"/><circle cx="210.2" cy="308.04" r="2.6"/><circle cx="210.2" cy="307.39" r="2.6"/><circle cx="210.2" cy="308.91" r="2.6"/><circle cx="210.2" cy="314.99" r="2.6"/><circle cx="210.2" cy="311.59" r="2.6"/><circle cx="210.2" cy="310.14" r="2.6"/><circle cx="210.2" cy="312.11" r="2.6"/><circle cx="210.2" cy="306.58" r="2.6"/><circle cx="210.2" cy="305" r="2.6"/><circle cx="210.2" cy="304.86" r="2.6"/><circle cx="210.2" cy="305.34" r="2.6"/><circle cx="210.2" cy="302.29" r="2.6"/><circle cx="210.2" cy="309.87" r="2.6"/><circle cx="210.2" cy="314.03" r="2.6"/><circle cx="210.2" cy="305.22" r="2.6"/><circle cx="210.2" cy="310.44" r="2.6"/><circle cx="210.2" cy="314.59" r="2.6"/><circle cx="210.2" cy="311.35" r="2.6"/><circle cx="210.2" cy="305.78" r="2.6"/><circle cx="210.2" cy="309.98" r="2.6"/><circle cx="210.2" cy="306.84" r="2.6"/><circle cx="210.2" cy="306.07" r="2.6"/><circle cx="210.2" cy="302.42" r="2.6"/><circle cx="210.2" cy="309.03" r="2.6"/><circle cx="210.2" cy="314.04" r="2.6"/><circle cx="210.2" cy="305.06" r="2.6"/><circle cx="210.2" cy="305.7" r="2.6"/><circle cx="210.2" cy="307.95" r="2.6"/><circle cx="210.2" cy="303.56" r="2.6"/><circle cx="210.2" cy="308.55" r="2.6"/><circle cx="210.2" cy="310.91" r="2.6"/><circle cx="210.2" cy="308.52" r="2.6"/><circle cx="210.2" cy="303.58" r="2.6"/><circle cx="210.2" cy="303.29" r="2.6"/><circle cx="210.2" cy="306.29" r="2.6"/><circle cx="210.2" cy="310.25" r="2.6"/><circle cx="210.2" cy="314.18" r="2.6"/><circle cx="210.2" cy="308.85" r="2.6"/><circle cx="210.2" cy="305.04" r="2.6"/><circle cx="210.2" cy="302.99" r="2.6"/><circle cx="210.2" cy="305.1" r="2.6"/><circle cx="210.2" cy="306.69" r="2.6"/><circle cx="210.2" cy="308.59" r="2.6"/><circle cx="210.2" cy="310.81" r="2.6"/><circle cx="210.2" cy="313.12" r="2.6"/><circle cx="210.2" cy="314.42" r="2.6"/>
</g>
<path d="M251.8,298.9 L251.8,299 L251.78,299.1 L251.76,299.2 L251.73,299.3 L251.7,299.4 L251.65,299.5 L251.6,299.6 L251.55,299.7 L251.49,299.8 L251.43,299.9 L251.36,300 L251.3,300.1 L251.22,300.2 L251.15,300.3 L251.08,300.4 L251,300.5 L250.92,300.6 L250.84,300.7 L250.75,300.8 L250.66,300.9 L250.55,301 L250.43,301.1 L250.29,301.2 L250.14,301.3 L249.96,301.4 L249.77,301.5 L249.55,301.6 L249.3,301.7 L248.86,301.8 L248.2,301.9 L247.55,302 L246.98,302.1 L246.41,302.2 L245.87,302.3 L245.4,302.4 L244.99,302.5 L244.6,302.6 L244.24,302.7 L243.91,302.8 L243.59,302.9 L243.3,303 L243.02,303.1 L242.76,303.2 L242.51,303.3 L242.28,303.4 L242.05,303.5 L241.83,303.6 L241.62,303.7 L241.41,303.8 L241.2,303.9 L241,304 L240.8,304.1 L240.6,304.2 L240.41,304.3 L240.22,304.4 L240.04,304.5 L239.86,304.6 L239.68,304.7 L239.51,304.8 L239.34,304.9 L239.18,305 L239.02,305.1 L238.87,305.2 L238.72,305.3 L238.57,305.4 L238.43,305.5 L238.28,305.6 L238.15,305.7 L238.01,305.8 L237.88,305.9 L237.74,306 L237.61,306.1 L237.47,306.2 L237.34,306.3 L237.21,306.4 L237.07,306.5 L236.93,306.6 L236.79,306.7 L236.66,306.8 L236.52,306.9 L236.38,307 L236.25,307.1 L236.11,307.2 L235.97,307.3 L235.84,307.4 L235.7,307.5 L235.56,307.6 L235.4,307.7 L235.24,307.8 L235.08,307.9 L234.93,308 L234.8,308.1 L234.68,308.2 L234.6,308.3 L234.53,308.4 L234.47,308.5 L234.41,308.6 L234.36,308.7 L234.32,308.8 L234.3,308.9 L234.3,309 L234.33,309.1 L234.38,309.2 L234.44,309.3 L234.52,309.4 L234.6,309.5 L234.74,309.6 L234.96,309.7 L235.22,309.8 L235.48,309.9 L235.72,310 L235.95,310.1 L236.18,310.2 L236.42,310.3 L236.67,310.4 L236.93,310.5 L237.19,310.6 L237.46,310.7 L237.73,310.8 L238.01,310.9 L238.3,311 L238.59,311.1 L238.9,311.2 L239.22,311.3 L239.56,311.4 L239.92,311.5 L240.28,311.6 L240.64,311.7 L241,311.8 L241.36,311.9 L241.73,312 L242.1,312.1 L242.48,312.2 L242.84,312.3 L243.2,312.4 L243.56,312.5 L243.92,312.6 L244.29,312.7 L244.64,312.8 L244.97,312.9 L245.26,313 L245.53,313.1 L245.78,313.2 L246.01,313.3 L246.23,313.4 L246.45,313.5 L246.65,313.6 L246.84,313.7 L247.03,313.8 L247.21,313.9 L247.38,314 L247.55,314.1 L247.71,314.2 L247.87,314.3 L248.02,314.4 L248.16,314.5 L248.31,314.6 L248.44,314.7 L248.58,314.8 L248.7,314.9 L248.83,315 L248.96,315.1 L249.08,315.2 L249.2,315.3 L249.32,315.4 L249.44,315.5 L249.56,315.6 L249.67,315.7 L249.79,315.8 L249.9,315.9 L250.01,316 L250.12,316.1 L250.23,316.2 L250.33,316.3 L250.44,316.4 L250.54,316.5 L250.64,316.6 L250.73,316.7 L250.82,316.8 L250.91,316.9 L251,317 L251.08,317.1 L251.17,317.2 L251.25,317.3 L251.32,317.4 L251.4,317.5 L251.47,317.6 L251.54,317.7 L251.61,317.8 L251.68,317.9 L251.74,318 L251.8,318.1 L251.8,318.1 L252.6,318.1 L252.6,318.1 L252.66,318 L252.72,317.9 L252.79,317.8 L252.86,317.7 L252.93,317.6 L253,317.5 L253.08,317.4 L253.15,317.3 L253.23,317.2 L253.32,317.1 L253.4,317 L253.49,316.9 L253.58,316.8 L253.67,316.7 L253.76,316.6 L253.86,316.5 L253.96,316.4 L254.07,316.3 L254.17,316.2 L254.28,316.1 L254.39,316 L254.5,315.9 L254.61,315.8 L254.73,315.7 L254.84,315.6 L254.96,315.5 L255.08,315.4 L255.2,315.3 L255.32,315.2 L255.44,315.1 L255.57,315 L255.7,314.9 L255.82,314.8 L255.96,314.7 L256.09,314.6 L256.24,314.5 L256.38,314.4 L256.53,314.3 L256.69,314.2 L256.85,314.1 L257.02,314 L257.19,313.9 L257.37,313.8 L257.56,313.7 L257.75,313.6 L257.95,313.5 L258.17,313.4 L258.39,313.3 L258.62,313.2 L258.87,313.1 L259.14,313 L259.43,312.9 L259.76,312.8 L260.11,312.7 L260.48,312.6 L260.84,312.5 L261.2,312.4 L261.56,312.3 L261.92,312.2 L262.3,312.1 L262.67,312 L263.04,311.9 L263.4,311.8 L263.76,311.7 L264.12,311.6 L264.48,311.5 L264.84,311.4 L265.18,311.3 L265.5,311.2 L265.81,311.1 L266.1,311 L266.39,310.9 L266.67,310.8 L266.94,310.7 L267.21,310.6 L267.47,310.5 L267.73,310.4 L267.98,310.3 L268.22,310.2 L268.45,310.1 L268.68,310 L268.92,309.9 L269.18,309.8 L269.44,309.7 L269.66,309.6 L269.8,309.5 L269.88,309.4 L269.96,309.3 L270.02,309.2 L270.07,309.1 L270.1,309 L270.1,308.9 L270.08,308.8 L270.04,308.7 L269.99,308.6 L269.93,308.5 L269.87,308.4 L269.8,308.3 L269.72,308.2 L269.6,308.1 L269.47,308 L269.32,307.9 L269.16,307.8 L269,307.7 L268.84,307.6 L268.7,307.5 L268.56,307.4 L268.43,307.3 L268.29,307.2 L268.15,307.1 L268.02,307 L267.88,306.9 L267.74,306.8 L267.61,306.7 L267.47,306.6 L267.33,306.5 L267.19,306.4 L267.06,306.3 L266.93,306.2 L266.79,306.1 L266.66,306 L266.52,305.9 L266.39,305.8 L266.25,305.7 L266.12,305.6 L265.97,305.5 L265.83,305.4 L265.68,305.3 L265.53,305.2 L265.38,305.1 L265.22,305 L265.06,304.9 L264.89,304.8 L264.72,304.7 L264.54,304.6 L264.36,304.5 L264.18,304.4 L263.99,304.3 L263.8,304.2 L263.6,304.1 L263.4,304 L263.2,303.9 L262.99,303.8 L262.78,303.7 L262.57,303.6 L262.35,303.5 L262.12,303.4 L261.89,303.3 L261.64,303.2 L261.38,303.1 L261.1,303 L260.81,302.9 L260.49,302.8 L260.16,302.7 L259.8,302.6 L259.41,302.5 L259,302.4 L258.53,302.3 L257.99,302.2 L257.42,302.1 L256.85,302 L256.2,301.9 L255.54,301.8 L255.1,301.7 L254.85,301.6 L254.63,301.5 L254.44,301.4 L254.26,301.3 L254.11,301.2 L253.97,301.1 L253.85,301 L253.74,300.9 L253.65,300.8 L253.56,300.7 L253.48,300.6 L253.4,300.5 L253.32,300.4 L253.25,300.3 L253.18,300.2 L253.1,300.1 L253.04,300 L252.97,299.9 L252.91,299.8 L252.85,299.7 L252.8,299.6 L252.75,299.5 L252.7,299.4 L252.67,299.3 L252.64,299.2 L252.62,299.1 L252.6,299 L252.6,298.9Z" fill="#00BA38" fill-opacity="0.7" stroke="#000" stroke-width="1.1" stroke-linejoin="round"/>
<line x1="252.2" x2="252.2" y1="298.9" y2="317.9" stroke="#000" stroke-width="1.0"/>
<rect x="249.1" y="306.1" width="6.2" height="4.4" fill="#00BA38" fill-opacity="0.7" stroke="#000" stroke-width="1.7"/>
<line x1="248.25" x2="256.15" y1="308.3" y2="308.3" stroke="#000" stroke-width="1.2"/>
<g fill="#000" fill-opacity="0.6">
<circle cx="252.2" cy="298.9" r="2.6"/><circle cx="252.2" cy="318.1" r="2.6"/><circle cx="252.2" cy="308.41" r="2.6"/><circle cx="252.2" cy="311.29" r="2.6"/><circle cx="252.2" cy="314.65" r="2.6"/><circle cx="252.2" cy="306.02" r="2.6"/><circle cx="252.2" cy="310.81" r="2.6"/><circle cx="252.2" cy="310.14" r="2.6"/><circle cx="252.2" cy="309.71" r="2.6"/><circle cx="252.2" cy="303.68" r="2.6"/><circle cx="252.2" cy="301.99" r="2.6"/><circle cx="252.2" cy="307.05" r="2.6"/><circle cx="252.2" cy="310.58" r="2.6"/><circle cx="252.2" cy="305.59" r="2.6"/><circle cx="252.2" cy="308.22" r="2.6"/><circle cx="252.2" cy="306.34" r="2.6"/><circle cx="252.2" cy="311.84" r="2.6"/><circle cx="252.2" cy="314.05" r="2.6"/><circle cx="252.2" cy="307.23" r="2.6"/><circle cx="252.2" cy="317.63" r="2.6"/><circle cx="252.2" cy="302.85" r="2.6"/><circle cx="252.2" cy="311.37" r="2.6"/><circle cx="252.2" cy="312.31" r="2.6"/><circle cx="252.2" cy="304.29" r="2.6"/><circle cx="252.2" cy="310.15" r="2.6"/><circle cx="252.2" cy="308.75" r="2.6"/><circle cx="252.2" cy="314.43" r="2.6"/><circle cx="252.2" cy="305.07" r="2.6"/><circle cx="252.2" cy="308.58" r="2.6"/><circle cx="252.2" cy="312.44" r="2.6"/><circle cx="252.2" cy="309.5" r="2.6"/><circle cx="252.2" cy="306.25" r="2.6"/><circle cx="252.2" cy="303.22" r="2.6"/><circle cx="252.2" cy="313.87" r="2.6"/><circle cx="252.2" cy="307.96" r="2.6"/><circle cx="252.2" cy="317.22" r="2.6"/><circle cx="252.2" cy="304.15" r="2.6"/><circle cx="252.2" cy="311.37" r="2.6"/><circle cx="252.2" cy="311.38" r="2.6"/><circle cx="252.2" cy="313.28" r="2.6"/><circle cx="252.2" cy="301.55" r="2.6"/><circle cx="252.2" cy="306.93" r="2.6"/><circle cx="252.2" cy="302.64" r="2.6"/><circle cx="252.2" cy="310.65" r="2.6"/><circle cx="252.2" cy="306.74" r="2.6"/><circle cx="252.2" cy="314.61" r="2.6"/><circle cx="252.2" cy="306.96" r="2.6"/><circle cx="252.2" cy="310.9" r="2.6"/><circle cx="252.2" cy="312.18" r="2.6"/><circle cx="252.2" cy="305.43" r="2.6"/><circle cx="252.2" cy="308.73" r="2.6"/><circle cx="252.2" cy="314.52" r="2.6"/><circle cx="252.2" cy="308.46" r="2.6"/><circle cx="252.2" cy="306.8" r="2.6"/><circle cx="252.2" cy="305.76" r="2.6"/><circle cx="252.2" cy="311.04" r="2.6"/><circle cx="252.2" cy="304.85" r="2.6"/><circle cx="252.2" cy="309.17" r="2.6"/><circle cx="252.2" cy="308.72" r="2.6"/><circle cx="252.2" cy="308.7" r="2.6"/><circle cx="252.2" cy="303.98" r="2.6"/><circle cx="252.2" cy="309.68" r="2.6"/><circle cx="252.2" cy="313.19" r="2.6"/><circle cx="252.2" cy="306.35" r="2.6"/><circle cx="252.2" cy="306.5" r="2.6"/><circle cx="252.2" cy="313.01" r="2.6"/><circle cx="252.2" cy="308.93" r="2.6"/><circle cx="252.2" cy="305.83" r="2.6"/><circle cx="252.2" cy="300.86" r="2.6"/><circle cx="252.2" cy="310.66" r="2.6"/><circle cx="252.2" cy="306.67" r="2.6"/><circle cx="252.2" cy="307.89" r="2.6"/><circle cx="252.2" cy="305.83" r="2.6"/><circle cx="252.2" cy="309.44" r="2.6"/><circle cx="252.2" cy="310.4" r="2.6"/><circle cx="252.2" cy="306.25" r="2.6"/><circle cx="252.2" cy="303.09" r="2.6"/><circle cx="252.2" cy="316.16" r="2.6"/><circle cx="252.2" cy="313.03" r="2.6"/><circle cx="252.2" cy="301.72" r="2.6"/><circle cx="252.2" cy="308.8" r="2.6"/><circle cx="252.2" cy="309.95" r="2.6"/><circle cx="252.2" cy="307.25" r="2.6"/><circle cx="252.2" cy="310.42" r="2.6"/><circle cx="252.2" cy="314.62" r="2.6"/><circle cx="252.2" cy="309.04" r="2.6"/><circle cx="252.2" cy="307.13" r="2.6"/><circle cx="252.2" cy="304.89" r="2.6"/><circle cx="252.2" cy="305.58" r="2.6"/><circle cx="252.2" cy="304.28" r="2.6"/><circle cx="252.2" cy="303.69" r="2.6"/><circle cx="252.2" cy="305.1" r="2.6"/><circle cx="252.2" cy="311.78" r="2.6"/><circle cx="252.2" cy="308.55" r="2.6"/><circle cx="252.2" cy="311.27" r="2.6"/><circle cx="252.2" cy="313.29" r="2.6"/><circle cx="252.2" cy="311.35" r="2.6"/><circle cx="252.2" cy="302.59" r="2.6"/><circle cx="252.2" cy="313.45" r="2.6"/><circle cx="252.2" cy="303.4" r="2.6"/><circle cx="252.2" cy="310.86" r="2.6"/><circle cx="252.2" cy="311.73" r="2.6"/><circle cx="252.2" cy="302.25" r="2.6"/><circle cx="252.2" cy="303.9" r="2.6"/><circle cx="252.2" cy="305.47" r="2.6"/><circle cx="252.2" cy="307.38" r="2.6"/><circle cx="252.2" cy="309.83" r="2.6"/><circle cx="252.2" cy="311.34" r="2.6"/><circle cx="252.2" cy="313.53" r="2.6"/>
</g>
<path d="M293.64,298.9 L293.64,299 L293.62,299.1 L293.6,299.2 L293.57,299.3 L293.54,299.4 L293.49,299.5 L293.44,299.6 L293.39,299.7 L293.33,299.8 L293.27,299.9 L293.2,300 L293.13,300.1 L293.05,300.2 L292.98,300.3 L292.9,300.4 L292.83,300.5 L292.75,300.6 L292.66,300.7 L292.57,300.8 L292.48,300.9 L292.37,301 L292.24,301.1 L292.1,301.2 L291.94,301.3 L291.77,301.4 L291.57,301.5 L291.34,301.6 L291.09,301.7 L290.64,301.8 L289.97,301.9 L289.31,302 L288.73,302.1 L288.15,302.2 L287.6,302.3 L287.12,302.4 L286.69,302.5 L286.3,302.6 L285.94,302.7 L285.59,302.8 L285.28,302.9 L284.98,303 L284.7,303.1 L284.43,303.2 L284.18,303.3 L283.93,303.4 L283.7,303.5 L283.48,303.6 L283.26,303.7 L283.05,303.8 L282.84,303.9 L282.63,304 L282.42,304.1 L282.22,304.2 L282.03,304.3 L281.84,304.4 L281.65,304.5 L281.47,304.6 L281.29,304.7 L281.11,304.8 L280.94,304.9 L280.78,305 L280.61,305.1 L280.46,305.2 L280.3,305.3 L280.15,305.4 L280.01,305.5 L279.86,305.6 L279.72,305.7 L279.58,305.8 L279.45,305.9 L279.31,306 L279.17,306.1 L279.04,306.2 L278.9,306.3 L278.76,306.4 L278.62,306.5 L278.48,306.6 L278.34,306.7 L278.2,306.8 L278.06,306.9 L277.92,307 L277.79,307.1 L277.65,307.2 L277.51,307.3 L277.37,307.4 L277.23,307.5 L277.08,307.6 L276.92,307.7 L276.76,307.8 L276.6,307.9 L276.45,308 L276.31,308.1 L276.19,308.2 L276.11,308.3 L276.04,308.4 L275.97,308.5 L275.91,308.6 L275.86,308.7 L275.82,308.8 L275.8,308.9 L275.81,309 L275.83,309.1 L275.88,309.2 L275.94,309.3 L276.02,309.4 L276.11,309.5 L276.25,309.6 L276.47,309.7 L276.74,309.8 L277,309.9 L277.24,310 L277.48,310.1 L277.72,310.2 L277.97,310.3 L278.22,310.4 L278.48,310.5 L278.75,310.6 L279.02,310.7 L279.3,310.8 L279.58,310.9 L279.88,311 L280.18,311.1 L280.49,311.2 L280.82,311.3 L281.17,311.4 L281.53,311.5 L281.89,311.6 L282.26,311.7 L282.63,311.8 L283,311.9 L283.38,312 L283.76,312.1 L284.14,312.2 L284.51,312.3 L284.87,312.4 L285.24,312.5 L285.61,312.6 L285.98,312.7 L286.34,312.8 L286.67,312.9 L286.98,313 L287.25,313.1 L287.5,313.2 L287.74,313.3 L287.97,313.4 L288.18,313.5 L288.39,313.6 L288.59,313.7 L288.78,313.8 L288.96,313.9 L289.14,314 L289.31,314.1 L289.47,314.2 L289.63,314.3 L289.79,314.4 L289.94,314.5 L290.08,314.6 L290.22,314.7 L290.35,314.8 L290.49,314.9 L290.62,315 L290.74,315.1 L290.87,315.2 L290.99,315.3 L291.11,315.4 L291.24,315.5 L291.35,315.6 L291.47,315.7 L291.59,315.8 L291.71,315.9 L291.82,316 L291.93,316.1 L292.04,316.2 L292.15,316.3 L292.25,316.4 L292.36,316.5 L292.46,316.6 L292.55,316.7 L292.65,316.8 L292.74,316.9 L292.83,317 L292.91,317.1 L293,317.2 L293.08,317.3 L293.16,317.4 L293.23,317.5 L293.31,317.6 L293.38,317.7 L293.45,317.8 L293.52,317.9 L293.58,318 L293.64,318.1 L293.64,318.1 L294.46,318.1 L294.46,318.1 L294.52,318 L294.58,317.9 L294.65,317.8 L294.72,317.7 L294.79,317.6 L294.87,317.5 L294.94,317.4 L295.02,317.3 L295.1,317.2 L295.19,317.1 L295.27,317 L295.36,316.9 L295.45,316.8 L295.55,316.7 L295.64,316.6 L295.74,316.5 L295.85,316.4 L295.95,316.3 L296.06,316.2 L296.17,316.1 L296.28,316 L296.39,315.9 L296.51,315.8 L296.63,315.7 L296.75,315.6 L296.86,315.5 L296.99,315.4 L297.11,315.3 L297.23,315.2 L297.36,315.1 L297.48,315 L297.61,314.9 L297.75,314.8 L297.88,314.7 L298.02,314.6 L298.16,314.5 L298.31,314.4 L298.47,314.3 L298.63,314.2 L298.79,314.1 L298.96,314 L299.14,313.9 L299.32,313.8 L299.51,313.7 L299.71,313.6 L299.92,313.5 L300.13,313.4 L300.36,313.3 L300.6,313.2 L300.85,313.1 L301.12,313 L301.43,312.9 L301.76,312.8 L302.12,312.7 L302.49,312.6 L302.86,312.5 L303.23,312.4 L303.59,312.3 L303.96,312.2 L304.34,312.1 L304.72,312 L305.1,311.9 L305.47,311.8 L305.84,311.7 L306.21,311.6 L306.57,311.5 L306.93,311.4 L307.28,311.3 L307.61,311.2 L307.92,311.1 L308.22,311 L308.52,310.9 L308.8,310.8 L309.08,310.7 L309.35,310.6 L309.62,310.5 L309.88,310.4 L310.13,310.3 L310.38,310.2 L310.62,310.1 L310.86,310 L311.1,309.9 L311.36,309.8 L311.63,309.7 L311.85,309.6 L311.99,309.5 L312.08,309.4 L312.16,309.3 L312.22,309.2 L312.27,309.1 L312.29,309 L312.3,308.9 L312.28,308.8 L312.24,308.7 L312.19,308.6 L312.13,308.5 L312.06,308.4 L311.99,308.3 L311.91,308.2 L311.79,308.1 L311.65,308 L311.5,307.9 L311.34,307.8 L311.18,307.7 L311.02,307.6 L310.87,307.5 L310.73,307.4 L310.59,307.3 L310.45,307.2 L310.31,307.1 L310.18,307 L310.04,306.9 L309.9,306.8 L309.76,306.7 L309.62,306.6 L309.48,306.5 L309.34,306.4 L309.2,306.3 L309.06,306.2 L308.93,306.1 L308.79,306 L308.65,305.9 L308.52,305.8 L308.38,305.7 L308.24,305.6 L308.09,305.5 L307.95,305.4 L307.8,305.3 L307.64,305.2 L307.49,305.1 L307.32,305 L307.16,304.9 L306.99,304.8 L306.81,304.7 L306.63,304.6 L306.45,304.5 L306.26,304.4 L306.07,304.3 L305.88,304.2 L305.68,304.1 L305.47,304 L305.26,303.9 L305.05,303.8 L304.84,303.7 L304.62,303.6 L304.4,303.5 L304.17,303.4 L303.92,303.3 L303.67,303.2 L303.4,303.1 L303.12,303 L302.82,302.9 L302.51,302.8 L302.16,302.7 L301.8,302.6 L301.41,302.5 L300.98,302.4 L300.5,302.3 L299.95,302.2 L299.37,302.1 L298.79,302 L298.13,301.9 L297.46,301.8 L297.01,301.7 L296.76,301.6 L296.53,301.5 L296.33,301.4 L296.16,301.3 L296,301.2 L295.86,301.1 L295.73,301 L295.62,300.9 L295.53,300.8 L295.44,300.7 L295.35,300.6 L295.27,300.5 L295.2,300.4 L295.12,300.3 L295.05,300.2 L294.97,300.1 L294.9,300 L294.83,299.9 L294.77,299.8 L294.71,299.7 L294.66,299.6 L294.61,299.5 L294.56,299.4 L294.53,299.3 L294.5,299.2 L294.48,299.1 L294.46,299 L294.46,298.9Z" fill="#619CFF" fill-opacity="0.7" stroke="#000" stroke-width="1.1" stroke-linejoin="round"/>
<line x1="294.05" x2="294.05" y1="298.9" y2="317.9" stroke="#000" stroke-width="1.0"/>
<rect x="290.95" y="306.1" width="6.2" height="4.4" fill="#619CFF" fill-opacity="0.7" stroke="#000" stroke-width="1.7"/>
<line x1="290.1" x2="298" y1="308.3" y2="308.3" stroke="#000" stroke-width="1.2"/>
<g fill="#000" fill-opacity="0.6">
<circle cx="294.05" cy="298.9" r="2.6"/><circle cx="294.05" cy="318.1" r="2.6"/><circle cx="294.05" cy="304.7" r="2.6"/><circle cx="294.05" cy="309.71" r="2.6"/><circle cx="294.05" cy="306.53" r="2.6"/><circle cx="294.05" cy="304.92" r="2.6"/><circle cx="294.05" cy="308.1" r="2.6"/><circle cx="294.05" cy="308.15" r="2.6"/><circle cx="294.05" cy="308.01" r="2.6"/><circle cx="294.05" cy="307.8" r="2.6"/><circle cx="294.05" cy="305.73" r="2.6"/><circle cx="294.05" cy="305.61" r="2.6"/><circle cx="294.05" cy="310.01" r="2.6"/><circle cx="294.05" cy="306.41" r="2.6"/><circle cx="294.05" cy="309.84" r="2.6"/><circle cx="294.05" cy="311.05" r="2.6"/><circle cx="294.05" cy="312.15" r="2.6"/><circle cx="294.05" cy="314.01" r="2.6"/><circle cx="294.05" cy="305.37" r="2.6"/><circle cx="294.05" cy="305.41" r="2.6"/><circle cx="294.05" cy="310.46" r="2.6"/><circle cx="294.05" cy="308.91" r="2.6"/><circle cx="294.05" cy="304.97" r="2.6"/><circle cx="294.05" cy="309.87" r="2.6"/><circle cx="294.05" cy="312.28" r="2.6"/><circle cx="294.05" cy="311.69" r="2.6"/><circle cx="294.05" cy="305.15" r="2.6"/><circle cx="294.05" cy="306.13" r="2.6"/><circle cx="294.05" cy="300.48" r="2.6"/><circle cx="294.05" cy="315.4" r="2.6"/><circle cx="294.05" cy="305.2" r="2.6"/><circle cx="294.05" cy="310.38" r="2.6"/><circle cx="294.05" cy="308.56" r="2.6"/><circle cx="294.05" cy="309.07" r="2.6"/><circle cx="294.05" cy="308.45" r="2.6"/><circle cx="294.05" cy="311.54" r="2.6"/><circle cx="294.05" cy="309.13" r="2.6"/><circle cx="294.05" cy="306.18" r="2.6"/><circle cx="294.05" cy="303.76" r="2.6"/><circle cx="294.05" cy="307.99" r="2.6"/><circle cx="294.05" cy="313.36" r="2.6"/><circle cx="294.05" cy="304.21" r="2.6"/><circle cx="294.05" cy="309.93" r="2.6"/><circle cx="294.05" cy="309.42" r="2.6"/><circle cx="294.05" cy="304.42" r="2.6"/><circle cx="294.05" cy="305.03" r="2.6"/><circle cx="294.05" cy="309.95" r="2.6"/><circle cx="294.05" cy="307.59" r="2.6"/><circle cx="294.05" cy="307.29" r="2.6"/><circle cx="294.05" cy="308.02" r="2.6"/><circle cx="294.05" cy="303.54" r="2.6"/><circle cx="294.05" cy="310.14" r="2.6"/><circle cx="294.05" cy="309.03" r="2.6"/><circle cx="294.05" cy="308.52" r="2.6"/><circle cx="294.05" cy="306.58" r="2.6"/><circle cx="294.05" cy="311.36" r="2.6"/><circle cx="294.05" cy="311.52" r="2.6"/><circle cx="294.05" cy="308.62" r="2.6"/><circle cx="294.05" cy="303.33" r="2.6"/><circle cx="294.05" cy="304.24" r="2.6"/><circle cx="294.05" cy="304.3" r="2.6"/><circle cx="294.05" cy="303.16" r="2.6"/><circle cx="294.05" cy="309.59" r="2.6"/><circle cx="294.05" cy="308.61" r="2.6"/><circle cx="294.05" cy="304.99" r="2.6"/><circle cx="294.05" cy="313.04" r="2.6"/><circle cx="294.05" cy="309.41" r="2.6"/><circle cx="294.05" cy="311.11" r="2.6"/><circle cx="294.05" cy="311.44" r="2.6"/><circle cx="294.05" cy="309.91" r="2.6"/><circle cx="294.05" cy="308.45" r="2.6"/><circle cx="294.05" cy="316" r="2.6"/><circle cx="294.05" cy="304.03" r="2.6"/><circle cx="294.05" cy="309.98" r="2.6"/><circle cx="294.05" cy="312.48" r="2.6"/><circle cx="294.05" cy="308" r="2.6"/><circle cx="294.05" cy="311.43" r="2.6"/><circle cx="294.05" cy="304.7" r="2.6"/><circle cx="294.05" cy="307.38" r="2.6"/><circle cx="294.05" cy="305.81" r="2.6"/><circle cx="294.05" cy="307.19" r="2.6"/><circle cx="294.05" cy="310.11" r="2.6"/><circle cx="294.05" cy="304.18" r="2.6"/><circle cx="294.05" cy="306.57" r="2.6"/><circle cx="294.05" cy="311.84" r="2.6"/><circle cx="294.05" cy="306.16" r="2.6"/><circle cx="294.05" cy="303.93" r="2.6"/><circle cx="294.05" cy="316.93" r="2.6"/><circle cx="294.05" cy="308.59" r="2.6"/><circle cx="294.05" cy="301.56" r="2.6"/><circle cx="294.05" cy="308.87" r="2.6"/><circle cx="294.05" cy="304.22" r="2.6"/><circle cx="294.05" cy="304.45" r="2.6"/><circle cx="294.05" cy="310.5" r="2.6"/><circle cx="294.05" cy="309.62" r="2.6"/><circle cx="294.05" cy="307.49" r="2.6"/><circle cx="294.05" cy="308.34" r="2.6"/><circle cx="294.05" cy="308.75" r="2.6"/><circle cx="294.05" cy="307.81" r="2.6"/><circle cx="294.05" cy="303.54" r="2.6"/><circle cx="294.05" cy="310.83" r="2.6"/><circle cx="294.05" cy="310.85" r="2.6"/><circle cx="294.05" cy="302.02" r="2.6"/><circle cx="294.05" cy="303.9" r="2.6"/><circle cx="294.05" cy="306.01" r="2.6"/><circle cx="294.05" cy="307.77" r="2.6"/><circle cx="294.05" cy="309.61" r="2.6"/><circle cx="294.05" cy="311.97" r="2.6"/><circle cx="294.05" cy="313.9" r="2.6"/>
</g>
<path d="M28.8,289.2 V496.4 H336" fill="none" stroke="#1c1c1c" stroke-width="1.1" stroke-linejoin="round"/>
<line x1="26.1" x2="28.3" y1="332.9" y2="332.9" stroke="#333" stroke-width="0.85"/>
<line x1="26.1" x2="28.3" y1="390.2" y2="390.2" stroke="#333" stroke-width="0.85"/>
<line x1="26.1" x2="28.3" y1="447.5" y2="447.5" stroke="#333" stroke-width="0.85"/>
<line x1="112.5" x2="112.5" y1="496.9" y2="499.1" stroke="#333" stroke-width="0.85"/>
<line x1="252.2" x2="252.2" y1="496.9" y2="499.1" stroke="#333" stroke-width="0.85"/>
<line x1="531.4" x2="531.4" y1="291.7" y2="496.4" stroke="#FF0000" stroke-width="1" stroke-dasharray="3.67,3.263" />
<path d="M417.7,298.5 L417.73,299 L417.76,299.5 L417.79,300 L417.82,300.5 L417.85,301 L417.89,301.5 L417.92,302 L417.96,302.5 L418,303 L418.04,303.5 L418.09,304 L418.13,304.5 L418.18,305 L418.23,305.5 L418.27,306 L418.32,306.5 L418.36,307 L418.4,307.5 L418.44,308 L418.48,308.5 L418.53,309 L418.57,309.5 L418.61,310 L418.65,310.5 L418.69,311 L418.73,311.5 L418.76,312 L418.8,312.5 L418.83,313 L418.86,313.5 L418.88,314 L418.9,314.5 L418.92,315 L418.94,315.5 L418.96,316 L418.98,316.5 L419,317 L419.02,317.5 L419.04,318 L419.05,318.5 L419.07,319 L419.09,319.5 L419.11,320 L419.13,320.5 L419.15,321 L419.17,321.5 L419.19,322 L419.2,322.5 L419.22,323 L419.24,323.5 L419.26,324 L419.28,324.5 L419.3,325 L419.32,325.5 L419.35,326 L419.37,326.5 L419.4,327 L419.43,327.5 L419.45,328 L419.48,328.5 L419.51,329 L419.53,329.5 L419.55,330 L419.57,330.5 L419.58,331 L419.59,331.5 L419.6,332 L419.6,332.5 L419.6,333 L419.61,333.5 L419.61,334 L419.61,334.5 L419.61,335 L419.61,335.5 L419.61,336 L419.62,336.5 L419.62,337 L419.62,337.5 L419.62,338 L419.62,338.5 L419.62,339 L419.62,339.5 L419.62,340 L419.62,340.5 L419.62,341 L419.62,341.5 L419.62,342 L419.62,342.5 L419.62,343 L419.62,343.5 L419.62,344 L419.62,344.5 L419.62,345 L419.62,345.5 L419.62,346 L419.62,346.5 L419.62,347 L419.62,347.5 L419.62,348 L419.62,348.5 L419.62,349 L419.62,349.5 L419.62,350 L419.62,350.5 L419.62,351 L419.62,351.5 L419.62,352 L419.62,352.5 L419.62,353 L419.62,353.5 L419.62,354 L419.62,354.5 L419.62,355 L419.62,355.5 L419.62,356 L419.62,356.5 L419.62,357 L419.62,357.5 L419.62,358 L419.62,358.5 L419.62,359 L419.62,359.5 L419.62,360 L419.62,360.5 L419.62,361 L419.62,361.5 L419.62,362 L419.62,362.5 L419.62,363 L419.62,363.5 L419.62,364 L419.62,364.5 L419.62,365 L419.62,365.5 L419.62,366 L419.62,366.5 L419.62,367 L419.62,367.5 L419.62,368 L419.62,368.5 L419.62,369 L419.62,369.5 L419.62,370 L419.62,370.5 L419.62,371 L419.62,371.5 L419.62,372 L419.62,372.5 L419.62,373 L419.62,373.5 L419.62,374 L419.62,374.5 L419.62,375 L419.62,375.5 L419.62,376 L419.62,376.5 L419.62,377 L419.62,377.5 L419.62,378 L419.62,378.5 L419.62,379 L419.62,379.5 L419.62,380 L419.62,380.5 L419.62,381 L419.62,381.5 L419.62,382 L419.62,382.5 L419.62,383 L419.62,383.5 L419.62,384 L419.62,384.5 L419.62,385 L419.62,385.5 L419.62,386 L419.62,386.5 L419.62,387 L419.62,387.5 L419.62,388 L419.62,388.5 L419.62,389 L419.62,389.5 L419.62,390 L419.62,390.5 L419.62,391 L419.62,391.5 L419.62,392 L419.62,392.5 L419.62,393 L419.62,393.5 L419.62,394 L419.62,394.5 L419.62,395 L419.62,395.5 L419.62,396 L419.62,396.5 L419.62,397 L419.62,397.5 L419.62,398 L419.62,398.5 L419.62,399 L419.62,399.5 L419.62,400 L419.62,400.5 L419.62,401 L419.62,401.5 L419.62,402 L419.62,402.5 L419.62,403 L419.62,403.5 L419.62,404 L419.62,404.5 L419.62,405 L419.62,405.5 L419.62,406 L419.62,406.5 L419.62,407 L419.62,407.5 L419.62,408 L419.62,408.5 L419.62,409 L419.62,409.5 L419.62,410 L419.62,410.5 L419.62,411 L419.62,411.5 L419.62,412 L419.62,412.5 L419.62,413 L419.62,413.5 L419.62,414 L419.62,414.5 L419.62,415 L419.62,415.5 L419.62,416 L419.62,416.5 L419.62,417 L419.62,417.5 L419.62,418 L419.62,418.5 L419.62,419 L419.62,419.5 L419.62,420 L419.62,420.5 L419.62,421 L419.61,421.5 L419.61,422 L419.6,422.5 L419.6,423 L419.59,423.5 L419.58,424 L419.57,424.5 L419.56,425 L419.55,425.5 L419.54,426 L419.53,426.5 L419.52,427 L419.51,427.5 L419.5,428 L419.49,428.5 L419.47,429 L419.46,429.5 L419.44,430 L419.42,430.5 L419.4,431 L419.38,431.5 L419.36,432 L419.33,432.5 L419.31,433 L419.28,433.5 L419.26,434 L419.23,434.5 L419.2,435 L419.17,435.5 L419.14,436 L419.1,436.5 L419.06,437 L419.02,437.5 L418.98,438 L418.93,438.5 L418.89,439 L418.84,439.5 L418.79,440 L418.73,440.5 L418.68,441 L418.62,441.5 L418.56,442 L418.5,442.5 L418.43,443 L418.36,443.5 L418.28,444 L418.2,444.5 L418.12,445 L418.03,445.5 L417.94,446 L417.84,446.5 L417.74,447 L417.62,447.5 L417.49,448 L417.35,448.5 L417.2,449 L417.05,449.5 L416.88,450 L416.71,450.5 L416.54,451 L416.36,451.5 L416.18,452 L416,452.5 L415.82,453 L415.62,453.5 L415.42,454 L415.21,454.5 L415,455 L414.78,455.5 L414.56,456 L414.33,456.5 L414.1,457 L413.87,457.5 L413.64,458 L413.4,458.5 L413.17,459 L412.92,459.5 L412.67,460 L412.42,460.5 L412.17,461 L411.91,461.5 L411.65,462 L411.39,462.5 L411.13,463 L410.87,463.5 L410.6,464 L410.34,464.5 L410.08,465 L409.81,465.5 L409.54,466 L409.26,466.5 L408.99,467 L408.72,467.5 L408.45,468 L408.18,468.5 L407.91,469 L407.65,469.5 L407.4,470 L407.15,470.5 L406.9,471 L406.64,471.5 L406.39,472 L406.14,472.5 L405.9,473 L405.66,473.5 L405.42,474 L405.2,474.5 L404.98,475 L404.76,475.5 L404.56,476 L404.36,476.5 L404.16,477 L403.96,477.5 L403.77,478 L403.58,478.5 L403.4,479 L403.23,479.5 L403.06,480 L402.91,480.5 L402.77,481 L402.65,481.5 L402.53,482 L402.42,482.5 L402.32,483 L402.23,483.5 L402.14,484 L402.07,484.5 L402.02,485 L401.98,485.5 L401.94,486 L401.92,486.5 L401.9,487 L401.9,487.2 L437.5,487.2 L437.5,487 L437.48,486.5 L437.46,486 L437.42,485.5 L437.38,485 L437.33,484.5 L437.26,484 L437.17,483.5 L437.08,483 L436.98,482.5 L436.87,482 L436.75,481.5 L436.63,481 L436.49,480.5 L436.34,480 L436.17,479.5 L436,479 L435.82,478.5 L435.63,478 L435.44,477.5 L435.24,477 L435.04,476.5 L434.84,476 L434.64,475.5 L434.42,475 L434.2,474.5 L433.98,474 L433.74,473.5 L433.5,473 L433.26,472.5 L433.01,472 L432.76,471.5 L432.5,471 L432.25,470.5 L432,470 L431.75,469.5 L431.49,469 L431.22,468.5 L430.95,468 L430.68,467.5 L430.41,467 L430.14,466.5 L429.86,466 L429.59,465.5 L429.32,465 L429.06,464.5 L428.8,464 L428.53,463.5 L428.27,463 L428.01,462.5 L427.75,462 L427.49,461.5 L427.23,461 L426.98,460.5 L426.73,460 L426.48,459.5 L426.23,459 L426,458.5 L425.76,458 L425.53,457.5 L425.3,457 L425.07,456.5 L424.84,456 L424.62,455.5 L424.4,455 L424.19,454.5 L423.98,454 L423.78,453.5 L423.58,453 L423.4,452.5 L423.22,452 L423.04,451.5 L422.86,451 L422.69,450.5 L422.52,450 L422.35,449.5 L422.2,449 L422.05,448.5 L421.91,448 L421.78,447.5 L421.66,447 L421.56,446.5 L421.46,446 L421.37,445.5 L421.28,445 L421.2,444.5 L421.12,444 L421.04,443.5 L420.97,443 L420.9,442.5 L420.84,442 L420.78,441.5 L420.72,441 L420.67,440.5 L420.61,440 L420.56,439.5 L420.51,439 L420.47,438.5 L420.42,438 L420.38,437.5 L420.34,437 L420.3,436.5 L420.26,436 L420.23,435.5 L420.2,435 L420.17,434.5 L420.14,434 L420.12,433.5 L420.09,433 L420.07,432.5 L420.04,432 L420.02,431.5 L420,431 L419.98,430.5 L419.96,430 L419.94,429.5 L419.93,429 L419.91,428.5 L419.9,428 L419.89,427.5 L419.88,427 L419.87,426.5 L419.86,426 L419.85,425.5 L419.84,425 L419.83,424.5 L419.82,424 L419.81,423.5 L419.8,423 L419.8,422.5 L419.79,422 L419.79,421.5 L419.78,421 L419.78,420.5 L419.78,420 L419.78,419.5 L419.78,419 L419.78,418.5 L419.78,418 L419.78,417.5 L419.78,417 L419.78,416.5 L419.78,416 L419.78,415.5 L419.78,415 L419.78,414.5 L419.78,414 L419.78,413.5 L419.78,413 L419.78,412.5 L419.78,412 L419.78,411.5 L419.78,411 L419.78,410.5 L419.78,410 L419.78,409.5 L419.78,409 L419.78,408.5 L419.78,408 L419.78,407.5 L419.78,407 L419.78,406.5 L419.78,406 L419.78,405.5 L419.78,405 L419.78,404.5 L419.78,404 L419.78,403.5 L419.78,403 L419.78,402.5 L419.78,402 L419.78,401.5 L419.78,401 L419.78,400.5 L419.78,400 L419.78,399.5 L419.78,399 L419.78,398.5 L419.78,398 L419.78,397.5 L419.78,397 L419.78,396.5 L419.78,396 L419.78,395.5 L419.78,395 L419.78,394.5 L419.78,394 L419.78,393.5 L419.78,393 L419.78,392.5 L419.78,392 L419.78,391.5 L419.78,391 L419.78,390.5 L419.78,390 L419.78,389.5 L419.78,389 L419.78,388.5 L419.78,388 L419.78,387.5 L419.78,387 L419.78,386.5 L419.78,386 L419.78,385.5 L419.78,385 L419.78,384.5 L419.78,384 L419.78,383.5 L419.78,383 L419.78,382.5 L419.78,382 L419.78,381.5 L419.78,381 L419.78,380.5 L419.78,380 L419.78,379.5 L419.78,379 L419.78,378.5 L419.78,378 L419.78,377.5 L419.78,377 L419.78,376.5 L419.78,376 L419.78,375.5 L419.78,375 L419.78,374.5 L419.78,374 L419.78,373.5 L419.78,373 L419.78,372.5 L419.78,372 L419.78,371.5 L419.78,371 L419.78,370.5 L419.78,370 L419.78,369.5 L419.78,369 L419.78,368.5 L419.78,368 L419.78,367.5 L419.78,367 L419.78,366.5 L419.78,366 L419.78,365.5 L419.78,365 L419.78,364.5 L419.78,364 L419.78,363.5 L419.78,363 L419.78,362.5 L419.78,362 L419.78,361.5 L419.78,361 L419.78,360.5 L419.78,360 L419.78,359.5 L419.78,359 L419.78,358.5 L419.78,358 L419.78,357.5 L419.78,357 L419.78,356.5 L419.78,356 L419.78,355.5 L419.78,355 L419.78,354.5 L419.78,354 L419.78,353.5 L419.78,353 L419.78,352.5 L419.78,352 L419.78,351.5 L419.78,351 L419.78,350.5 L419.78,350 L419.78,349.5 L419.78,349 L419.78,348.5 L419.78,348 L419.78,347.5 L419.78,347 L419.78,346.5 L419.78,346 L419.78,345.5 L419.78,345 L419.78,344.5 L419.78,344 L419.78,343.5 L419.78,343 L419.78,342.5 L419.78,342 L419.78,341.5 L419.78,341 L419.78,340.5 L419.78,340 L419.78,339.5 L419.78,339 L419.78,338.5 L419.78,338 L419.78,337.5 L419.78,337 L419.78,336.5 L419.79,336 L419.79,335.5 L419.79,335 L419.79,334.5 L419.79,334 L419.79,333.5 L419.8,333 L419.8,332.5 L419.8,332 L419.81,331.5 L419.82,331 L419.83,330.5 L419.85,330 L419.87,329.5 L419.89,329 L419.92,328.5 L419.95,328 L419.97,327.5 L420,327 L420.03,326.5 L420.05,326 L420.08,325.5 L420.1,325 L420.12,324.5 L420.14,324 L420.16,323.5 L420.18,323 L420.2,322.5 L420.21,322 L420.23,321.5 L420.25,321 L420.27,320.5 L420.29,320 L420.31,319.5 L420.33,319 L420.35,318.5 L420.36,318 L420.38,317.5 L420.4,317 L420.42,316.5 L420.44,316 L420.46,315.5 L420.48,315 L420.5,314.5 L420.52,314 L420.54,313.5 L420.57,313 L420.6,312.5 L420.64,312 L420.67,311.5 L420.71,311 L420.75,310.5 L420.79,310 L420.83,309.5 L420.87,309 L420.92,308.5 L420.96,308 L421,307.5 L421.04,307 L421.08,306.5 L421.13,306 L421.17,305.5 L421.22,305 L421.27,304.5 L421.31,304 L421.36,303.5 L421.4,303 L421.44,302.5 L421.48,302 L421.51,301.5 L421.55,301 L421.58,300.5 L421.61,300 L421.64,299.5 L421.67,299 L421.7,298.5Z" fill="#F8766D" fill-opacity="0.7" stroke="#000" stroke-width="1.1" stroke-linejoin="round"/>
<circle cx="419.7" cy="298.5" r="2.65" fill="#000"/>
<circle cx="419.7" cy="487.2" r="2.65" fill="#000"/>
<path d="M460.2,298.5 L460.22,299 L460.25,299.5 L460.27,300 L460.29,300.5 L460.32,301 L460.34,301.5 L460.36,302 L460.39,302.5 L460.42,303 L460.44,303.5 L460.47,304 L460.5,304.5 L460.52,305 L460.55,305.5 L460.58,306 L460.6,306.5 L460.63,307 L460.65,307.5 L460.67,308 L460.7,308.5 L460.72,309 L460.74,309.5 L460.76,310 L460.78,310.5 L460.8,311 L460.83,311.5 L460.85,312 L460.87,312.5 L460.88,313 L460.9,313.5 L460.92,314 L460.94,314.5 L460.96,315 L460.97,315.5 L460.99,316 L461.01,316.5 L461.02,317 L461.04,317.5 L461.06,318 L461.07,318.5 L461.09,319 L461.11,319.5 L461.13,320 L461.16,320.5 L461.18,321 L461.2,321.5 L461.23,322 L461.25,322.5 L461.27,323 L461.3,323.5 L461.32,324 L461.33,324.5 L461.35,325 L461.36,325.5 L461.38,326 L461.39,326.5 L461.41,327 L461.42,327.5 L461.43,328 L461.45,328.5 L461.46,329 L461.47,329.5 L461.48,330 L461.49,330.5 L461.49,331 L461.5,331.5 L461.5,332 L461.5,332.5 L461.5,333 L461.51,333.5 L461.51,334 L461.51,334.5 L461.51,335 L461.51,335.5 L461.51,336 L461.52,336.5 L461.52,337 L461.52,337.5 L461.52,338 L461.52,338.5 L461.52,339 L461.52,339.5 L461.52,340 L461.52,340.5 L461.52,341 L461.52,341.5 L461.52,342 L461.52,342.5 L461.52,343 L461.52,343.5 L461.52,344 L461.52,344.5 L461.52,345 L461.52,345.5 L461.52,346 L461.52,346.5 L461.52,347 L461.52,347.5 L461.52,348 L461.52,348.5 L461.52,349 L461.52,349.5 L461.52,350 L461.52,350.5 L461.52,351 L461.52,351.5 L461.52,352 L461.52,352.5 L461.52,353 L461.52,353.5 L461.52,354 L461.52,354.5 L461.52,355 L461.52,355.5 L461.52,356 L461.52,356.5 L461.52,357 L461.52,357.5 L461.52,358 L461.52,358.5 L461.52,359 L461.52,359.5 L461.52,360 L461.52,360.5 L461.52,361 L461.52,361.5 L461.52,362 L461.52,362.5 L461.52,363 L461.52,363.5 L461.52,364 L461.52,364.5 L461.52,365 L461.52,365.5 L461.52,366 L461.52,366.5 L461.52,367 L461.52,367.5 L461.52,368 L461.52,368.5 L461.52,369 L461.52,369.5 L461.52,370 L461.52,370.5 L461.52,371 L461.52,371.5 L461.52,372 L461.52,372.5 L461.52,373 L461.52,373.5 L461.52,374 L461.52,374.5 L461.52,375 L461.52,375.5 L461.52,376 L461.52,376.5 L461.52,377 L461.52,377.5 L461.52,378 L461.52,378.5 L461.52,379 L461.52,379.5 L461.52,380 L461.52,380.5 L461.52,381 L461.52,381.5 L461.52,382 L461.52,382.5 L461.52,383 L461.52,383.5 L461.52,384 L461.52,384.5 L461.52,385 L461.52,385.5 L461.52,386 L461.52,386.5 L461.52,387 L461.52,387.5 L461.52,388 L461.52,388.5 L461.52,389 L461.52,389.5 L461.52,390 L461.52,390.5 L461.52,391 L461.52,391.5 L461.52,392 L461.52,392.5 L461.52,393 L461.52,393.5 L461.52,394 L461.52,394.5 L461.52,395 L461.52,395.5 L461.52,396 L461.52,396.5 L461.52,397 L461.52,397.5 L461.52,398 L461.52,398.5 L461.52,399 L461.52,399.5 L461.52,400 L461.52,400.5 L461.52,401 L461.52,401.5 L461.52,402 L461.52,402.5 L461.52,403 L461.52,403.5 L461.52,404 L461.52,404.5 L461.52,405 L461.52,405.5 L461.52,406 L461.52,406.5 L461.52,407 L461.52,407.5 L461.52,408 L461.52,408.5 L461.52,409 L461.52,409.5 L461.52,410 L461.52,410.5 L461.52,411 L461.52,411.5 L461.52,412 L461.52,412.5 L461.52,413 L461.52,413.5 L461.52,414 L461.52,414.5 L461.52,415 L461.52,415.5 L461.52,416 L461.52,416.5 L461.52,417 L461.52,417.5 L461.52,418 L461.52,418.5 L461.52,419 L461.52,419.5 L461.52,420 L461.52,420.5 L461.52,421 L461.51,421.5 L461.51,422 L461.5,422.5 L461.5,423 L461.49,423.5 L461.48,424 L461.47,424.5 L461.46,425 L461.45,425.5 L461.44,426 L461.43,426.5 L461.42,427 L461.41,427.5 L461.4,428 L461.39,428.5 L461.37,429 L461.36,429.5 L461.34,430 L461.32,430.5 L461.29,431 L461.27,431.5 L461.25,432 L461.22,432.5 L461.2,433 L461.17,433.5 L461.15,434 L461.12,434.5 L461.1,435 L461.08,435.5 L461.05,436 L461.03,436.5 L461,437 L460.98,437.5 L460.95,438 L460.93,438.5 L460.9,439 L460.87,439.5 L460.85,440 L460.82,440.5 L460.79,441 L460.76,441.5 L460.73,442 L460.71,442.5 L460.68,443 L460.65,443.5 L460.62,444 L460.59,444.5 L460.56,445 L460.52,445.5 L460.47,446 L460.42,446.5 L460.36,447 L460.28,447.5 L460.17,448 L460.04,448.5 L459.89,449 L459.73,449.5 L459.55,450 L459.37,450.5 L459.18,451 L458.98,451.5 L458.79,452 L458.6,452.5 L458.41,453 L458.2,453.5 L457.99,454 L457.77,454.5 L457.53,455 L457.29,455.5 L457.04,456 L456.79,456.5 L456.52,457 L456.25,457.5 L455.98,458 L455.69,458.5 L455.39,459 L455.07,459.5 L454.74,460 L454.39,460.5 L454.04,461 L453.67,461.5 L453.31,462 L452.94,462.5 L452.57,463 L452.2,463.5 L451.84,464 L451.49,464.5 L451.13,465 L450.77,465.5 L450.41,466 L450.05,466.5 L449.69,467 L449.33,467.5 L448.97,468 L448.62,468.5 L448.27,469 L447.93,469.5 L447.6,470 L447.27,470.5 L446.94,471 L446.61,471.5 L446.28,472 L445.96,472.5 L445.64,473 L445.33,473.5 L445.03,474 L444.74,474.5 L444.46,475 L444.2,475.5 L443.95,476 L443.72,476.5 L443.48,477 L443.26,477.5 L443.04,478 L442.83,478.5 L442.63,479 L442.43,479.5 L442.25,480 L442.07,480.5 L441.91,481 L441.76,481.5 L441.61,482 L441.47,482.5 L441.33,483 L441.2,483.5 L441.08,484 L440.99,484.5 L440.92,485 L440.88,485.5 L440.84,486 L440.82,486.5 L440.8,487 L440.8,487.2 L482.4,487.2 L482.4,487 L482.38,486.5 L482.36,486 L482.32,485.5 L482.28,485 L482.21,484.5 L482.12,484 L482,483.5 L481.87,483 L481.73,482.5 L481.59,482 L481.44,481.5 L481.29,481 L481.13,480.5 L480.95,480 L480.77,479.5 L480.57,479 L480.37,478.5 L480.16,478 L479.94,477.5 L479.72,477 L479.48,476.5 L479.25,476 L479,475.5 L478.74,475 L478.46,474.5 L478.17,474 L477.87,473.5 L477.56,473 L477.24,472.5 L476.92,472 L476.59,471.5 L476.26,471 L475.93,470.5 L475.6,470 L475.27,469.5 L474.93,469 L474.58,468.5 L474.23,468 L473.87,467.5 L473.51,467 L473.15,466.5 L472.79,466 L472.43,465.5 L472.07,465 L471.71,464.5 L471.36,464 L471,463.5 L470.63,463 L470.26,462.5 L469.89,462 L469.53,461.5 L469.16,461 L468.81,460.5 L468.46,460 L468.13,459.5 L467.81,459 L467.51,458.5 L467.22,458 L466.95,457.5 L466.68,457 L466.41,456.5 L466.16,456 L465.91,455.5 L465.67,455 L465.43,454.5 L465.21,454 L465,453.5 L464.79,453 L464.6,452.5 L464.41,452 L464.22,451.5 L464.02,451 L463.83,450.5 L463.65,450 L463.47,449.5 L463.31,449 L463.16,448.5 L463.03,448 L462.92,447.5 L462.84,447 L462.78,446.5 L462.73,446 L462.68,445.5 L462.64,445 L462.61,444.5 L462.58,444 L462.55,443.5 L462.52,443 L462.49,442.5 L462.47,442 L462.44,441.5 L462.41,441 L462.38,440.5 L462.35,440 L462.33,439.5 L462.3,439 L462.27,438.5 L462.25,438 L462.22,437.5 L462.2,437 L462.17,436.5 L462.15,436 L462.12,435.5 L462.1,435 L462.08,434.5 L462.05,434 L462.03,433.5 L462,433 L461.98,432.5 L461.95,432 L461.93,431.5 L461.91,431 L461.88,430.5 L461.86,430 L461.84,429.5 L461.83,429 L461.81,428.5 L461.8,428 L461.79,427.5 L461.78,427 L461.77,426.5 L461.76,426 L461.75,425.5 L461.74,425 L461.73,424.5 L461.72,424 L461.71,423.5 L461.7,423 L461.7,422.5 L461.69,422 L461.69,421.5 L461.68,421 L461.68,420.5 L461.68,420 L461.68,419.5 L461.68,419 L461.68,418.5 L461.68,418 L461.68,417.5 L461.68,417 L461.68,416.5 L461.68,416 L461.68,415.5 L461.68,415 L461.68,414.5 L461.68,414 L461.68,413.5 L461.68,413 L461.68,412.5 L461.68,412 L461.68,411.5 L461.68,411 L461.68,410.5 L461.68,410 L461.68,409.5 L461.68,409 L461.68,408.5 L461.68,408 L461.68,407.5 L461.68,407 L461.68,406.5 L461.68,406 L461.68,405.5 L461.68,405 L461.68,404.5 L461.68,404 L461.68,403.5 L461.68,403 L461.68,402.5 L461.68,402 L461.68,401.5 L461.68,401 L461.68,400.5 L461.68,400 L461.68,399.5 L461.68,399 L461.68,398.5 L461.68,398 L461.68,397.5 L461.68,397 L461.68,396.5 L461.68,396 L461.68,395.5 L461.68,395 L461.68,394.5 L461.68,394 L461.68,393.5 L461.68,393 L461.68,392.5 L461.68,392 L461.68,391.5 L461.68,391 L461.68,390.5 L461.68,390 L461.68,389.5 L461.68,389 L461.68,388.5 L461.68,388 L461.68,387.5 L461.68,387 L461.68,386.5 L461.68,386 L461.68,385.5 L461.68,385 L461.68,384.5 L461.68,384 L461.68,383.5 L461.68,383 L461.68,382.5 L461.68,382 L461.68,381.5 L461.68,381 L461.68,380.5 L461.68,380 L461.68,379.5 L461.68,379 L461.68,378.5 L461.68,378 L461.68,377.5 L461.68,377 L461.68,376.5 L461.68,376 L461.68,375.5 L461.68,375 L461.68,374.5 L461.68,374 L461.68,373.5 L461.68,373 L461.68,372.5 L461.68,372 L461.68,371.5 L461.68,371 L461.68,370.5 L461.68,370 L461.68,369.5 L461.68,369 L461.68,368.5 L461.68,368 L461.68,367.5 L461.68,367 L461.68,366.5 L461.68,366 L461.68,365.5 L461.68,365 L461.68,364.5 L461.68,364 L461.68,363.5 L461.68,363 L461.68,362.5 L461.68,362 L461.68,361.5 L461.68,361 L461.68,360.5 L461.68,360 L461.68,359.5 L461.68,359 L461.68,358.5 L461.68,358 L461.68,357.5 L461.68,357 L461.68,356.5 L461.68,356 L461.68,355.5 L461.68,355 L461.68,354.5 L461.68,354 L461.68,353.5 L461.68,353 L461.68,352.5 L461.68,352 L461.68,351.5 L461.68,351 L461.68,350.5 L461.68,350 L461.68,349.5 L461.68,349 L461.68,348.5 L461.68,348 L461.68,347.5 L461.68,347 L461.68,346.5 L461.68,346 L461.68,345.5 L461.68,345 L461.68,344.5 L461.68,344 L461.68,343.5 L461.68,343 L461.68,342.5 L461.68,342 L461.68,341.5 L461.68,341 L461.68,340.5 L461.68,340 L461.68,339.5 L461.68,339 L461.68,338.5 L461.68,338 L461.68,337.5 L461.68,337 L461.68,336.5 L461.69,336 L461.69,335.5 L461.69,335 L461.69,334.5 L461.69,334 L461.69,333.5 L461.7,333 L461.7,332.5 L461.7,332 L461.7,331.5 L461.71,331 L461.71,330.5 L461.72,330 L461.73,329.5 L461.74,329 L461.75,328.5 L461.77,328 L461.78,327.5 L461.79,327 L461.81,326.5 L461.82,326 L461.84,325.5 L461.85,325 L461.87,324.5 L461.88,324 L461.9,323.5 L461.93,323 L461.95,322.5 L461.97,322 L462,321.5 L462.02,321 L462.04,320.5 L462.07,320 L462.09,319.5 L462.11,319 L462.13,318.5 L462.14,318 L462.16,317.5 L462.18,317 L462.19,316.5 L462.21,316 L462.23,315.5 L462.24,315 L462.26,314.5 L462.28,314 L462.3,313.5 L462.32,313 L462.33,312.5 L462.35,312 L462.37,311.5 L462.4,311 L462.42,310.5 L462.44,310 L462.46,309.5 L462.48,309 L462.5,308.5 L462.53,308 L462.55,307.5 L462.57,307 L462.6,306.5 L462.62,306 L462.65,305.5 L462.68,305 L462.7,304.5 L462.73,304 L462.76,303.5 L462.78,303 L462.81,302.5 L462.84,302 L462.86,301.5 L462.88,301 L462.91,300.5 L462.93,300 L462.95,299.5 L462.98,299 L463,298.5Z" fill="#00BA38" fill-opacity="0.7" stroke="#000" stroke-width="1.1" stroke-linejoin="round"/>
<circle cx="461.6" cy="298.5" r="2.65" fill="#000"/>
<circle cx="461.6" cy="487.2" r="2.65" fill="#000"/>
<path d="M501.7,298.5 L501.73,299 L501.76,299.5 L501.79,300 L501.82,300.5 L501.85,301 L501.89,301.5 L501.92,302 L501.95,302.5 L501.99,303 L502.02,303.5 L502.06,304 L502.1,304.5 L502.13,305 L502.17,305.5 L502.2,306 L502.24,306.5 L502.27,307 L502.3,307.5 L502.33,308 L502.36,308.5 L502.39,309 L502.42,309.5 L502.45,310 L502.47,310.5 L502.5,311 L502.53,311.5 L502.55,312 L502.58,312.5 L502.6,313 L502.62,313.5 L502.65,314 L502.67,314.5 L502.69,315 L502.7,315.5 L502.72,316 L502.74,316.5 L502.76,317 L502.78,317.5 L502.79,318 L502.81,318.5 L502.83,319 L502.85,319.5 L502.87,320 L502.9,320.5 L502.92,321 L502.95,321.5 L502.97,322 L502.99,322.5 L503.02,323 L503.04,323.5 L503.06,324 L503.08,324.5 L503.1,325 L503.12,325.5 L503.14,326 L503.15,326.5 L503.17,327 L503.19,327.5 L503.21,328 L503.23,328.5 L503.24,329 L503.26,329.5 L503.27,330 L503.28,330.5 L503.29,331 L503.3,331.5 L503.3,332 L503.3,332.5 L503.3,333 L503.31,333.5 L503.31,334 L503.31,334.5 L503.31,335 L503.31,335.5 L503.31,336 L503.32,336.5 L503.32,337 L503.32,337.5 L503.32,338 L503.32,338.5 L503.32,339 L503.32,339.5 L503.32,340 L503.32,340.5 L503.32,341 L503.32,341.5 L503.32,342 L503.32,342.5 L503.32,343 L503.32,343.5 L503.32,344 L503.32,344.5 L503.32,345 L503.32,345.5 L503.32,346 L503.32,346.5 L503.32,347 L503.32,347.5 L503.32,348 L503.32,348.5 L503.32,349 L503.32,349.5 L503.32,350 L503.32,350.5 L503.32,351 L503.32,351.5 L503.32,352 L503.32,352.5 L503.32,353 L503.32,353.5 L503.32,354 L503.32,354.5 L503.32,355 L503.32,355.5 L503.32,356 L503.32,356.5 L503.32,357 L503.32,357.5 L503.32,358 L503.32,358.5 L503.32,359 L503.32,359.5 L503.32,360 L503.32,360.5 L503.32,361 L503.32,361.5 L503.32,362 L503.32,362.5 L503.32,363 L503.32,363.5 L503.32,364 L503.32,364.5 L503.32,365 L503.32,365.5 L503.32,366 L503.32,366.5 L503.32,367 L503.32,367.5 L503.32,368 L503.32,368.5 L503.32,369 L503.32,369.5 L503.32,370 L503.32,370.5 L503.32,371 L503.32,371.5 L503.32,372 L503.32,372.5 L503.32,373 L503.32,373.5 L503.32,374 L503.32,374.5 L503.32,375 L503.32,375.5 L503.32,376 L503.32,376.5 L503.32,377 L503.32,377.5 L503.32,378 L503.32,378.5 L503.32,379 L503.32,379.5 L503.32,380 L503.32,380.5 L503.32,381 L503.32,381.5 L503.32,382 L503.32,382.5 L503.32,383 L503.32,383.5 L503.32,384 L503.32,384.5 L503.32,385 L503.32,385.5 L503.32,386 L503.32,386.5 L503.32,387 L503.32,387.5 L503.32,388 L503.32,388.5 L503.32,389 L503.32,389.5 L503.32,390 L503.32,390.5 L503.32,391 L503.32,391.5 L503.32,392 L503.32,392.5 L503.32,393 L503.32,393.5 L503.32,394 L503.32,394.5 L503.32,395 L503.32,395.5 L503.32,396 L503.32,396.5 L503.32,397 L503.32,397.5 L503.32,398 L503.32,398.5 L503.32,399 L503.32,399.5 L503.32,400 L503.32,400.5 L503.32,401 L503.32,401.5 L503.32,402 L503.32,402.5 L503.32,403 L503.32,403.5 L503.32,404 L503.32,404.5 L503.32,405 L503.32,405.5 L503.32,406 L503.32,406.5 L503.32,407 L503.32,407.5 L503.32,408 L503.32,408.5 L503.32,409 L503.32,409.5 L503.32,410 L503.32,410.5 L503.32,411 L503.32,411.5 L503.32,412 L503.32,412.5 L503.32,413 L503.32,413.5 L503.32,414 L503.32,414.5 L503.32,415 L503.32,415.5 L503.32,416 L503.32,416.5 L503.32,417 L503.32,417.5 L503.32,418 L503.32,418.5 L503.32,419 L503.32,419.5 L503.32,420 L503.32,420.5 L503.32,421 L503.31,421.5 L503.31,422 L503.3,422.5 L503.3,423 L503.29,423.5 L503.28,424 L503.27,424.5 L503.26,425 L503.25,425.5 L503.24,426 L503.23,426.5 L503.22,427 L503.21,427.5 L503.2,428 L503.19,428.5 L503.17,429 L503.16,429.5 L503.14,430 L503.12,430.5 L503.11,431 L503.08,431.5 L503.06,432 L503.04,432.5 L503.01,433 L502.99,433.5 L502.96,434 L502.93,434.5 L502.9,435 L502.87,435.5 L502.83,436 L502.79,436.5 L502.74,437 L502.69,437.5 L502.64,438 L502.58,438.5 L502.52,439 L502.46,439.5 L502.4,440 L502.34,440.5 L502.27,441 L502.21,441.5 L502.14,442 L502.07,442.5 L502,443 L501.93,443.5 L501.85,444 L501.76,444.5 L501.68,445 L501.59,445.5 L501.49,446 L501.39,446.5 L501.28,447 L501.17,447.5 L501.04,448 L500.9,448.5 L500.75,449 L500.6,449.5 L500.44,450 L500.28,450.5 L500.11,451 L499.94,451.5 L499.77,452 L499.6,452.5 L499.43,453 L499.25,453.5 L499.07,454 L498.88,454.5 L498.69,455 L498.49,455.5 L498.29,456 L498.09,456.5 L497.89,457 L497.68,457.5 L497.47,458 L497.26,458.5 L497.04,459 L496.82,459.5 L496.59,460 L496.37,460.5 L496.13,461 L495.9,461.5 L495.66,462 L495.42,462.5 L495.18,463 L494.94,463.5 L494.7,464 L494.45,464.5 L494.21,465 L493.96,465.5 L493.72,466 L493.47,466.5 L493.22,467 L492.96,467.5 L492.71,468 L492.46,468.5 L492.21,469 L491.95,469.5 L491.7,470 L491.44,470.5 L491.18,471 L490.92,471.5 L490.65,472 L490.39,472.5 L490.12,473 L489.86,473.5 L489.6,474 L489.35,474.5 L489.11,475 L488.88,475.5 L488.66,476 L488.44,476.5 L488.23,477 L488.02,477.5 L487.81,478 L487.61,478.5 L487.41,479 L487.22,479.5 L487.04,480 L486.87,480.5 L486.71,481 L486.56,481.5 L486.42,482 L486.27,482.5 L486.13,483 L486,483.5 L485.88,484 L485.79,484.5 L485.72,485 L485.68,485.5 L485.64,486 L485.62,486.5 L485.6,487 L485.6,487.2 L521.2,487.2 L521.2,487 L521.18,486.5 L521.16,486 L521.12,485.5 L521.08,485 L521.01,484.5 L520.92,484 L520.8,483.5 L520.67,483 L520.53,482.5 L520.38,482 L520.24,481.5 L520.09,481 L519.93,480.5 L519.76,480 L519.58,479.5 L519.39,479 L519.19,478.5 L518.99,478 L518.78,477.5 L518.57,477 L518.36,476.5 L518.14,476 L517.92,475.5 L517.69,475 L517.45,474.5 L517.2,474 L516.94,473.5 L516.68,473 L516.41,472.5 L516.15,472 L515.88,471.5 L515.62,471 L515.36,470.5 L515.1,470 L514.85,469.5 L514.59,469 L514.34,468.5 L514.09,468 L513.84,467.5 L513.58,467 L513.33,466.5 L513.08,466 L512.84,465.5 L512.59,465 L512.35,464.5 L512.1,464 L511.86,463.5 L511.62,463 L511.38,462.5 L511.14,462 L510.9,461.5 L510.67,461 L510.43,460.5 L510.21,460 L509.98,459.5 L509.76,459 L509.54,458.5 L509.33,458 L509.12,457.5 L508.91,457 L508.71,456.5 L508.51,456 L508.31,455.5 L508.11,455 L507.92,454.5 L507.73,454 L507.55,453.5 L507.37,453 L507.2,452.5 L507.03,452 L506.86,451.5 L506.69,451 L506.52,450.5 L506.36,450 L506.2,449.5 L506.05,449 L505.9,448.5 L505.76,448 L505.63,447.5 L505.52,447 L505.41,446.5 L505.31,446 L505.21,445.5 L505.12,445 L505.04,444.5 L504.95,444 L504.87,443.5 L504.8,443 L504.73,442.5 L504.66,442 L504.59,441.5 L504.53,441 L504.46,440.5 L504.4,440 L504.34,439.5 L504.28,439 L504.22,438.5 L504.16,438 L504.11,437.5 L504.06,437 L504.01,436.5 L503.97,436 L503.93,435.5 L503.9,435 L503.87,434.5 L503.84,434 L503.81,433.5 L503.79,433 L503.76,432.5 L503.74,432 L503.72,431.5 L503.69,431 L503.68,430.5 L503.66,430 L503.64,429.5 L503.63,429 L503.61,428.5 L503.6,428 L503.59,427.5 L503.58,427 L503.57,426.5 L503.56,426 L503.55,425.5 L503.54,425 L503.53,424.5 L503.52,424 L503.51,423.5 L503.5,423 L503.5,422.5 L503.49,422 L503.49,421.5 L503.48,421 L503.48,420.5 L503.48,420 L503.48,419.5 L503.48,419 L503.48,418.5 L503.48,418 L503.48,417.5 L503.48,417 L503.48,416.5 L503.48,416 L503.48,415.5 L503.48,415 L503.48,414.5 L503.48,414 L503.48,413.5 L503.48,413 L503.48,412.5 L503.48,412 L503.48,411.5 L503.48,411 L503.48,410.5 L503.48,410 L503.48,409.5 L503.48,409 L503.48,408.5 L503.48,408 L503.48,407.5 L503.48,407 L503.48,406.5 L503.48,406 L503.48,405.5 L503.48,405 L503.48,404.5 L503.48,404 L503.48,403.5 L503.48,403 L503.48,402.5 L503.48,402 L503.48,401.5 L503.48,401 L503.48,400.5 L503.48,400 L503.48,399.5 L503.48,399 L503.48,398.5 L503.48,398 L503.48,397.5 L503.48,397 L503.48,396.5 L503.48,396 L503.48,395.5 L503.48,395 L503.48,394.5 L503.48,394 L503.48,393.5 L503.48,393 L503.48,392.5 L503.48,392 L503.48,391.5 L503.48,391 L503.48,390.5 L503.48,390 L503.48,389.5 L503.48,389 L503.48,388.5 L503.48,388 L503.48,387.5 L503.48,387 L503.48,386.5 L503.48,386 L503.48,385.5 L503.48,385 L503.48,384.5 L503.48,384 L503.48,383.5 L503.48,383 L503.48,382.5 L503.48,382 L503.48,381.5 L503.48,381 L503.48,380.5 L503.48,380 L503.48,379.5 L503.48,379 L503.48,378.5 L503.48,378 L503.48,377.5 L503.48,377 L503.48,376.5 L503.48,376 L503.48,375.5 L503.48,375 L503.48,374.5 L503.48,374 L503.48,373.5 L503.48,373 L503.48,372.5 L503.48,372 L503.48,371.5 L503.48,371 L503.48,370.5 L503.48,370 L503.48,369.5 L503.48,369 L503.48,368.5 L503.48,368 L503.48,367.5 L503.48,367 L503.48,366.5 L503.48,366 L503.48,365.5 L503.48,365 L503.48,364.5 L503.48,364 L503.48,363.5 L503.48,363 L503.48,362.5 L503.48,362 L503.48,361.5 L503.48,361 L503.48,360.5 L503.48,360 L503.48,359.5 L503.48,359 L503.48,358.5 L503.48,358 L503.48,357.5 L503.48,357 L503.48,356.5 L503.48,356 L503.48,355.5 L503.48,355 L503.48,354.5 L503.48,354 L503.48,353.5 L503.48,353 L503.48,352.5 L503.48,352 L503.48,351.5 L503.48,351 L503.48,350.5 L503.48,350 L503.48,349.5 L503.48,349 L503.48,348.5 L503.48,348 L503.48,347.5 L503.48,347 L503.48,346.5 L503.48,346 L503.48,345.5 L503.48,345 L503.48,344.5 L503.48,344 L503.48,343.5 L503.48,343 L503.48,342.5 L503.48,342 L503.48,341.5 L503.48,341 L503.48,340.5 L503.48,340 L503.48,339.5 L503.48,339 L503.48,338.5 L503.48,338 L503.48,337.5 L503.48,337 L503.48,336.5 L503.49,336 L503.49,335.5 L503.49,335 L503.49,334.5 L503.49,334 L503.49,333.5 L503.5,333 L503.5,332.5 L503.5,332 L503.5,331.5 L503.51,331 L503.52,330.5 L503.53,330 L503.54,329.5 L503.56,329 L503.57,328.5 L503.59,328 L503.61,327.5 L503.63,327 L503.65,326.5 L503.66,326 L503.68,325.5 L503.7,325 L503.72,324.5 L503.74,324 L503.76,323.5 L503.78,323 L503.81,322.5 L503.83,322 L503.85,321.5 L503.88,321 L503.9,320.5 L503.93,320 L503.95,319.5 L503.97,319 L503.99,318.5 L504.01,318 L504.02,317.5 L504.04,317 L504.06,316.5 L504.08,316 L504.1,315.5 L504.11,315 L504.13,314.5 L504.15,314 L504.18,313.5 L504.2,313 L504.22,312.5 L504.25,312 L504.27,311.5 L504.3,311 L504.33,310.5 L504.35,310 L504.38,309.5 L504.41,309 L504.44,308.5 L504.47,308 L504.5,307.5 L504.53,307 L504.56,306.5 L504.6,306 L504.63,305.5 L504.67,305 L504.7,304.5 L504.74,304 L504.78,303.5 L504.81,303 L504.85,302.5 L504.88,302 L504.91,301.5 L504.95,301 L504.98,300.5 L505.01,300 L505.04,299.5 L505.07,299 L505.1,298.5Z" fill="#619CFF" fill-opacity="0.7" stroke="#000" stroke-width="1.1" stroke-linejoin="round"/>
<circle cx="503.4" cy="298.5" r="2.65" fill="#000"/>
<circle cx="503.4" cy="487.2" r="2.65" fill="#000"/>
<line x1="555.65" x2="562.95" y1="487.2" y2="487.2" stroke="#000" stroke-width="1.9"/>
<circle cx="559.3" cy="487.2" r="2.65" fill="#000"/>
<line x1="597.55" x2="604.85" y1="487.2" y2="487.2" stroke="#000" stroke-width="1.9"/>
<circle cx="601.2" cy="487.2" r="2.65" fill="#000"/>
<line x1="639.55" x2="646.85" y1="487.2" y2="487.2" stroke="#000" stroke-width="1.9"/>
<circle cx="643.2" cy="487.2" r="2.65" fill="#000"/>
<path d="M377.75,289.2 V496.4 H686" fill="none" stroke="#1c1c1c" stroke-width="1.1" stroke-linejoin="round"/>
<line x1="375.05" x2="377.25" y1="487.2" y2="487.2" stroke="#333" stroke-width="0.85"/>
<line x1="375.05" x2="377.25" y1="449.46" y2="449.46" stroke="#333" stroke-width="0.85"/>
<line x1="375.05" x2="377.25" y1="411.72" y2="411.72" stroke="#333" stroke-width="0.85"/>
<line x1="375.05" x2="377.25" y1="373.98" y2="373.98" stroke="#333" stroke-width="0.85"/>
<line x1="375.05" x2="377.25" y1="336.24" y2="336.24" stroke="#333" stroke-width="0.85"/>
<line x1="375.05" x2="377.25" y1="298.5" y2="298.5" stroke="#333" stroke-width="0.85"/>
<line x1="461.6" x2="461.6" y1="496.9" y2="499.1" stroke="#333" stroke-width="0.85"/>
<line x1="601.2" x2="601.2" y1="496.9" y2="499.1" stroke="#333" stroke-width="0.85"/>
</g>
<text transform="translate(-0.3,10.5) rotate(0.03) scale(1.03,1.01)" class="lab">A</text>
<text transform="translate(182.4,22.9) rotate(0.03)" class="ttl" text-anchor="middle">UG production</text>
<text transform="translate(25.15,234.9) rotate(0.03)" class="tk" text-anchor="end">0.00</text>
<text transform="translate(25.15,195.9) rotate(0.03)" class="tk" text-anchor="end">0.01</text>
<text transform="translate(25.15,156.9) rotate(0.03)" class="tk" text-anchor="end">0.02</text>
<text transform="translate(25.15,117.9) rotate(0.03)" class="tk" text-anchor="end">0.03</text>
<text transform="translate(25.15,78.9) rotate(0.03)" class="tk" text-anchor="end">0.04</text>
<text transform="translate(25.15,39.9) rotate(0.03)" class="tk" text-anchor="end">0.05</text>
<text transform="translate(112.85,246.85) rotate(0.03)" class="xl" text-anchor="middle">With environment</text>
<text transform="translate(252.55,246.85) rotate(0.03)" class="xl" text-anchor="middle">Without environment</text>
<text transform="translate(344.9,10.5) rotate(0.03) scale(0.95,1.01)" class="lab">B</text>
<text transform="translate(531.15,22.9) rotate(0.03)" class="ttl" text-anchor="middle">Variance of UG production</text>
<text transform="translate(374.05,230.8) rotate(0.03)" class="tk" text-anchor="end">0.000</text>
<text transform="translate(374.05,180.5) rotate(0.03)" class="tk" text-anchor="end">0.003</text>
<text transform="translate(374.05,130.2) rotate(0.03)" class="tk" text-anchor="end">0.006</text>
<text transform="translate(374.05,79.9) rotate(0.03)" class="tk" text-anchor="end">0.009</text>
<text transform="translate(461.65,246.85) rotate(0.03)" class="xl" text-anchor="middle">With environment</text>
<text transform="translate(601.25,246.85) rotate(0.03)" class="xl" text-anchor="middle">Without environment</text>
<text transform="translate(-0.3,269.7) rotate(0.03) scale(0.95,1.01)" class="lab">C</text>
<text transform="translate(182.4,281.65) rotate(0.03)" class="ttl" text-anchor="middle">Mean population fitness</text>
<text transform="translate(25.15,335.4) rotate(0.03)" class="tk" text-anchor="end">0.9</text>
<text transform="translate(25.15,392.7) rotate(0.03)" class="tk" text-anchor="end">0.8</text>
<text transform="translate(25.15,450) rotate(0.03)" class="tk" text-anchor="end">0.7</text>
<text transform="translate(112.85,505.75) rotate(0.03)" class="xl" text-anchor="middle">With environment</text>
<text transform="translate(252.55,505.75) rotate(0.03)" class="xl" text-anchor="middle">Without environment</text>
<text transform="translate(344.9,269.7) rotate(0.03) scale(0.95,1.01)" class="lab">D</text>
<text transform="translate(531.15,281.65) rotate(0.03)" class="ttl" text-anchor="middle">Frequency of tetraploids</text>
<text transform="translate(374.1,489.7) rotate(0.03)" class="tk" text-anchor="end">0.000</text>
<text transform="translate(374.1,451.96) rotate(0.03)" class="tk" text-anchor="end">0.001</text>
<text transform="translate(374.1,414.22) rotate(0.03)" class="tk" text-anchor="end">0.002</text>
<text transform="translate(374.1,376.48) rotate(0.03)" class="tk" text-anchor="end">0.003</text>
<text transform="translate(374.1,338.74) rotate(0.03)" class="tk" text-anchor="end">0.004</text>
<text transform="translate(374.1,301) rotate(0.03)" class="tk" text-anchor="end">0.005</text>
<text transform="translate(461.65,505.75) rotate(0.03)" class="xl" text-anchor="middle">With environment</text>
<text transform="translate(601.25,505.75) rotate(0.03)" class="xl" text-anchor="middle">Without environment</text>
</svg>
</body>
</html>
